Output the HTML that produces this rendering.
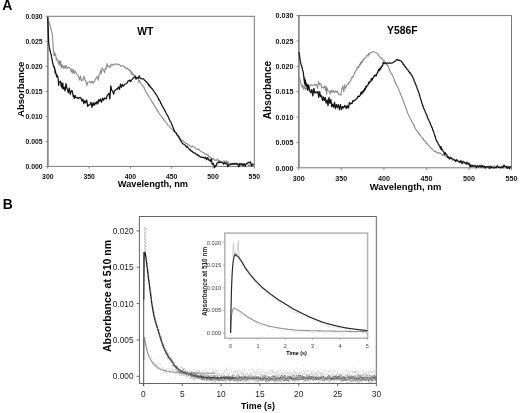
<!DOCTYPE html>
<html><head><meta charset="utf-8"><title>Figure</title>
<style>html,body{margin:0;padding:0;background:#fff;width:520px;height:413px;overflow:hidden;font-family:"Liberation Sans",sans-serif}svg{display:block;will-change:transform}</style>
</head><body>
<svg width="520" height="413" viewBox="0 0 520 413">
<rect width="520" height="413" fill="#fff"/>
<text x="2.3" y="10.2" font-family="Liberation Sans, sans-serif" font-weight="bold" font-size="14" fill="#000">A</text>
<text x="2.8" y="209.0" font-family="Liberation Sans, sans-serif" font-weight="bold" font-size="13.8" fill="#000">B</text>
<rect x="47.8" y="16.3" width="206.5" height="150.1" fill="none" stroke="#7a7a7a" stroke-width="1"/>
<line x1="47.8" y1="16.3" x2="47.8" y2="166.4" stroke="#8a8a8a" stroke-width="1.6"/>
<line x1="45.5" y1="166.40" x2="47.8" y2="166.40" stroke="#7a7a7a" stroke-width="0.9"/>
<text transform="translate(42.60,169.15) scale(0.88,1)" font-family="Liberation Sans, sans-serif" font-weight="bold" font-size="7.8" text-anchor="end" fill="#111">0.000</text>
<line x1="45.5" y1="141.38" x2="47.8" y2="141.38" stroke="#7a7a7a" stroke-width="0.9"/>
<text transform="translate(42.60,144.13) scale(0.88,1)" font-family="Liberation Sans, sans-serif" font-weight="bold" font-size="7.8" text-anchor="end" fill="#111">0.005</text>
<line x1="45.5" y1="116.37" x2="47.8" y2="116.37" stroke="#7a7a7a" stroke-width="0.9"/>
<text transform="translate(42.60,119.12) scale(0.88,1)" font-family="Liberation Sans, sans-serif" font-weight="bold" font-size="7.8" text-anchor="end" fill="#111">0.010</text>
<line x1="45.5" y1="91.35" x2="47.8" y2="91.35" stroke="#7a7a7a" stroke-width="0.9"/>
<text transform="translate(42.60,94.10) scale(0.88,1)" font-family="Liberation Sans, sans-serif" font-weight="bold" font-size="7.8" text-anchor="end" fill="#111">0.015</text>
<line x1="45.5" y1="66.33" x2="47.8" y2="66.33" stroke="#7a7a7a" stroke-width="0.9"/>
<text transform="translate(42.60,69.08) scale(0.88,1)" font-family="Liberation Sans, sans-serif" font-weight="bold" font-size="7.8" text-anchor="end" fill="#111">0.020</text>
<line x1="45.5" y1="41.32" x2="47.8" y2="41.32" stroke="#7a7a7a" stroke-width="0.9"/>
<text transform="translate(42.60,44.07) scale(0.88,1)" font-family="Liberation Sans, sans-serif" font-weight="bold" font-size="7.8" text-anchor="end" fill="#111">0.025</text>
<line x1="45.5" y1="16.30" x2="47.8" y2="16.30" stroke="#7a7a7a" stroke-width="0.9"/>
<text transform="translate(42.60,19.05) scale(0.88,1)" font-family="Liberation Sans, sans-serif" font-weight="bold" font-size="7.8" text-anchor="end" fill="#111">0.030</text>
<line x1="47.80" y1="166.4" x2="47.80" y2="168.6" stroke="#7a7a7a" stroke-width="0.9"/>
<text transform="translate(47.80,178.80) scale(0.88,1)" font-family="Liberation Sans, sans-serif" font-weight="bold" font-size="7.8" text-anchor="middle" fill="#111">300</text>
<line x1="89.10" y1="166.4" x2="89.10" y2="168.6" stroke="#7a7a7a" stroke-width="0.9"/>
<text transform="translate(89.10,178.80) scale(0.88,1)" font-family="Liberation Sans, sans-serif" font-weight="bold" font-size="7.8" text-anchor="middle" fill="#111">350</text>
<line x1="130.40" y1="166.4" x2="130.40" y2="168.6" stroke="#7a7a7a" stroke-width="0.9"/>
<text transform="translate(130.40,178.80) scale(0.88,1)" font-family="Liberation Sans, sans-serif" font-weight="bold" font-size="7.8" text-anchor="middle" fill="#111">400</text>
<line x1="171.70" y1="166.4" x2="171.70" y2="168.6" stroke="#7a7a7a" stroke-width="0.9"/>
<text transform="translate(171.70,178.80) scale(0.88,1)" font-family="Liberation Sans, sans-serif" font-weight="bold" font-size="7.8" text-anchor="middle" fill="#111">450</text>
<line x1="213.00" y1="166.4" x2="213.00" y2="168.6" stroke="#7a7a7a" stroke-width="0.9"/>
<text transform="translate(213.00,178.80) scale(0.88,1)" font-family="Liberation Sans, sans-serif" font-weight="bold" font-size="7.8" text-anchor="middle" fill="#111">500</text>
<line x1="254.30" y1="166.4" x2="254.30" y2="168.6" stroke="#7a7a7a" stroke-width="0.9"/>
<text transform="translate(254.30,178.80) scale(0.88,1)" font-family="Liberation Sans, sans-serif" font-weight="bold" font-size="7.8" text-anchor="middle" fill="#111">550</text>
<text x="145.4" y="34.6" font-family="Liberation Sans, sans-serif" font-weight="bold" font-size="10.4" text-anchor="middle" fill="#000">WT</text>
<rect x="298.8" y="15.6" width="212.7" height="152.20000000000002" fill="none" stroke="#7a7a7a" stroke-width="1"/>
<line x1="298.8" y1="15.6" x2="298.8" y2="167.8" stroke="#8a8a8a" stroke-width="1.6"/>
<line x1="296.5" y1="167.80" x2="298.8" y2="167.80" stroke="#7a7a7a" stroke-width="0.9"/>
<text transform="translate(293.60,170.55) scale(0.9,1)" font-family="Liberation Sans, sans-serif" font-weight="bold" font-size="8.0" text-anchor="end" fill="#111">0.000</text>
<line x1="296.5" y1="142.43" x2="298.8" y2="142.43" stroke="#7a7a7a" stroke-width="0.9"/>
<text transform="translate(293.60,145.18) scale(0.9,1)" font-family="Liberation Sans, sans-serif" font-weight="bold" font-size="8.0" text-anchor="end" fill="#111">0.005</text>
<line x1="296.5" y1="117.07" x2="298.8" y2="117.07" stroke="#7a7a7a" stroke-width="0.9"/>
<text transform="translate(293.60,119.82) scale(0.9,1)" font-family="Liberation Sans, sans-serif" font-weight="bold" font-size="8.0" text-anchor="end" fill="#111">0.010</text>
<line x1="296.5" y1="91.70" x2="298.8" y2="91.70" stroke="#7a7a7a" stroke-width="0.9"/>
<text transform="translate(293.60,94.45) scale(0.9,1)" font-family="Liberation Sans, sans-serif" font-weight="bold" font-size="8.0" text-anchor="end" fill="#111">0.015</text>
<line x1="296.5" y1="66.33" x2="298.8" y2="66.33" stroke="#7a7a7a" stroke-width="0.9"/>
<text transform="translate(293.60,69.08) scale(0.9,1)" font-family="Liberation Sans, sans-serif" font-weight="bold" font-size="8.0" text-anchor="end" fill="#111">0.020</text>
<line x1="296.5" y1="40.97" x2="298.8" y2="40.97" stroke="#7a7a7a" stroke-width="0.9"/>
<text transform="translate(293.60,43.72) scale(0.9,1)" font-family="Liberation Sans, sans-serif" font-weight="bold" font-size="8.0" text-anchor="end" fill="#111">0.025</text>
<line x1="296.5" y1="15.60" x2="298.8" y2="15.60" stroke="#7a7a7a" stroke-width="0.9"/>
<text transform="translate(293.60,18.35) scale(0.9,1)" font-family="Liberation Sans, sans-serif" font-weight="bold" font-size="8.0" text-anchor="end" fill="#111">0.030</text>
<line x1="298.80" y1="167.8" x2="298.80" y2="170.0" stroke="#7a7a7a" stroke-width="0.9"/>
<text transform="translate(298.80,180.70) scale(0.9,1)" font-family="Liberation Sans, sans-serif" font-weight="bold" font-size="8.0" text-anchor="middle" fill="#111">300</text>
<line x1="341.34" y1="167.8" x2="341.34" y2="170.0" stroke="#7a7a7a" stroke-width="0.9"/>
<text transform="translate(341.34,180.70) scale(0.9,1)" font-family="Liberation Sans, sans-serif" font-weight="bold" font-size="8.0" text-anchor="middle" fill="#111">350</text>
<line x1="383.88" y1="167.8" x2="383.88" y2="170.0" stroke="#7a7a7a" stroke-width="0.9"/>
<text transform="translate(383.88,180.70) scale(0.9,1)" font-family="Liberation Sans, sans-serif" font-weight="bold" font-size="8.0" text-anchor="middle" fill="#111">400</text>
<line x1="426.42" y1="167.8" x2="426.42" y2="170.0" stroke="#7a7a7a" stroke-width="0.9"/>
<text transform="translate(426.42,180.70) scale(0.9,1)" font-family="Liberation Sans, sans-serif" font-weight="bold" font-size="8.0" text-anchor="middle" fill="#111">450</text>
<line x1="468.96" y1="167.8" x2="468.96" y2="170.0" stroke="#7a7a7a" stroke-width="0.9"/>
<text transform="translate(468.96,180.70) scale(0.9,1)" font-family="Liberation Sans, sans-serif" font-weight="bold" font-size="8.0" text-anchor="middle" fill="#111">500</text>
<line x1="511.50" y1="167.8" x2="511.50" y2="170.0" stroke="#7a7a7a" stroke-width="0.9"/>
<text transform="translate(511.50,180.70) scale(0.9,1)" font-family="Liberation Sans, sans-serif" font-weight="bold" font-size="8.0" text-anchor="middle" fill="#111">550</text>
<text x="402.3" y="33.8" font-family="Liberation Sans, sans-serif" font-weight="bold" font-size="10.4" text-anchor="middle" fill="#000">Y586F</text>
<text transform="translate(23.5,89.3) rotate(-90)" font-family="Liberation Sans, sans-serif" font-weight="bold" font-size="9.6" text-anchor="middle" fill="#000">Absorbance</text>
<text transform="translate(271.1,90) rotate(-90)" font-family="Liberation Sans, sans-serif" font-weight="bold" font-size="10.1" text-anchor="middle" fill="#000">Absorbance</text>
<text x="152.9" y="187.2" font-family="Liberation Sans, sans-serif" font-weight="bold" font-size="9.2" text-anchor="middle" fill="#000">Wavelength, nm</text>
<text x="405.6" y="190.2" font-family="Liberation Sans, sans-serif" font-weight="bold" font-size="9.4" text-anchor="middle" fill="#000">Wavelength, nm</text>
<polyline fill="none" stroke="#8c8c8c" stroke-width="1.1" stroke-linejoin="round" points="47.60,17.87 47.91,18.34 48.21,19.90 48.52,20.45 48.83,21.23 49.14,22.50 49.45,23.84 49.77,24.44 50.10,25.84 50.43,26.70 50.75,28.16 51.06,29.27 51.34,30.28 51.63,30.89 51.91,32.67 52.14,32.98 52.32,34.82 52.46,34.92 52.56,37.69 52.63,37.52 52.70,39.70 52.77,40.01 52.84,41.49 52.91,42.08 52.97,43.21 53.02,44.20 53.08,46.31 53.13,46.70 53.19,47.77 53.27,48.65 53.43,50.19 53.67,50.54 54.01,55.48 54.34,52.21 54.68,55.87 55.04,53.28 55.43,54.80 55.85,55.53 56.31,60.12 56.80,58.42 57.33,59.96 57.89,60.61 58.52,64.08 59.19,60.72 59.90,65.61 60.64,60.79 61.44,67.68 62.28,64.75 63.15,68.32 64.07,65.63 65.04,68.57 66.09,65.25 67.17,68.54 68.26,67.37 69.34,67.67 70.39,68.29 71.26,72.08 72.01,68.93 72.75,73.34 73.56,69.52 74.38,73.37 75.20,71.10 76.04,72.98 76.90,74.31 77.79,75.31 78.69,77.03 79.58,80.04 80.47,75.74 81.34,80.91 82.20,79.71 83.08,80.21 83.99,75.93 84.90,79.75 85.83,81.08 86.78,85.64 87.77,82.21 88.81,82.00 89.85,81.29 90.92,83.01 92.01,81.09 92.99,83.32 93.75,81.80 94.41,82.12 95.04,79.71 95.69,79.67 96.39,76.91 97.07,77.59 97.74,76.66 98.41,80.13 99.09,74.67 99.80,74.33 100.55,70.27 101.33,73.68 102.14,67.79 102.95,69.47 103.77,70.46 104.56,72.67 105.34,68.12 106.15,68.92 107.05,63.65 108.04,66.71 109.05,65.84 110.08,67.70 111.13,64.12 112.18,65.79 113.23,64.00 114.28,65.05 115.35,64.10 116.43,63.87 117.52,64.20 118.62,64.26 119.69,64.80 120.75,66.39 121.78,65.84 122.72,65.58 123.59,65.93 124.44,67.34 125.35,66.87 126.28,69.02 127.22,68.03 128.14,68.79 129.01,70.24 129.80,71.00 130.56,70.27 131.31,74.17 132.08,72.06 132.92,75.44 133.80,74.17 134.68,77.13 135.53,75.27 136.29,78.25 136.96,77.27 137.57,78.10 138.15,77.80 138.72,82.12 139.31,80.58 139.94,81.34 140.63,83.52 141.37,84.30 142.10,84.90 142.80,86.05 143.44,86.39 143.97,87.36 144.44,88.97 144.89,89.79 145.35,90.56 145.85,91.87 146.40,92.54 146.97,93.41 147.55,94.32 148.15,95.84 148.74,95.84 149.33,97.66 149.90,98.22 150.47,98.96 151.03,99.80 151.58,101.35 152.14,101.64 152.69,103.32 153.26,103.38 153.82,105.06 154.38,105.34 154.94,106.83 155.51,107.08 156.08,108.84 156.67,108.87 157.26,111.02 157.87,110.90 158.48,112.00 159.10,113.33 159.73,114.18 160.36,115.16 161.00,115.83 161.65,116.78 162.30,117.95 162.96,117.88 163.62,119.99 164.29,120.03 164.97,121.37 165.64,121.96 166.31,122.74 166.99,123.52 167.67,124.82 168.36,125.58 169.07,126.11 169.80,127.09 170.55,127.89 171.34,128.60 172.13,129.30 172.93,129.55 173.71,131.44 174.47,131.71 175.19,132.55 175.88,133.13 176.55,134.33 177.22,134.64 177.90,136.45 178.60,136.39 179.33,137.71 180.10,138.13 180.89,139.53 181.70,139.84 182.52,140.69 183.37,140.85 184.24,142.33 185.14,142.71 186.06,143.69 186.99,143.42 187.94,144.79 188.90,144.73 189.87,145.58 190.86,146.23 191.86,146.83 192.85,145.86 193.84,147.31 194.82,147.62 195.80,148.73 196.78,149.16 197.75,149.54 198.72,149.13 199.67,150.53 200.61,151.14 201.54,151.58 202.47,152.25 203.41,152.63 204.35,153.57 205.29,154.19 206.23,153.92 207.17,155.11 208.09,154.54 209.00,157.30 209.85,156.93 210.68,157.85 211.54,157.75 212.46,159.60 213.47,158.23 214.51,160.56 215.56,160.10 216.62,160.45 217.69,159.01 218.77,161.28 219.86,160.56 220.94,162.11 222.02,162.50 223.09,161.94 224.15,160.79 225.20,162.40 226.26,160.68 227.34,163.07 228.42,161.58 229.51,165.23 230.60,163.37 231.69,164.55 232.78,163.79 233.88,164.58 234.98,162.73 236.07,164.29 237.17,163.79 238.26,163.90 239.36,164.37 240.45,164.43 241.54,163.13 242.64,165.04 243.74,163.75 244.84,165.18 245.94,164.22 247.03,164.23 248.13,164.11 249.23,166.03 250.33,164.84 251.43,164.86 252.53,163.92 253.62,165.99"/>
<polyline fill="none" stroke="#151515" stroke-width="1.25" stroke-linejoin="round" points="47.60,17.05 47.66,17.46 47.72,19.11 47.77,20.07 47.83,21.62 47.88,22.42 47.93,23.42 47.99,24.69 48.04,25.84 48.08,26.01 48.13,27.95 48.18,29.36 48.22,30.34 48.27,31.44 48.32,32.49 48.36,33.63 48.40,34.65 48.44,35.49 48.48,37.47 48.51,37.54 48.55,39.04 48.59,39.65 48.64,41.61 48.69,42.50 48.75,43.80 48.85,43.70 48.99,45.54 49.15,45.77 49.36,47.89 49.62,48.60 49.90,50.40 50.15,50.91 50.44,52.16 50.74,53.14 51.04,54.73 51.30,54.76 51.51,56.88 51.69,57.35 51.87,58.96 52.04,58.84 52.23,60.82 52.43,61.65 52.68,63.08 52.95,63.67 53.24,65.30 53.56,65.59 53.88,67.03 54.21,66.53 54.53,68.67 54.82,68.17 55.12,73.07 55.42,70.44 55.75,73.66 56.14,73.38 56.61,76.93 57.14,75.48 57.69,75.97 58.21,79.14 58.67,85.32 59.14,82.18 59.72,81.95 60.52,81.28 61.36,86.86 61.98,83.03 62.40,88.17 62.79,83.14 63.31,88.98 64.13,87.15 65.08,91.01 66.03,83.57 66.86,88.42 67.51,89.33 68.28,92.93 69.25,88.20 70.28,94.35 71.27,90.87 72.11,90.59 72.73,93.46 73.26,96.57 73.78,95.77 74.33,98.35 74.98,95.27 75.93,97.72 76.99,97.32 78.07,98.66 79.14,97.87 80.19,97.35 81.15,98.50 82.03,101.22 82.89,99.20 83.80,103.60 84.74,100.60 85.70,102.91 86.69,99.97 87.72,106.45 88.76,104.85 89.82,104.87 90.89,102.22 91.98,107.41 93.07,102.75 94.09,105.43 95.05,102.63 96.01,104.17 96.95,101.35 97.84,103.87 98.73,99.52 99.64,101.34 100.60,99.05 101.59,102.24 102.60,98.13 103.60,100.24 104.57,97.97 105.45,98.33 106.21,98.95 106.90,96.38 107.57,94.81 108.26,94.44 109.01,93.46 109.87,98.85 110.78,85.77 111.72,90.23 112.68,91.30 113.64,94.13 114.60,90.51 115.57,90.09 116.55,88.93 117.53,89.08 118.51,86.94 119.49,89.42 120.48,83.99 121.47,87.30 122.46,84.45 123.45,86.09 124.43,84.49 125.37,84.26 126.29,83.59 127.17,82.87 128.05,80.93 128.91,80.97 129.78,80.04 130.63,81.63 131.41,80.14 132.18,79.30 132.99,78.34 133.91,77.60 134.98,76.51 136.06,79.26 137.10,77.54 138.16,78.21 139.25,75.80 140.34,78.68 141.43,78.52 142.50,78.81 143.47,78.83 144.35,79.93 145.19,80.66 146.01,81.62 146.79,82.09 147.52,83.33 148.22,83.56 148.90,85.89 149.59,85.06 150.29,87.06 150.98,87.28 151.66,88.68 152.33,88.69 152.99,90.07 153.63,90.65 154.26,91.94 154.87,92.41 155.47,93.66 156.06,94.27 156.63,95.09 157.20,96.31 157.74,97.32 158.27,97.96 158.78,99.98 159.29,99.85 159.80,100.91 160.31,101.33 160.83,103.55 161.33,103.58 161.84,105.47 162.35,106.14 162.85,107.19 163.36,107.99 163.88,108.66 164.41,109.32 164.94,110.94 165.48,111.32 166.03,113.06 166.56,114.18 167.09,114.90 167.61,115.72 168.12,116.63 168.62,117.60 169.12,119.17 169.61,119.83 170.09,121.26 170.56,121.36 171.02,122.58 171.45,123.31 171.87,125.10 172.28,125.07 172.70,126.50 173.12,127.61 173.56,128.46 174.03,129.70 174.54,131.44 175.11,131.87 175.73,132.63 176.38,133.06 177.04,134.99 177.68,135.42 178.27,135.99 178.80,136.72 179.28,138.54 179.75,138.89 180.22,140.04 180.72,140.44 181.27,141.70 181.95,142.64 182.75,143.59 183.63,144.21 184.55,144.73 185.48,145.39 186.37,147.09 187.19,146.45 187.96,147.56 188.71,148.45 189.46,149.75 190.22,149.63 191.01,151.04 191.86,150.90 192.76,151.98 193.69,152.98 194.62,152.93 195.55,153.42 196.46,154.75 197.38,154.32 198.31,155.86 199.27,155.78 200.25,156.89 201.26,157.31 202.29,157.13 203.32,157.37 204.37,158.16 205.43,157.26 206.50,159.63 207.58,157.60 208.63,160.03 209.62,159.95 210.49,161.30 211.31,158.98 212.06,163.99 212.63,164.37 213.17,163.30 213.75,164.96 214.60,167.71 215.56,165.49 216.33,165.50 217.08,162.91 217.97,162.79 218.88,161.65 219.87,162.65 220.94,162.05 221.86,162.30 222.68,162.58 223.54,164.18 224.58,162.55 225.67,163.76 226.76,163.16 227.85,166.70 228.95,164.48 230.05,164.85 231.14,163.87 232.23,164.25 233.32,163.35 234.42,164.32 235.52,163.93 236.61,163.55 237.70,164.35 238.79,166.87 239.88,163.28 240.96,165.00 242.04,163.88 243.14,166.01 244.23,163.59 245.26,165.90 246.24,163.69 247.25,163.21 248.33,162.25 249.43,162.77 250.52,161.84 251.59,166.02 252.64,164.41 253.64,164.08"/>
<polyline fill="none" stroke="#8c8c8c" stroke-width="1.1" stroke-linejoin="round" points="299.00,78.32 299.56,77.93 299.99,79.82 300.31,80.52 300.57,81.87 300.82,81.82 301.09,84.67 301.48,85.44 302.05,87.07 302.75,84.85 303.60,89.31 304.53,85.85 305.49,89.60 306.53,87.67 307.53,89.23 308.07,88.40 309.00,90.50 310.02,84.92 311.07,84.66 312.15,85.48 313.24,85.16 314.32,84.05 315.40,85.42 316.47,84.23 317.54,88.53 318.62,81.76 319.70,84.76 320.79,83.70 321.76,88.02 322.64,87.50 323.55,87.77 324.57,85.82 325.48,90.38 326.05,86.33 326.55,94.40 327.09,87.79 327.88,90.60 328.97,90.92 330.06,93.98 331.16,90.00 332.25,92.56 333.33,90.33 334.37,92.51 335.40,90.89 336.44,92.37 337.46,90.87 338.47,94.39 339.53,94.17 340.46,94.82 340.94,95.25 341.32,92.00 341.70,89.56 342.16,88.29 342.89,85.89 343.80,91.89 344.75,84.73 345.61,88.33 346.38,86.17 347.08,85.05 347.74,83.82 348.37,84.37 348.99,82.38 349.60,82.60 350.19,80.99 350.75,80.91 351.29,77.94 351.82,78.21 352.33,76.41 352.85,77.31 353.37,76.41 353.90,74.73 354.45,72.62 355.02,72.48 355.61,70.75 356.21,70.41 356.83,67.79 357.45,68.44 358.07,66.44 358.69,67.77 359.31,64.67 359.91,65.71 360.51,62.52 361.10,64.10 361.68,61.37 362.28,62.61 362.89,59.86 363.52,60.44 364.18,57.97 364.89,58.32 365.62,58.06 366.38,55.94 367.16,55.09 367.97,56.28 368.79,53.23 369.61,54.46 370.40,52.53 371.31,52.48 372.40,51.79 373.49,51.81 374.55,51.91 375.59,52.68 376.61,52.81 377.46,53.97 378.15,54.15 378.79,55.28 379.43,56.67 380.13,57.69 380.90,57.76 381.69,58.72 382.48,58.66 383.26,60.57 384.01,60.98 384.78,61.74 385.54,62.72 386.27,64.49 386.94,63.73 387.54,65.82 388.03,65.66 388.46,67.34 388.86,68.18 389.25,69.08 389.65,70.21 390.06,71.89 390.51,72.03 391.04,73.35 391.63,73.96 392.23,75.10 392.79,76.20 393.29,77.06 393.70,78.19 394.00,78.89 394.27,79.48 394.59,81.47 395.02,81.24 395.53,83.27 396.09,83.91 396.67,85.26 397.20,86.17 397.68,87.23 398.13,87.74 398.57,89.62 399.01,89.97 399.43,91.64 399.85,92.04 400.26,93.40 400.67,94.04 401.08,95.82 401.49,95.97 401.89,97.30 402.28,97.82 402.67,99.65 403.06,99.75 403.45,102.31 403.84,102.13 404.22,103.55 404.61,104.16 404.99,106.19 405.37,106.35 405.73,107.56 406.10,108.38 406.47,109.66 406.84,110.22 407.22,111.56 407.61,112.90 408.02,114.14 408.46,114.31 408.93,116.11 409.42,116.60 409.93,117.77 410.45,118.91 410.97,119.82 411.49,120.29 412.00,122.26 412.48,122.33 412.95,123.57 413.41,124.39 413.88,125.59 414.35,125.29 414.85,127.74 415.37,128.38 415.94,129.84 416.55,129.90 417.18,131.27 417.83,131.70 418.50,133.50 419.18,133.06 419.86,134.91 420.53,135.28 421.21,136.96 421.89,137.39 422.57,138.91 423.26,138.74 423.95,140.58 424.65,140.53 425.34,141.89 426.02,142.14 426.70,144.00 427.39,143.65 428.10,144.97 428.82,145.39 429.58,146.58 430.34,147.17 431.11,148.32 431.89,148.72 432.70,149.62 433.54,150.32 434.43,151.66 435.38,151.13 436.38,152.34 437.41,152.34 438.45,153.41 439.49,152.61 440.51,153.72 441.51,153.80 442.49,155.33 443.46,154.89 444.42,155.71 445.40,155.86 446.37,157.03 447.35,157.00 448.33,158.30 449.32,157.85 450.32,158.95 451.35,158.09 452.38,160.48 453.42,159.45 454.46,160.71 455.49,159.73 456.54,161.10 457.58,161.15 458.62,161.99 459.67,162.37 460.71,162.65 461.76,162.17 462.80,163.23 463.83,163.33 464.87,163.44 465.91,162.81 466.96,164.52 468.01,164.16 469.09,164.96 470.16,164.29 471.24,166.68 472.32,164.77 473.41,166.18 474.50,165.11 475.59,166.73 476.69,165.54 477.78,166.52 478.88,166.11 479.97,166.90 481.07,164.97 482.16,167.97 483.26,165.97 484.36,167.76 485.46,166.79 486.56,167.29 487.66,166.65 488.75,168.18 489.85,166.80 490.95,168.00 492.05,166.35 493.15,167.59 494.25,165.60 495.35,166.97 496.45,166.41 497.55,167.00 498.65,167.11 499.75,167.37 500.85,166.62 501.95,166.62 503.05,166.23 504.15,167.45 505.25,166.53 506.35,167.15 507.45,166.10 508.55,167.35 509.65,166.70 510.75,167.49"/>
<polyline fill="none" stroke="#151515" stroke-width="1.25" stroke-linejoin="round" points="299.00,52.23 299.17,52.91 299.33,54.43 299.49,54.92 299.65,57.17 299.80,56.93 299.93,58.57 300.07,59.07 300.22,60.64 300.39,61.62 300.61,62.62 300.88,63.60 301.22,65.20 301.58,65.56 301.94,67.52 302.23,67.85 302.50,69.95 302.75,70.47 302.97,71.43 303.19,71.74 303.37,73.37 303.53,74.57 303.69,76.49 303.86,76.63 304.06,80.11 304.28,77.64 304.50,83.78 304.75,80.89 305.03,83.88 305.34,79.82 305.67,85.64 306.03,82.68 306.43,86.04 306.95,84.31 307.58,90.22 308.28,84.83 309.04,88.01 309.88,91.16 310.80,92.81 311.78,89.32 312.82,95.87 313.87,88.43 314.91,93.21 315.92,91.95 316.89,92.78 317.83,91.34 318.75,97.46 319.67,91.54 320.60,96.69 321.52,95.62 322.45,100.44 323.37,96.82 324.29,100.57 325.22,97.51 326.15,103.04 327.09,99.81 328.03,105.64 328.97,97.47 329.91,103.31 330.84,99.42 331.76,106.74 332.69,104.17 333.61,107.28 334.56,102.48 335.52,108.61 336.48,104.51 337.45,107.64 338.43,104.65 339.45,109.88 340.48,104.51 341.52,109.57 342.57,106.53 343.65,107.99 344.74,105.38 345.72,107.16 346.47,108.53 347.14,105.39 347.82,107.55 348.58,107.81 349.41,102.45 350.26,104.03 351.12,103.06 351.98,103.64 352.84,100.67 353.69,101.33 354.53,100.20 355.39,100.19 356.24,99.02 357.10,98.44 357.94,96.03 358.77,96.64 359.57,96.33 360.33,94.85 361.06,92.09 361.73,94.17 362.35,91.51 362.95,92.68 363.53,90.11 364.12,91.21 364.71,88.45 365.33,89.39 365.98,86.11 366.65,87.00 367.32,85.35 368.00,85.20 368.69,82.17 369.38,83.18 370.07,81.08 370.76,81.60 371.46,78.32 372.15,80.05 372.85,78.07 373.55,77.92 374.25,75.43 374.94,76.16 375.63,74.87 376.32,75.73 377.02,73.10 377.71,72.89 378.39,69.61 379.07,70.96 379.73,68.36 380.36,69.71 380.93,67.12 381.46,67.49 382.00,65.68 382.57,65.76 383.25,62.30 384.17,63.70 385.17,62.76 386.21,63.30 387.30,62.98 388.39,63.24 389.46,62.85 390.54,63.24 391.63,63.09 392.63,62.88 393.59,62.01 394.50,61.45 395.33,61.06 396.20,60.09 397.22,59.33 398.31,60.45 399.35,60.20 400.35,60.71 401.29,61.00 402.03,62.22 402.66,62.55 403.25,64.57 403.84,64.36 404.47,66.10 405.13,66.35 405.79,67.63 406.45,68.04 407.12,69.51 407.78,69.78 408.44,71.38 409.13,71.68 409.83,73.19 410.51,72.94 411.16,74.74 411.75,75.18 412.27,76.52 412.74,76.89 413.18,78.40 413.60,79.18 414.00,80.47 414.40,81.43 414.80,82.12 415.20,83.08 415.61,84.57 416.02,84.98 416.43,86.52 416.84,87.20 417.25,88.92 417.64,89.34 418.03,90.85 418.41,91.23 418.77,92.42 419.12,93.40 419.45,95.09 419.76,95.59 420.05,97.45 420.34,97.94 420.62,99.21 420.91,99.65 421.22,100.84 421.54,101.02 421.89,103.52 422.26,103.87 422.63,105.40 423.01,105.71 423.41,107.79 423.81,108.56 424.22,109.51 424.64,109.84 425.05,111.37 425.46,112.34 425.88,113.26 426.31,114.16 426.75,115.16 427.19,116.13 427.63,117.92 428.07,119.01 428.50,119.30 428.94,120.62 429.37,121.66 429.81,121.98 430.25,123.61 430.69,124.46 431.12,125.56 431.55,126.95 431.97,127.33 432.38,128.04 432.77,130.11 433.15,130.38 433.51,131.74 433.86,132.24 434.21,133.91 434.56,134.88 434.91,136.11 435.28,136.34 435.66,138.70 436.06,139.46 436.48,140.85 436.93,140.92 437.38,141.88 437.85,142.63 438.34,144.35 438.84,144.70 439.37,146.13 439.92,146.38 440.49,148.77 441.08,146.64 441.70,149.83 442.34,149.41 443.01,151.09 443.71,151.72 444.42,154.51 445.15,152.60 445.92,154.39 446.72,154.33 447.59,157.29 448.52,156.70 449.48,159.06 450.47,157.18 451.48,158.25 452.50,158.81 453.51,159.25 454.54,160.13 455.58,161.48 456.62,159.56 457.67,160.91 458.73,161.06 459.79,162.28 460.85,160.50 461.90,163.66 462.95,161.26 463.98,162.15 465.00,162.72 466.01,163.91 467.03,162.02 468.05,164.00 469.08,163.19 470.11,166.97 471.14,165.17 472.19,166.54 473.25,165.54 474.33,166.24 475.42,165.68 476.52,167.75 477.61,165.67 478.71,166.90 479.81,165.53 480.91,167.14 482.00,165.42 483.10,166.99 484.20,166.08 485.30,168.12 486.40,166.59 487.50,166.78 488.59,166.35 489.69,168.36 490.79,166.07 491.89,167.72 492.99,167.50 494.09,168.05 495.19,167.45 496.29,167.62 497.39,165.72 498.49,167.33 499.59,167.16 500.69,167.95 501.79,166.64 502.89,167.76 503.99,165.01 505.09,166.56 506.19,166.23 507.29,168.36 508.39,166.76 509.49,168.75 510.59,166.03"/>
<rect x="139.4" y="216.5" width="236.9" height="167.0" fill="none" stroke="#666" stroke-width="1"/>
<line x1="136.6" y1="376.30" x2="139.4" y2="376.30" stroke="#555" stroke-width="0.9"/>
<text x="133.6" y="379.40" font-family="Liberation Sans, sans-serif" font-size="8.3" text-anchor="end" fill="#222">0.000</text>
<line x1="136.6" y1="339.95" x2="139.4" y2="339.95" stroke="#555" stroke-width="0.9"/>
<text x="133.6" y="343.05" font-family="Liberation Sans, sans-serif" font-size="8.3" text-anchor="end" fill="#222">0.005</text>
<line x1="136.6" y1="303.60" x2="139.4" y2="303.60" stroke="#555" stroke-width="0.9"/>
<text x="133.6" y="306.70" font-family="Liberation Sans, sans-serif" font-size="8.3" text-anchor="end" fill="#222">0.010</text>
<line x1="136.6" y1="267.25" x2="139.4" y2="267.25" stroke="#555" stroke-width="0.9"/>
<text x="133.6" y="270.35" font-family="Liberation Sans, sans-serif" font-size="8.3" text-anchor="end" fill="#222">0.015</text>
<line x1="136.6" y1="230.90" x2="139.4" y2="230.90" stroke="#555" stroke-width="0.9"/>
<text x="133.6" y="234.00" font-family="Liberation Sans, sans-serif" font-size="8.3" text-anchor="end" fill="#222">0.020</text>
<line x1="143.40" y1="383.5" x2="143.40" y2="386.1" stroke="#555" stroke-width="0.9"/>
<text x="143.40" y="397.3" font-family="Liberation Sans, sans-serif" font-size="8.3" text-anchor="middle" fill="#222">0</text>
<line x1="182.24" y1="383.5" x2="182.24" y2="386.1" stroke="#555" stroke-width="0.9"/>
<text x="182.24" y="397.3" font-family="Liberation Sans, sans-serif" font-size="8.3" text-anchor="middle" fill="#222">5</text>
<line x1="221.07" y1="383.5" x2="221.07" y2="386.1" stroke="#555" stroke-width="0.9"/>
<text x="221.07" y="397.3" font-family="Liberation Sans, sans-serif" font-size="8.3" text-anchor="middle" fill="#222">10</text>
<line x1="259.91" y1="383.5" x2="259.91" y2="386.1" stroke="#555" stroke-width="0.9"/>
<text x="259.91" y="397.3" font-family="Liberation Sans, sans-serif" font-size="8.3" text-anchor="middle" fill="#222">15</text>
<line x1="298.74" y1="383.5" x2="298.74" y2="386.1" stroke="#555" stroke-width="0.9"/>
<text x="298.74" y="397.3" font-family="Liberation Sans, sans-serif" font-size="8.3" text-anchor="middle" fill="#222">20</text>
<line x1="337.58" y1="383.5" x2="337.58" y2="386.1" stroke="#555" stroke-width="0.9"/>
<text x="337.58" y="397.3" font-family="Liberation Sans, sans-serif" font-size="8.3" text-anchor="middle" fill="#222">25</text>
<line x1="376.41" y1="383.5" x2="376.41" y2="386.1" stroke="#555" stroke-width="0.9"/>
<text x="376.41" y="397.3" font-family="Liberation Sans, sans-serif" font-size="8.3" text-anchor="middle" fill="#222">30</text>
<text transform="translate(110.6,296) rotate(-90)" font-family="Liberation Sans, sans-serif" font-weight="bold" font-size="10.5" text-anchor="middle" fill="#000">Absorbance at 510 nm</text>
<text x="258" y="409.0" font-family="Liberation Sans, sans-serif" font-weight="bold" font-size="8.9" text-anchor="middle" fill="#000">Time (s)</text>
<polyline fill="none" stroke="#888" stroke-width="1.1" points="143.70,360.00 144.20,337.10 144.70,339.40 145.20,341.76 145.70,344.20 146.20,346.84 146.70,349.20 147.20,351.16 147.70,352.93 148.20,354.48 148.70,355.80 149.20,356.98 149.70,358.03 150.20,358.99 150.70,359.87 151.20,360.68 151.70,361.46 152.20,362.21 152.70,362.90 153.20,363.55 153.70,364.16 154.20,364.70 154.70,365.19 155.20,365.65 155.70,366.09 156.20,366.51 156.70,366.91 157.20,367.28 157.70,367.62 158.20,367.94 158.70,368.24 159.20,368.50 159.70,368.74 160.20,368.97 160.70,369.19 161.20,369.41 161.70,369.61 162.20,369.81 162.70,369.99 163.20,370.17 163.70,370.33 164.20,370.49 164.70,370.63 165.20,370.77 165.70,370.89 166.20,371.00 166.70,371.10 167.20,371.19 167.70,371.28 168.20,371.36 168.70,371.45 169.20,371.52 169.70,371.60 170.20,371.67 170.70,371.74 171.20,371.81 171.70,371.87 172.20,371.93 172.70,371.98 173.20,372.04 173.70,372.09 174.20,372.13 174.70,372.18 175.20,372.22 175.70,372.25 176.20,372.29 176.70,372.32 177.20,372.35 177.70,372.38 178.20,372.41 178.70,372.44 179.20,372.47 179.70,372.50 180.20,372.52 180.70,372.55 181.20,372.58 181.70,372.60 182.20,372.63 182.70,372.66 183.20,372.68 183.70,372.70 184.20,372.73 184.70,372.75 185.20,372.77 185.70,372.80 186.20,372.82 186.70,372.84 187.20,372.86 187.70,372.88 188.20,372.90 188.70,372.92 189.20,372.94 189.70,372.95 190.20,372.97 190.70,372.99 191.20,373.00 191.70,373.02 192.20,373.03 192.70,373.05 193.20,373.06 193.70,373.08 194.20,373.09 194.70,373.10 195.20,373.11 195.70,373.13 196.20,373.14 196.70,373.15 197.20,373.16 197.70,373.17 198.20,373.17 198.70,373.18 199.20,373.19 199.70,373.20 200.20,373.20 200.70,373.21 201.20,373.21 201.70,373.22 202.20,373.23 202.70,373.23 203.20,373.24 203.70,373.24 204.20,373.25 204.70,373.26 205.20,373.26 205.70,373.27 206.20,373.27 206.70,373.28 207.20,373.28 207.70,373.29 208.20,373.29 208.70,373.30 209.20,373.31 209.70,373.31 210.20,373.32 210.70,373.32 211.20,373.33 211.70,373.33 212.20,373.33 212.70,373.34 213.20,373.34 213.70,373.35 214.20,373.35 214.70,373.36"/>
<polyline fill="none" stroke="#1a1a1a" stroke-width="1.25" points="143.70,300.00 144.10,256.00 145.00,251.50 145.50,254.81 146.00,258.29 146.50,261.94 147.00,265.77 147.50,269.95 148.00,274.27 148.50,278.44 149.00,282.18 149.50,285.73 150.00,289.55 150.50,293.50 151.00,297.45 151.50,301.24 152.00,304.72 152.50,307.78 153.00,310.62 153.50,313.30 154.00,315.81 154.50,318.12 155.00,320.22 155.50,322.07 156.00,323.65 156.50,325.20 157.00,326.81 157.50,328.42 158.00,330.03 158.50,331.65 159.00,333.29 159.50,334.96 160.00,336.63 160.50,338.26 161.00,339.80 161.50,341.30 162.00,342.75 162.50,344.16 163.00,345.49 163.50,346.74 164.00,347.94 164.50,349.11 165.00,350.24 165.50,351.32 166.00,352.36 166.50,353.35 167.00,354.29 167.50,355.17 168.00,356.00 168.50,356.78 169.00,357.52 169.50,358.23 170.00,358.91 170.50,359.59 171.00,360.25 171.50,360.92 172.00,361.61 172.50,362.31 173.00,363.05 173.50,363.82 174.00,364.58 174.50,365.28 175.00,365.88 175.50,366.47 176.00,367.04 176.50,367.58 177.00,368.09 177.50,368.56 178.00,369.00 178.50,369.39 179.00,369.73 179.50,370.05 180.00,370.34 180.50,370.62 181.00,370.88 181.50,371.12 182.00,371.35 182.50,371.58 183.00,371.79 183.50,372.01 184.00,372.22 184.50,372.43 185.00,372.63 185.50,372.83 186.00,373.03 186.50,373.22 187.00,373.40 187.50,373.58 188.00,373.76 188.50,373.93 189.00,374.09 189.50,374.25 190.00,374.40 190.50,374.55 191.00,374.69 191.50,374.84 192.00,374.98 192.50,375.12 193.00,375.25 193.50,375.39 194.00,375.51 194.50,375.64 195.00,375.76 195.50,375.87 196.00,375.98 196.50,376.08 197.00,376.18 197.50,376.27 198.00,376.35 198.50,376.43 199.00,376.51 199.50,376.59 200.00,376.67 200.50,376.75 201.00,376.83 201.50,376.90 202.00,376.97 202.50,377.04 203.00,377.11 203.50,377.18 204.00,377.24 204.50,377.30 205.00,377.35 205.50,377.40 206.00,377.44 206.50,377.49 207.00,377.52 207.50,377.55 208.00,377.58 208.50,377.60 209.00,377.62 209.50,377.63 210.00,377.65 210.50,377.67 211.00,377.68 211.50,377.70 212.00,377.71 212.50,377.73 213.00,377.74 213.50,377.76 214.00,377.77 214.50,377.79 215.00,377.80 215.50,377.81 216.00,377.82 216.50,377.84 217.00,377.85 217.50,377.86 218.00,377.87 218.50,377.88 219.00,377.89 219.50,377.90 220.00,377.91 220.50,377.92 221.00,377.93 221.50,377.93 222.00,377.94 222.50,377.95 223.00,377.95 223.50,377.96 224.00,377.97 224.50,377.97 225.00,377.98 225.50,377.98 226.00,377.98 226.50,377.99 227.00,377.99 227.50,377.99 228.00,378.00 228.50,378.00 229.00,378.00 229.50,378.00 230.00,378.00 230.50,378.00 231.00,378.00 231.50,378.00 232.00,378.00 232.50,378.00 233.00,378.00 233.50,378.00 234.00,378.00 234.50,378.00 235.00,378.00 235.50,378.00"/>
<path d="M145.0 342.3h0.9v0.9h-0.9zM145.6 342.4h0.9v0.9h-0.9zM146.1 344.2h0.9v0.9h-0.9zM146.7 347.7h0.9v0.9h-0.9zM147.2 349.1h0.9v0.9h-0.9zM147.8 352.9h0.9v0.9h-0.9zM148.3 354.5h0.9v0.9h-0.9zM148.9 355.6h0.9v0.9h-0.9zM149.4 355.8h0.9v0.9h-0.9zM150.0 351.0h0.9v0.9h-0.9zM150.5 359.1h0.9v0.9h-0.9zM151.1 356.2h0.9v0.9h-0.9zM151.6 361.2h0.9v0.9h-0.9zM152.2 363.7h0.9v0.9h-0.9zM152.7 362.8h0.9v0.9h-0.9zM153.3 362.3h0.9v0.9h-0.9zM153.8 363.3h0.9v0.9h-0.9zM154.4 364.0h0.9v0.9h-0.9zM154.9 363.7h0.9v0.9h-0.9zM155.5 364.2h0.9v0.9h-0.9zM156.0 364.0h0.9v0.9h-0.9zM156.6 368.4h0.9v0.9h-0.9zM157.1 366.6h0.9v0.9h-0.9zM157.7 368.8h0.9v0.9h-0.9zM158.2 366.9h0.9v0.9h-0.9zM158.8 367.8h0.9v0.9h-0.9zM159.3 367.6h0.9v0.9h-0.9zM159.9 369.1h0.9v0.9h-0.9zM160.4 370.0h0.9v0.9h-0.9zM161.0 369.2h0.9v0.9h-0.9zM161.5 367.7h0.9v0.9h-0.9zM162.1 367.7h0.9v0.9h-0.9zM162.6 372.5h0.9v0.9h-0.9zM163.2 369.0h0.9v0.9h-0.9zM163.7 369.2h0.9v0.9h-0.9zM164.3 372.7h0.9v0.9h-0.9zM164.8 372.1h0.9v0.9h-0.9zM165.4 371.2h0.9v0.9h-0.9zM165.9 369.6h0.9v0.9h-0.9zM166.5 374.9h0.9v0.9h-0.9zM167.0 371.3h0.9v0.9h-0.9zM167.6 371.7h0.9v0.9h-0.9zM168.1 370.4h0.9v0.9h-0.9zM168.7 368.2h0.9v0.9h-0.9zM169.2 368.4h0.9v0.9h-0.9zM169.8 371.8h0.9v0.9h-0.9zM170.3 371.8h0.9v0.9h-0.9zM170.9 370.7h0.9v0.9h-0.9zM171.4 369.0h0.9v0.9h-0.9zM172.0 368.6h0.9v0.9h-0.9zM172.5 370.7h0.9v0.9h-0.9zM173.1 368.7h0.9v0.9h-0.9zM173.6 373.2h0.9v0.9h-0.9zM174.2 373.7h0.9v0.9h-0.9zM174.7 377.0h0.9v0.9h-0.9zM175.3 373.3h0.9v0.9h-0.9zM175.8 370.5h0.9v0.9h-0.9zM176.4 370.0h0.9v0.9h-0.9zM176.9 365.2h0.9v0.9h-0.9zM177.5 370.6h0.9v0.9h-0.9zM178.0 371.5h0.9v0.9h-0.9zM178.6 373.7h0.9v0.9h-0.9zM179.1 373.0h0.9v0.9h-0.9zM179.7 373.0h0.9v0.9h-0.9zM180.2 372.3h0.9v0.9h-0.9zM180.8 373.2h0.9v0.9h-0.9zM181.3 374.7h0.9v0.9h-0.9zM181.9 370.0h0.9v0.9h-0.9zM182.4 371.2h0.9v0.9h-0.9zM183.0 369.4h0.9v0.9h-0.9zM183.5 375.2h0.9v0.9h-0.9zM184.1 374.6h0.9v0.9h-0.9zM184.6 373.6h0.9v0.9h-0.9zM185.2 369.9h0.9v0.9h-0.9zM185.7 372.5h0.9v0.9h-0.9zM186.3 371.8h0.9v0.9h-0.9zM186.8 372.4h0.9v0.9h-0.9zM187.4 371.9h0.9v0.9h-0.9zM187.9 373.3h0.9v0.9h-0.9zM188.5 371.6h0.9v0.9h-0.9zM189.0 374.0h0.9v0.9h-0.9zM189.6 372.8h0.9v0.9h-0.9zM190.1 371.8h0.9v0.9h-0.9zM190.7 372.2h0.9v0.9h-0.9zM191.2 371.6h0.9v0.9h-0.9zM191.8 374.0h0.9v0.9h-0.9zM192.3 371.9h0.9v0.9h-0.9zM192.9 373.0h0.9v0.9h-0.9zM193.4 371.7h0.9v0.9h-0.9zM194.0 369.7h0.9v0.9h-0.9zM194.5 374.2h0.9v0.9h-0.9zM195.1 370.5h0.9v0.9h-0.9zM195.6 373.8h0.9v0.9h-0.9zM196.2 373.3h0.9v0.9h-0.9zM196.7 369.4h0.9v0.9h-0.9zM197.3 370.8h0.9v0.9h-0.9zM197.8 371.6h0.9v0.9h-0.9zM198.4 371.0h0.9v0.9h-0.9zM198.9 370.3h0.9v0.9h-0.9zM199.5 374.0h0.9v0.9h-0.9zM200.0 372.1h0.9v0.9h-0.9zM200.6 373.3h0.9v0.9h-0.9zM201.1 371.8h0.9v0.9h-0.9zM201.7 373.2h0.9v0.9h-0.9zM202.2 371.2h0.9v0.9h-0.9zM202.8 372.6h0.9v0.9h-0.9zM203.3 373.7h0.9v0.9h-0.9zM203.9 372.7h0.9v0.9h-0.9zM204.4 371.8h0.9v0.9h-0.9zM205.0 370.6h0.9v0.9h-0.9zM205.5 373.0h0.9v0.9h-0.9zM206.1 373.3h0.9v0.9h-0.9zM206.6 372.2h0.9v0.9h-0.9zM207.2 371.2h0.9v0.9h-0.9zM207.7 373.7h0.9v0.9h-0.9zM208.3 377.4h0.9v0.9h-0.9zM208.8 372.1h0.9v0.9h-0.9zM209.4 373.3h0.9v0.9h-0.9zM209.9 373.4h0.9v0.9h-0.9zM210.5 367.8h0.9v0.9h-0.9zM211.0 373.0h0.9v0.9h-0.9zM211.6 371.4h0.9v0.9h-0.9zM212.1 375.4h0.9v0.9h-0.9zM212.7 372.3h0.9v0.9h-0.9zM213.2 371.3h0.9v0.9h-0.9zM213.8 372.3h0.9v0.9h-0.9zM214.3 373.1h0.9v0.9h-0.9zM214.9 371.7h0.9v0.9h-0.9zM215.4 372.7h0.9v0.9h-0.9zM216.0 370.2h0.9v0.9h-0.9zM216.5 372.3h0.9v0.9h-0.9zM217.1 374.3h0.9v0.9h-0.9zM217.6 376.5h0.9v0.9h-0.9zM218.2 374.1h0.9v0.9h-0.9zM218.7 373.3h0.9v0.9h-0.9zM219.3 375.0h0.9v0.9h-0.9zM219.8 374.7h0.9v0.9h-0.9zM220.4 376.0h0.9v0.9h-0.9zM220.9 374.9h0.9v0.9h-0.9zM221.5 372.6h0.9v0.9h-0.9zM222.0 373.3h0.9v0.9h-0.9zM222.6 373.2h0.9v0.9h-0.9zM223.1 373.4h0.9v0.9h-0.9zM223.7 373.2h0.9v0.9h-0.9zM224.2 371.3h0.9v0.9h-0.9zM224.8 368.8h0.9v0.9h-0.9zM225.3 371.6h0.9v0.9h-0.9zM225.9 369.0h0.9v0.9h-0.9zM226.4 373.0h0.9v0.9h-0.9zM227.0 372.9h0.9v0.9h-0.9zM227.5 369.7h0.9v0.9h-0.9zM228.1 374.2h0.9v0.9h-0.9zM228.6 374.5h0.9v0.9h-0.9zM229.2 373.0h0.9v0.9h-0.9zM229.7 376.0h0.9v0.9h-0.9zM230.3 376.4h0.9v0.9h-0.9zM230.8 370.6h0.9v0.9h-0.9zM231.4 374.9h0.9v0.9h-0.9zM231.9 373.7h0.9v0.9h-0.9zM232.5 373.7h0.9v0.9h-0.9zM233.0 374.7h0.9v0.9h-0.9zM233.6 371.5h0.9v0.9h-0.9zM234.1 371.8h0.9v0.9h-0.9zM234.7 371.3h0.9v0.9h-0.9zM235.2 371.5h0.9v0.9h-0.9zM235.8 372.7h0.9v0.9h-0.9zM236.3 370.1h0.9v0.9h-0.9zM236.9 370.9h0.9v0.9h-0.9zM237.4 374.0h0.9v0.9h-0.9zM238.0 372.8h0.9v0.9h-0.9zM238.5 373.6h0.9v0.9h-0.9zM239.1 369.3h0.9v0.9h-0.9zM239.6 371.4h0.9v0.9h-0.9zM240.2 371.9h0.9v0.9h-0.9zM240.7 373.0h0.9v0.9h-0.9zM241.3 371.8h0.9v0.9h-0.9zM241.8 374.7h0.9v0.9h-0.9zM242.4 372.8h0.9v0.9h-0.9zM242.9 373.0h0.9v0.9h-0.9zM243.5 373.0h0.9v0.9h-0.9zM244.0 374.3h0.9v0.9h-0.9zM244.6 372.1h0.9v0.9h-0.9zM245.1 375.1h0.9v0.9h-0.9zM245.7 373.8h0.9v0.9h-0.9zM246.2 373.2h0.9v0.9h-0.9zM246.8 373.0h0.9v0.9h-0.9zM247.3 373.9h0.9v0.9h-0.9zM247.9 374.9h0.9v0.9h-0.9zM248.4 374.8h0.9v0.9h-0.9zM249.0 373.7h0.9v0.9h-0.9zM249.5 374.6h0.9v0.9h-0.9zM250.1 373.2h0.9v0.9h-0.9zM250.6 375.3h0.9v0.9h-0.9zM251.2 372.9h0.9v0.9h-0.9zM251.7 369.0h0.9v0.9h-0.9zM252.3 375.5h0.9v0.9h-0.9zM252.8 373.2h0.9v0.9h-0.9zM253.4 370.8h0.9v0.9h-0.9zM253.9 372.6h0.9v0.9h-0.9zM254.5 371.3h0.9v0.9h-0.9zM255.0 377.0h0.9v0.9h-0.9zM255.6 373.9h0.9v0.9h-0.9zM256.1 370.0h0.9v0.9h-0.9zM256.7 374.0h0.9v0.9h-0.9zM257.2 372.2h0.9v0.9h-0.9zM257.8 376.6h0.9v0.9h-0.9zM258.3 371.0h0.9v0.9h-0.9zM258.9 368.7h0.9v0.9h-0.9zM259.4 373.1h0.9v0.9h-0.9zM260.0 372.3h0.9v0.9h-0.9zM260.5 372.2h0.9v0.9h-0.9zM261.1 368.9h0.9v0.9h-0.9zM261.6 373.8h0.9v0.9h-0.9zM262.2 376.2h0.9v0.9h-0.9zM262.7 369.4h0.9v0.9h-0.9zM263.3 375.2h0.9v0.9h-0.9zM263.8 371.9h0.9v0.9h-0.9zM264.4 377.5h0.9v0.9h-0.9zM264.9 373.8h0.9v0.9h-0.9zM265.5 372.7h0.9v0.9h-0.9zM266.0 375.1h0.9v0.9h-0.9zM266.6 374.0h0.9v0.9h-0.9zM267.1 371.9h0.9v0.9h-0.9zM267.7 374.4h0.9v0.9h-0.9zM268.2 372.1h0.9v0.9h-0.9zM268.8 369.6h0.9v0.9h-0.9zM269.3 376.9h0.9v0.9h-0.9zM269.9 372.4h0.9v0.9h-0.9zM270.4 371.9h0.9v0.9h-0.9zM271.0 373.7h0.9v0.9h-0.9zM271.5 370.1h0.9v0.9h-0.9zM272.1 370.5h0.9v0.9h-0.9zM272.6 372.1h0.9v0.9h-0.9zM273.2 372.0h0.9v0.9h-0.9zM273.7 373.2h0.9v0.9h-0.9zM274.3 375.2h0.9v0.9h-0.9zM274.8 372.1h0.9v0.9h-0.9zM275.4 374.0h0.9v0.9h-0.9zM275.9 374.2h0.9v0.9h-0.9zM276.5 371.0h0.9v0.9h-0.9zM277.0 373.5h0.9v0.9h-0.9zM277.6 371.3h0.9v0.9h-0.9zM278.1 375.1h0.9v0.9h-0.9zM278.7 373.9h0.9v0.9h-0.9zM279.2 373.1h0.9v0.9h-0.9zM279.8 370.5h0.9v0.9h-0.9zM280.3 373.3h0.9v0.9h-0.9zM280.9 371.6h0.9v0.9h-0.9zM281.4 374.4h0.9v0.9h-0.9zM282.0 372.8h0.9v0.9h-0.9zM282.5 371.5h0.9v0.9h-0.9zM283.1 374.8h0.9v0.9h-0.9zM283.6 374.4h0.9v0.9h-0.9zM284.2 371.9h0.9v0.9h-0.9zM284.7 375.3h0.9v0.9h-0.9zM285.3 372.5h0.9v0.9h-0.9zM285.8 372.5h0.9v0.9h-0.9zM286.4 373.3h0.9v0.9h-0.9zM286.9 371.6h0.9v0.9h-0.9zM287.5 372.2h0.9v0.9h-0.9zM288.0 372.8h0.9v0.9h-0.9zM288.6 376.0h0.9v0.9h-0.9zM289.1 375.9h0.9v0.9h-0.9zM289.7 372.6h0.9v0.9h-0.9zM290.2 376.1h0.9v0.9h-0.9zM290.8 373.0h0.9v0.9h-0.9zM291.3 373.8h0.9v0.9h-0.9zM291.9 374.8h0.9v0.9h-0.9zM292.4 373.6h0.9v0.9h-0.9zM293.0 377.7h0.9v0.9h-0.9zM293.5 373.6h0.9v0.9h-0.9zM294.1 370.8h0.9v0.9h-0.9zM294.6 375.6h0.9v0.9h-0.9zM295.2 372.3h0.9v0.9h-0.9zM295.7 372.5h0.9v0.9h-0.9zM296.3 367.4h0.9v0.9h-0.9zM296.8 375.0h0.9v0.9h-0.9zM297.4 374.7h0.9v0.9h-0.9zM297.9 374.6h0.9v0.9h-0.9zM298.5 375.0h0.9v0.9h-0.9zM299.0 376.3h0.9v0.9h-0.9zM299.6 373.0h0.9v0.9h-0.9zM300.1 374.9h0.9v0.9h-0.9zM300.7 371.7h0.9v0.9h-0.9zM301.2 372.4h0.9v0.9h-0.9zM301.8 375.1h0.9v0.9h-0.9zM302.3 373.9h0.9v0.9h-0.9zM302.9 370.6h0.9v0.9h-0.9zM303.4 373.8h0.9v0.9h-0.9zM304.0 372.8h0.9v0.9h-0.9zM304.5 371.6h0.9v0.9h-0.9zM305.1 373.9h0.9v0.9h-0.9zM305.6 372.3h0.9v0.9h-0.9zM306.2 370.1h0.9v0.9h-0.9zM306.7 371.0h0.9v0.9h-0.9zM307.3 376.5h0.9v0.9h-0.9zM307.8 370.2h0.9v0.9h-0.9zM308.4 373.5h0.9v0.9h-0.9zM308.9 374.3h0.9v0.9h-0.9zM309.5 374.3h0.9v0.9h-0.9zM310.0 370.8h0.9v0.9h-0.9zM310.6 372.5h0.9v0.9h-0.9zM311.1 373.4h0.9v0.9h-0.9zM311.7 374.6h0.9v0.9h-0.9zM312.2 371.9h0.9v0.9h-0.9zM312.8 370.9h0.9v0.9h-0.9zM313.3 375.0h0.9v0.9h-0.9zM313.9 375.2h0.9v0.9h-0.9zM314.4 373.8h0.9v0.9h-0.9zM315.0 372.0h0.9v0.9h-0.9zM315.5 373.9h0.9v0.9h-0.9zM316.1 373.3h0.9v0.9h-0.9zM316.6 374.7h0.9v0.9h-0.9zM317.2 370.8h0.9v0.9h-0.9zM317.7 373.4h0.9v0.9h-0.9zM318.3 372.8h0.9v0.9h-0.9zM318.8 371.0h0.9v0.9h-0.9zM319.4 373.6h0.9v0.9h-0.9zM319.9 373.2h0.9v0.9h-0.9zM320.5 372.4h0.9v0.9h-0.9zM321.0 373.9h0.9v0.9h-0.9zM321.6 370.5h0.9v0.9h-0.9zM322.1 373.0h0.9v0.9h-0.9zM322.7 374.0h0.9v0.9h-0.9zM323.2 373.7h0.9v0.9h-0.9zM323.8 375.2h0.9v0.9h-0.9zM324.3 370.9h0.9v0.9h-0.9zM324.9 370.3h0.9v0.9h-0.9zM325.4 373.6h0.9v0.9h-0.9zM326.0 374.0h0.9v0.9h-0.9zM326.5 377.2h0.9v0.9h-0.9zM327.1 374.3h0.9v0.9h-0.9zM327.6 371.5h0.9v0.9h-0.9zM328.2 374.7h0.9v0.9h-0.9zM328.7 371.6h0.9v0.9h-0.9zM329.3 370.3h0.9v0.9h-0.9zM329.8 378.1h0.9v0.9h-0.9zM330.4 373.8h0.9v0.9h-0.9zM330.9 374.5h0.9v0.9h-0.9zM331.5 374.2h0.9v0.9h-0.9zM332.0 376.6h0.9v0.9h-0.9zM332.6 373.7h0.9v0.9h-0.9zM333.1 375.5h0.9v0.9h-0.9zM333.7 371.2h0.9v0.9h-0.9zM334.2 370.5h0.9v0.9h-0.9zM334.8 375.9h0.9v0.9h-0.9zM335.3 376.0h0.9v0.9h-0.9zM335.9 374.1h0.9v0.9h-0.9zM336.4 373.6h0.9v0.9h-0.9zM337.0 373.5h0.9v0.9h-0.9zM337.5 371.9h0.9v0.9h-0.9zM338.1 376.1h0.9v0.9h-0.9zM338.6 374.4h0.9v0.9h-0.9zM339.2 374.1h0.9v0.9h-0.9zM339.7 373.9h0.9v0.9h-0.9zM340.3 375.2h0.9v0.9h-0.9zM340.8 374.1h0.9v0.9h-0.9zM341.4 374.6h0.9v0.9h-0.9zM341.9 371.0h0.9v0.9h-0.9zM342.5 374.1h0.9v0.9h-0.9zM343.0 377.3h0.9v0.9h-0.9zM343.6 372.2h0.9v0.9h-0.9zM344.1 372.9h0.9v0.9h-0.9zM344.7 374.9h0.9v0.9h-0.9zM345.2 375.0h0.9v0.9h-0.9zM345.8 374.4h0.9v0.9h-0.9zM346.3 370.1h0.9v0.9h-0.9zM346.9 374.1h0.9v0.9h-0.9zM347.4 370.9h0.9v0.9h-0.9zM348.0 371.6h0.9v0.9h-0.9zM348.5 374.2h0.9v0.9h-0.9zM349.1 372.6h0.9v0.9h-0.9zM349.6 374.7h0.9v0.9h-0.9zM350.2 379.2h0.9v0.9h-0.9zM350.7 374.7h0.9v0.9h-0.9zM351.3 374.6h0.9v0.9h-0.9zM351.8 371.5h0.9v0.9h-0.9zM352.4 372.0h0.9v0.9h-0.9zM352.9 371.2h0.9v0.9h-0.9zM353.5 372.2h0.9v0.9h-0.9zM354.0 371.1h0.9v0.9h-0.9zM354.6 371.9h0.9v0.9h-0.9zM355.1 372.8h0.9v0.9h-0.9zM355.7 371.3h0.9v0.9h-0.9zM356.2 370.5h0.9v0.9h-0.9zM356.8 370.6h0.9v0.9h-0.9zM357.3 374.1h0.9v0.9h-0.9zM357.9 373.3h0.9v0.9h-0.9zM358.4 375.1h0.9v0.9h-0.9zM359.0 375.2h0.9v0.9h-0.9zM359.5 372.5h0.9v0.9h-0.9zM360.1 374.5h0.9v0.9h-0.9zM360.6 370.5h0.9v0.9h-0.9zM361.2 377.5h0.9v0.9h-0.9zM361.7 375.5h0.9v0.9h-0.9zM362.3 372.8h0.9v0.9h-0.9zM362.8 371.0h0.9v0.9h-0.9zM363.4 373.9h0.9v0.9h-0.9zM363.9 369.6h0.9v0.9h-0.9zM364.5 371.7h0.9v0.9h-0.9zM365.0 374.6h0.9v0.9h-0.9zM365.6 373.3h0.9v0.9h-0.9zM366.1 372.3h0.9v0.9h-0.9zM366.7 375.0h0.9v0.9h-0.9zM367.2 371.2h0.9v0.9h-0.9zM367.8 373.7h0.9v0.9h-0.9zM368.3 372.3h0.9v0.9h-0.9zM368.9 371.6h0.9v0.9h-0.9zM369.4 374.1h0.9v0.9h-0.9zM370.0 371.3h0.9v0.9h-0.9zM370.5 376.8h0.9v0.9h-0.9zM371.1 372.1h0.9v0.9h-0.9zM371.6 377.0h0.9v0.9h-0.9zM372.2 371.1h0.9v0.9h-0.9zM372.7 374.4h0.9v0.9h-0.9zM373.3 370.9h0.9v0.9h-0.9zM373.8 370.7h0.9v0.9h-0.9zM374.4 373.5h0.9v0.9h-0.9zM374.9 374.5h0.9v0.9h-0.9zM375.5 370.8h0.9v0.9h-0.9z" fill="#bdbdbd" fill-opacity="0.9"/>
<path d="M150.0 360.0h0.8v0.8h-0.8zM150.9 356.8h0.8v0.8h-0.8zM151.8 360.4h0.8v0.8h-0.8zM152.7 362.3h0.8v0.8h-0.8zM153.6 364.0h0.8v0.8h-0.8zM154.5 359.2h0.8v0.8h-0.8zM155.4 368.2h0.8v0.8h-0.8zM156.3 366.4h0.8v0.8h-0.8zM157.2 364.8h0.8v0.8h-0.8zM158.1 363.9h0.8v0.8h-0.8zM159.0 362.8h0.8v0.8h-0.8zM159.9 364.1h0.8v0.8h-0.8zM160.8 369.0h0.8v0.8h-0.8zM161.7 367.3h0.8v0.8h-0.8zM162.6 365.7h0.8v0.8h-0.8zM163.5 367.5h0.8v0.8h-0.8zM164.4 372.8h0.8v0.8h-0.8zM165.3 368.5h0.8v0.8h-0.8zM166.2 368.1h0.8v0.8h-0.8zM167.1 372.9h0.8v0.8h-0.8zM168.0 370.9h0.8v0.8h-0.8zM168.9 370.1h0.8v0.8h-0.8zM169.8 368.7h0.8v0.8h-0.8zM170.7 366.5h0.8v0.8h-0.8zM171.6 367.5h0.8v0.8h-0.8zM172.5 369.3h0.8v0.8h-0.8zM173.4 370.0h0.8v0.8h-0.8zM174.3 371.5h0.8v0.8h-0.8zM175.2 372.0h0.8v0.8h-0.8zM176.1 371.3h0.8v0.8h-0.8zM177.0 371.4h0.8v0.8h-0.8zM177.9 368.5h0.8v0.8h-0.8zM178.8 365.8h0.8v0.8h-0.8zM179.7 369.7h0.8v0.8h-0.8zM180.6 368.8h0.8v0.8h-0.8zM181.5 369.5h0.8v0.8h-0.8zM182.4 370.5h0.8v0.8h-0.8zM183.3 368.2h0.8v0.8h-0.8zM184.2 368.6h0.8v0.8h-0.8zM185.1 371.0h0.8v0.8h-0.8zM186.0 371.6h0.8v0.8h-0.8zM186.9 369.8h0.8v0.8h-0.8zM187.8 372.6h0.8v0.8h-0.8zM188.7 370.9h0.8v0.8h-0.8zM189.6 369.0h0.8v0.8h-0.8zM190.5 371.6h0.8v0.8h-0.8zM191.4 376.0h0.8v0.8h-0.8zM192.3 369.9h0.8v0.8h-0.8zM193.2 374.4h0.8v0.8h-0.8zM194.1 374.9h0.8v0.8h-0.8zM195.0 375.2h0.8v0.8h-0.8zM195.9 369.7h0.8v0.8h-0.8zM196.8 376.5h0.8v0.8h-0.8zM197.7 371.9h0.8v0.8h-0.8zM198.6 371.1h0.8v0.8h-0.8zM199.5 371.1h0.8v0.8h-0.8zM200.4 373.1h0.8v0.8h-0.8zM201.3 371.8h0.8v0.8h-0.8zM202.2 371.3h0.8v0.8h-0.8zM203.1 374.8h0.8v0.8h-0.8zM204.0 370.0h0.8v0.8h-0.8zM204.9 369.3h0.8v0.8h-0.8zM205.8 373.7h0.8v0.8h-0.8zM206.7 373.5h0.8v0.8h-0.8zM207.6 374.4h0.8v0.8h-0.8zM208.5 369.2h0.8v0.8h-0.8zM209.4 374.4h0.8v0.8h-0.8zM210.3 373.0h0.8v0.8h-0.8zM211.2 376.1h0.8v0.8h-0.8zM212.1 368.8h0.8v0.8h-0.8zM213.0 372.4h0.8v0.8h-0.8zM213.9 371.2h0.8v0.8h-0.8zM214.8 368.0h0.8v0.8h-0.8zM215.7 370.2h0.8v0.8h-0.8zM216.6 374.6h0.8v0.8h-0.8zM217.5 370.8h0.8v0.8h-0.8zM218.4 370.2h0.8v0.8h-0.8zM219.3 374.0h0.8v0.8h-0.8zM220.2 374.3h0.8v0.8h-0.8zM221.1 374.3h0.8v0.8h-0.8zM222.0 370.0h0.8v0.8h-0.8zM222.9 371.8h0.8v0.8h-0.8zM223.8 374.4h0.8v0.8h-0.8zM224.7 370.4h0.8v0.8h-0.8zM225.6 370.1h0.8v0.8h-0.8zM226.5 373.9h0.8v0.8h-0.8zM227.4 375.7h0.8v0.8h-0.8zM228.3 369.2h0.8v0.8h-0.8zM229.2 365.7h0.8v0.8h-0.8zM230.1 368.5h0.8v0.8h-0.8zM231.0 369.5h0.8v0.8h-0.8zM231.9 371.7h0.8v0.8h-0.8zM232.8 373.5h0.8v0.8h-0.8zM233.7 371.6h0.8v0.8h-0.8zM234.6 370.3h0.8v0.8h-0.8zM235.5 372.4h0.8v0.8h-0.8zM236.4 369.7h0.8v0.8h-0.8zM237.3 371.9h0.8v0.8h-0.8zM238.2 370.5h0.8v0.8h-0.8zM239.1 378.5h0.8v0.8h-0.8zM240.0 374.0h0.8v0.8h-0.8zM240.9 370.0h0.8v0.8h-0.8zM241.8 369.6h0.8v0.8h-0.8zM242.7 371.0h0.8v0.8h-0.8zM243.6 368.1h0.8v0.8h-0.8zM244.5 370.3h0.8v0.8h-0.8zM245.4 370.3h0.8v0.8h-0.8zM246.3 374.2h0.8v0.8h-0.8zM247.2 371.0h0.8v0.8h-0.8zM248.1 370.2h0.8v0.8h-0.8zM249.0 368.8h0.8v0.8h-0.8zM249.9 369.2h0.8v0.8h-0.8zM250.8 371.9h0.8v0.8h-0.8zM251.7 371.6h0.8v0.8h-0.8zM252.6 374.8h0.8v0.8h-0.8zM253.5 370.6h0.8v0.8h-0.8zM254.4 374.6h0.8v0.8h-0.8zM255.3 372.7h0.8v0.8h-0.8zM256.2 372.1h0.8v0.8h-0.8zM257.1 367.3h0.8v0.8h-0.8zM258.0 369.0h0.8v0.8h-0.8zM258.9 373.9h0.8v0.8h-0.8zM259.8 375.5h0.8v0.8h-0.8zM260.7 372.6h0.8v0.8h-0.8zM261.6 373.9h0.8v0.8h-0.8zM262.5 371.1h0.8v0.8h-0.8zM263.4 371.2h0.8v0.8h-0.8zM264.3 370.5h0.8v0.8h-0.8zM265.2 374.5h0.8v0.8h-0.8zM266.1 372.9h0.8v0.8h-0.8zM267.0 371.6h0.8v0.8h-0.8zM267.9 371.3h0.8v0.8h-0.8zM268.8 373.5h0.8v0.8h-0.8zM269.7 372.9h0.8v0.8h-0.8zM270.6 370.1h0.8v0.8h-0.8zM271.5 376.3h0.8v0.8h-0.8zM272.4 372.8h0.8v0.8h-0.8zM273.3 372.2h0.8v0.8h-0.8zM274.2 375.7h0.8v0.8h-0.8zM275.1 374.6h0.8v0.8h-0.8zM276.0 371.9h0.8v0.8h-0.8zM276.9 373.4h0.8v0.8h-0.8zM277.8 369.6h0.8v0.8h-0.8zM278.7 370.6h0.8v0.8h-0.8zM279.6 366.7h0.8v0.8h-0.8zM280.5 375.1h0.8v0.8h-0.8zM281.4 367.6h0.8v0.8h-0.8zM282.3 373.8h0.8v0.8h-0.8zM283.2 370.2h0.8v0.8h-0.8zM284.1 369.8h0.8v0.8h-0.8zM285.0 371.7h0.8v0.8h-0.8zM285.9 372.8h0.8v0.8h-0.8zM286.8 373.6h0.8v0.8h-0.8zM287.7 376.4h0.8v0.8h-0.8zM288.6 373.0h0.8v0.8h-0.8zM289.5 374.3h0.8v0.8h-0.8zM290.4 370.7h0.8v0.8h-0.8zM291.3 373.9h0.8v0.8h-0.8zM292.2 372.6h0.8v0.8h-0.8zM293.1 371.1h0.8v0.8h-0.8zM294.0 372.0h0.8v0.8h-0.8zM294.9 372.0h0.8v0.8h-0.8zM295.8 372.7h0.8v0.8h-0.8zM296.7 373.2h0.8v0.8h-0.8zM297.6 371.0h0.8v0.8h-0.8zM298.5 370.4h0.8v0.8h-0.8zM299.4 374.0h0.8v0.8h-0.8zM300.3 368.1h0.8v0.8h-0.8zM301.2 370.7h0.8v0.8h-0.8zM302.1 375.9h0.8v0.8h-0.8zM303.0 365.7h0.8v0.8h-0.8zM303.9 370.5h0.8v0.8h-0.8zM304.8 373.9h0.8v0.8h-0.8zM305.7 368.3h0.8v0.8h-0.8zM306.6 378.5h0.8v0.8h-0.8zM307.5 366.0h0.8v0.8h-0.8zM308.4 375.7h0.8v0.8h-0.8zM309.3 376.0h0.8v0.8h-0.8zM310.2 374.4h0.8v0.8h-0.8zM311.1 371.7h0.8v0.8h-0.8zM312.0 373.1h0.8v0.8h-0.8zM312.9 370.1h0.8v0.8h-0.8zM313.8 374.2h0.8v0.8h-0.8zM314.7 369.5h0.8v0.8h-0.8zM315.6 371.6h0.8v0.8h-0.8zM316.5 374.6h0.8v0.8h-0.8zM317.4 369.6h0.8v0.8h-0.8zM318.3 371.4h0.8v0.8h-0.8zM319.2 372.6h0.8v0.8h-0.8zM320.1 369.0h0.8v0.8h-0.8zM321.0 375.0h0.8v0.8h-0.8zM321.9 373.1h0.8v0.8h-0.8zM322.8 368.6h0.8v0.8h-0.8zM323.7 372.1h0.8v0.8h-0.8zM324.6 370.4h0.8v0.8h-0.8zM325.5 370.7h0.8v0.8h-0.8zM326.4 372.4h0.8v0.8h-0.8zM327.3 370.6h0.8v0.8h-0.8zM328.2 374.6h0.8v0.8h-0.8zM329.1 370.6h0.8v0.8h-0.8zM330.0 374.6h0.8v0.8h-0.8zM330.9 372.2h0.8v0.8h-0.8zM331.8 374.3h0.8v0.8h-0.8zM332.7 371.0h0.8v0.8h-0.8zM333.6 371.1h0.8v0.8h-0.8zM334.5 369.5h0.8v0.8h-0.8zM335.4 373.7h0.8v0.8h-0.8zM336.3 374.5h0.8v0.8h-0.8zM337.2 377.4h0.8v0.8h-0.8zM338.1 375.4h0.8v0.8h-0.8zM339.0 372.9h0.8v0.8h-0.8zM339.9 371.8h0.8v0.8h-0.8zM340.8 373.2h0.8v0.8h-0.8zM341.7 372.2h0.8v0.8h-0.8zM342.6 375.8h0.8v0.8h-0.8zM343.5 374.5h0.8v0.8h-0.8zM344.4 370.3h0.8v0.8h-0.8zM345.3 370.6h0.8v0.8h-0.8zM346.2 375.6h0.8v0.8h-0.8zM347.1 373.0h0.8v0.8h-0.8zM348.0 371.7h0.8v0.8h-0.8zM348.9 375.1h0.8v0.8h-0.8zM349.8 371.4h0.8v0.8h-0.8zM350.7 371.6h0.8v0.8h-0.8zM351.6 371.2h0.8v0.8h-0.8zM352.5 367.6h0.8v0.8h-0.8zM353.4 374.4h0.8v0.8h-0.8zM354.3 369.4h0.8v0.8h-0.8zM355.2 370.9h0.8v0.8h-0.8zM356.1 370.5h0.8v0.8h-0.8zM357.0 374.0h0.8v0.8h-0.8zM357.9 372.1h0.8v0.8h-0.8zM358.8 372.3h0.8v0.8h-0.8zM359.7 368.3h0.8v0.8h-0.8zM360.6 372.1h0.8v0.8h-0.8zM361.5 368.8h0.8v0.8h-0.8zM362.4 373.0h0.8v0.8h-0.8zM363.3 373.2h0.8v0.8h-0.8zM364.2 372.3h0.8v0.8h-0.8zM365.1 377.2h0.8v0.8h-0.8zM366.0 373.6h0.8v0.8h-0.8zM366.9 373.7h0.8v0.8h-0.8zM367.8 372.6h0.8v0.8h-0.8zM368.7 371.8h0.8v0.8h-0.8zM369.6 374.6h0.8v0.8h-0.8zM370.5 374.9h0.8v0.8h-0.8zM371.4 369.2h0.8v0.8h-0.8zM372.3 374.8h0.8v0.8h-0.8zM373.2 373.5h0.8v0.8h-0.8zM374.1 374.6h0.8v0.8h-0.8zM375.0 373.4h0.8v0.8h-0.8zM375.9 369.3h0.8v0.8h-0.8z" fill="#d0d0d0" fill-opacity="0.9"/>
<path d="M146.0 256.9h0.9v0.9h-0.9zM146.3 263.2h0.9v0.9h-0.9zM146.6 263.2h0.9v0.9h-0.9zM146.9 263.2h0.9v0.9h-0.9zM147.2 268.1h0.9v0.9h-0.9zM147.5 269.6h0.9v0.9h-0.9zM147.8 270.2h0.9v0.9h-0.9zM148.1 272.1h0.9v0.9h-0.9zM148.4 275.6h0.9v0.9h-0.9zM148.7 280.6h0.9v0.9h-0.9zM149.0 282.3h0.9v0.9h-0.9zM149.3 284.1h0.9v0.9h-0.9zM149.6 287.1h0.9v0.9h-0.9zM149.9 289.8h0.9v0.9h-0.9zM150.2 288.4h0.9v0.9h-0.9zM150.5 293.3h0.9v0.9h-0.9zM150.8 294.9h0.9v0.9h-0.9zM151.1 296.7h0.9v0.9h-0.9zM151.4 299.9h0.9v0.9h-0.9zM151.7 302.7h0.9v0.9h-0.9zM152.0 304.5h0.9v0.9h-0.9zM152.3 304.8h0.9v0.9h-0.9zM152.6 307.9h0.9v0.9h-0.9zM152.9 313.1h0.9v0.9h-0.9zM153.2 310.4h0.9v0.9h-0.9zM153.5 311.1h0.9v0.9h-0.9zM153.8 315.4h0.9v0.9h-0.9zM154.1 317.3h0.9v0.9h-0.9zM154.4 318.5h0.9v0.9h-0.9zM154.7 317.6h0.9v0.9h-0.9zM155.0 321.8h0.9v0.9h-0.9zM155.3 320.5h0.9v0.9h-0.9zM155.6 321.0h0.9v0.9h-0.9zM155.9 322.7h0.9v0.9h-0.9zM156.2 324.3h0.9v0.9h-0.9zM156.5 326.4h0.9v0.9h-0.9zM156.8 327.2h0.9v0.9h-0.9zM157.1 327.3h0.9v0.9h-0.9zM157.4 329.6h0.9v0.9h-0.9zM157.7 329.4h0.9v0.9h-0.9zM158.0 331.5h0.9v0.9h-0.9zM158.3 329.2h0.9v0.9h-0.9zM158.6 330.0h0.9v0.9h-0.9zM158.9 334.2h0.9v0.9h-0.9zM159.2 332.2h0.9v0.9h-0.9zM159.5 334.7h0.9v0.9h-0.9zM159.8 336.0h0.9v0.9h-0.9zM160.1 336.5h0.9v0.9h-0.9zM160.4 337.5h0.9v0.9h-0.9zM160.7 341.0h0.9v0.9h-0.9zM161.0 336.5h0.9v0.9h-0.9zM161.3 342.1h0.9v0.9h-0.9zM161.6 345.0h0.9v0.9h-0.9zM161.9 342.7h0.9v0.9h-0.9zM162.2 343.5h0.9v0.9h-0.9zM162.5 345.4h0.9v0.9h-0.9zM162.8 347.7h0.9v0.9h-0.9zM163.1 344.3h0.9v0.9h-0.9zM163.4 346.8h0.9v0.9h-0.9zM163.7 347.2h0.9v0.9h-0.9zM164.0 348.9h0.9v0.9h-0.9zM164.3 349.1h0.9v0.9h-0.9zM164.6 350.5h0.9v0.9h-0.9zM164.9 349.6h0.9v0.9h-0.9zM165.2 350.9h0.9v0.9h-0.9zM165.5 350.6h0.9v0.9h-0.9zM165.8 351.2h0.9v0.9h-0.9zM166.1 352.6h0.9v0.9h-0.9zM166.4 353.2h0.9v0.9h-0.9zM166.7 352.3h0.9v0.9h-0.9zM167.0 356.7h0.9v0.9h-0.9zM167.3 354.8h0.9v0.9h-0.9zM167.6 353.6h0.9v0.9h-0.9zM167.9 357.6h0.9v0.9h-0.9zM168.2 355.5h0.9v0.9h-0.9zM168.5 357.7h0.9v0.9h-0.9zM168.8 357.4h0.9v0.9h-0.9zM169.1 358.2h0.9v0.9h-0.9zM169.4 358.5h0.9v0.9h-0.9zM169.7 357.9h0.9v0.9h-0.9zM170.0 359.2h0.9v0.9h-0.9zM170.3 362.4h0.9v0.9h-0.9zM170.6 356.8h0.9v0.9h-0.9zM170.9 360.4h0.9v0.9h-0.9zM171.2 361.3h0.9v0.9h-0.9zM171.5 359.7h0.9v0.9h-0.9zM171.8 359.6h0.9v0.9h-0.9zM172.1 365.0h0.9v0.9h-0.9zM172.4 361.8h0.9v0.9h-0.9zM172.7 365.7h0.9v0.9h-0.9zM173.0 364.0h0.9v0.9h-0.9zM173.3 363.8h0.9v0.9h-0.9zM173.6 364.8h0.9v0.9h-0.9zM173.9 365.5h0.9v0.9h-0.9zM174.2 366.7h0.9v0.9h-0.9zM174.5 366.1h0.9v0.9h-0.9zM174.8 366.0h0.9v0.9h-0.9zM175.1 366.4h0.9v0.9h-0.9zM175.4 368.4h0.9v0.9h-0.9zM175.7 368.0h0.9v0.9h-0.9zM176.0 365.8h0.9v0.9h-0.9zM176.3 366.7h0.9v0.9h-0.9zM176.6 368.3h0.9v0.9h-0.9zM176.9 367.3h0.9v0.9h-0.9zM177.2 368.0h0.9v0.9h-0.9zM177.5 367.4h0.9v0.9h-0.9zM177.8 368.7h0.9v0.9h-0.9zM178.1 369.9h0.9v0.9h-0.9zM178.4 370.9h0.9v0.9h-0.9zM178.7 369.7h0.9v0.9h-0.9zM179.0 372.8h0.9v0.9h-0.9zM179.3 370.0h0.9v0.9h-0.9zM179.6 374.8h0.9v0.9h-0.9zM179.9 371.9h0.9v0.9h-0.9zM180.2 371.4h0.9v0.9h-0.9zM180.5 370.1h0.9v0.9h-0.9zM180.8 367.0h0.9v0.9h-0.9zM181.1 370.9h0.9v0.9h-0.9zM181.4 371.5h0.9v0.9h-0.9zM181.7 374.1h0.9v0.9h-0.9zM182.0 369.6h0.9v0.9h-0.9zM182.3 374.4h0.9v0.9h-0.9zM182.6 371.5h0.9v0.9h-0.9zM182.9 373.0h0.9v0.9h-0.9zM183.2 368.5h0.9v0.9h-0.9zM183.5 372.4h0.9v0.9h-0.9zM183.8 371.9h0.9v0.9h-0.9zM184.1 373.4h0.9v0.9h-0.9zM184.4 372.7h0.9v0.9h-0.9zM184.7 371.1h0.9v0.9h-0.9zM185.0 374.2h0.9v0.9h-0.9zM185.3 373.9h0.9v0.9h-0.9zM185.6 373.9h0.9v0.9h-0.9zM185.9 374.6h0.9v0.9h-0.9zM186.2 374.8h0.9v0.9h-0.9zM186.5 373.4h0.9v0.9h-0.9zM186.8 371.6h0.9v0.9h-0.9zM187.1 371.7h0.9v0.9h-0.9zM187.4 375.6h0.9v0.9h-0.9zM187.7 374.8h0.9v0.9h-0.9zM188.0 374.1h0.9v0.9h-0.9zM188.3 373.5h0.9v0.9h-0.9zM188.6 374.2h0.9v0.9h-0.9zM188.9 374.3h0.9v0.9h-0.9zM189.2 373.9h0.9v0.9h-0.9zM189.5 373.5h0.9v0.9h-0.9zM189.8 377.6h0.9v0.9h-0.9zM190.1 374.9h0.9v0.9h-0.9zM190.4 373.9h0.9v0.9h-0.9zM190.7 373.0h0.9v0.9h-0.9zM191.0 373.9h0.9v0.9h-0.9zM191.3 376.0h0.9v0.9h-0.9zM191.6 376.1h0.9v0.9h-0.9zM191.9 374.8h0.9v0.9h-0.9zM192.2 375.3h0.9v0.9h-0.9zM192.5 374.9h0.9v0.9h-0.9zM192.8 373.8h0.9v0.9h-0.9zM193.1 377.3h0.9v0.9h-0.9zM193.4 376.1h0.9v0.9h-0.9zM193.7 379.1h0.9v0.9h-0.9zM194.0 374.7h0.9v0.9h-0.9zM194.3 375.6h0.9v0.9h-0.9zM194.6 377.1h0.9v0.9h-0.9zM194.9 375.6h0.9v0.9h-0.9zM195.2 374.1h0.9v0.9h-0.9zM195.5 374.7h0.9v0.9h-0.9zM195.8 376.3h0.9v0.9h-0.9zM196.1 376.7h0.9v0.9h-0.9zM196.4 376.1h0.9v0.9h-0.9zM196.7 377.7h0.9v0.9h-0.9zM197.0 377.8h0.9v0.9h-0.9zM197.3 376.9h0.9v0.9h-0.9zM197.6 376.5h0.9v0.9h-0.9zM197.9 376.2h0.9v0.9h-0.9zM198.2 377.4h0.9v0.9h-0.9zM198.5 377.9h0.9v0.9h-0.9zM198.8 376.8h0.9v0.9h-0.9zM199.1 377.4h0.9v0.9h-0.9zM199.4 376.3h0.9v0.9h-0.9zM199.7 374.8h0.9v0.9h-0.9zM200.0 375.5h0.9v0.9h-0.9zM200.3 378.0h0.9v0.9h-0.9zM200.6 377.6h0.9v0.9h-0.9zM200.9 379.2h0.9v0.9h-0.9zM201.2 377.1h0.9v0.9h-0.9zM201.5 378.3h0.9v0.9h-0.9zM201.8 379.0h0.9v0.9h-0.9zM202.1 378.6h0.9v0.9h-0.9zM202.4 376.4h0.9v0.9h-0.9zM202.7 377.0h0.9v0.9h-0.9zM203.0 377.5h0.9v0.9h-0.9zM203.3 376.0h0.9v0.9h-0.9zM203.6 378.1h0.9v0.9h-0.9zM203.9 378.9h0.9v0.9h-0.9zM204.2 376.8h0.9v0.9h-0.9zM204.5 380.3h0.9v0.9h-0.9zM204.8 377.1h0.9v0.9h-0.9zM205.1 377.3h0.9v0.9h-0.9zM205.4 377.3h0.9v0.9h-0.9zM205.7 376.6h0.9v0.9h-0.9zM206.0 378.2h0.9v0.9h-0.9zM206.3 377.7h0.9v0.9h-0.9zM206.6 380.0h0.9v0.9h-0.9zM206.9 378.6h0.9v0.9h-0.9zM207.2 378.5h0.9v0.9h-0.9zM207.5 377.4h0.9v0.9h-0.9zM207.8 375.8h0.9v0.9h-0.9zM208.1 377.7h0.9v0.9h-0.9zM208.4 376.6h0.9v0.9h-0.9zM208.7 379.1h0.9v0.9h-0.9zM209.0 377.8h0.9v0.9h-0.9zM209.3 380.2h0.9v0.9h-0.9zM209.6 378.9h0.9v0.9h-0.9zM209.9 379.0h0.9v0.9h-0.9zM210.2 378.2h0.9v0.9h-0.9zM210.5 378.2h0.9v0.9h-0.9zM210.8 378.8h0.9v0.9h-0.9zM211.1 379.2h0.9v0.9h-0.9zM211.4 376.9h0.9v0.9h-0.9zM211.7 378.6h0.9v0.9h-0.9zM212.0 381.6h0.9v0.9h-0.9zM212.3 377.8h0.9v0.9h-0.9zM212.6 377.6h0.9v0.9h-0.9zM212.9 377.0h0.9v0.9h-0.9zM213.2 375.9h0.9v0.9h-0.9zM213.5 379.6h0.9v0.9h-0.9zM213.8 378.1h0.9v0.9h-0.9zM214.1 378.4h0.9v0.9h-0.9zM214.4 380.6h0.9v0.9h-0.9zM214.7 381.5h0.9v0.9h-0.9zM215.0 376.8h0.9v0.9h-0.9zM215.3 379.5h0.9v0.9h-0.9zM215.6 378.9h0.9v0.9h-0.9zM215.9 378.6h0.9v0.9h-0.9zM216.2 378.7h0.9v0.9h-0.9zM216.5 378.0h0.9v0.9h-0.9zM216.8 380.3h0.9v0.9h-0.9zM217.1 378.9h0.9v0.9h-0.9zM217.4 378.5h0.9v0.9h-0.9zM217.7 379.8h0.9v0.9h-0.9zM218.0 379.3h0.9v0.9h-0.9zM218.3 378.7h0.9v0.9h-0.9zM218.6 378.5h0.9v0.9h-0.9zM218.9 380.5h0.9v0.9h-0.9zM219.2 378.8h0.9v0.9h-0.9zM219.5 378.0h0.9v0.9h-0.9zM219.8 376.9h0.9v0.9h-0.9zM220.1 377.6h0.9v0.9h-0.9zM220.4 376.6h0.9v0.9h-0.9zM220.7 378.3h0.9v0.9h-0.9zM221.0 378.5h0.9v0.9h-0.9zM221.3 375.3h0.9v0.9h-0.9zM221.6 378.2h0.9v0.9h-0.9zM221.9 379.1h0.9v0.9h-0.9zM222.2 378.4h0.9v0.9h-0.9zM222.5 376.8h0.9v0.9h-0.9zM222.8 379.9h0.9v0.9h-0.9zM223.1 377.2h0.9v0.9h-0.9zM223.4 376.4h0.9v0.9h-0.9zM223.7 376.7h0.9v0.9h-0.9zM224.0 378.1h0.9v0.9h-0.9zM224.3 379.5h0.9v0.9h-0.9zM224.6 379.8h0.9v0.9h-0.9zM224.9 378.5h0.9v0.9h-0.9zM225.2 376.5h0.9v0.9h-0.9zM225.5 377.3h0.9v0.9h-0.9zM225.8 376.9h0.9v0.9h-0.9zM226.1 377.9h0.9v0.9h-0.9zM226.4 375.7h0.9v0.9h-0.9zM226.7 378.3h0.9v0.9h-0.9zM227.0 379.1h0.9v0.9h-0.9zM227.3 378.0h0.9v0.9h-0.9zM227.6 378.8h0.9v0.9h-0.9zM227.9 376.9h0.9v0.9h-0.9zM228.2 376.2h0.9v0.9h-0.9zM228.5 377.3h0.9v0.9h-0.9zM228.8 379.8h0.9v0.9h-0.9zM229.1 379.6h0.9v0.9h-0.9zM229.4 377.6h0.9v0.9h-0.9zM229.7 379.9h0.9v0.9h-0.9zM230.0 377.7h0.9v0.9h-0.9zM230.3 380.3h0.9v0.9h-0.9zM230.6 378.9h0.9v0.9h-0.9zM230.9 377.6h0.9v0.9h-0.9zM231.2 379.3h0.9v0.9h-0.9zM231.5 377.1h0.9v0.9h-0.9zM231.8 376.9h0.9v0.9h-0.9zM232.1 376.2h0.9v0.9h-0.9zM232.4 378.6h0.9v0.9h-0.9zM232.7 378.1h0.9v0.9h-0.9zM233.0 378.1h0.9v0.9h-0.9zM233.3 377.6h0.9v0.9h-0.9zM233.6 380.2h0.9v0.9h-0.9zM233.9 377.6h0.9v0.9h-0.9zM234.2 377.2h0.9v0.9h-0.9zM234.5 379.9h0.9v0.9h-0.9zM234.8 380.2h0.9v0.9h-0.9zM235.1 378.7h0.9v0.9h-0.9zM235.4 375.8h0.9v0.9h-0.9zM235.7 377.4h0.9v0.9h-0.9zM236.0 379.1h0.9v0.9h-0.9zM236.3 378.2h0.9v0.9h-0.9zM236.6 380.4h0.9v0.9h-0.9zM236.9 376.3h0.9v0.9h-0.9zM237.2 379.1h0.9v0.9h-0.9zM237.5 377.3h0.9v0.9h-0.9zM237.8 380.1h0.9v0.9h-0.9zM238.1 378.1h0.9v0.9h-0.9zM238.4 379.6h0.9v0.9h-0.9zM238.7 377.3h0.9v0.9h-0.9zM239.0 376.2h0.9v0.9h-0.9zM239.3 376.6h0.9v0.9h-0.9zM239.6 377.4h0.9v0.9h-0.9zM239.9 376.8h0.9v0.9h-0.9zM240.2 379.9h0.9v0.9h-0.9zM240.5 380.1h0.9v0.9h-0.9zM240.8 378.6h0.9v0.9h-0.9zM241.1 376.8h0.9v0.9h-0.9zM241.4 378.0h0.9v0.9h-0.9zM241.7 377.2h0.9v0.9h-0.9zM242.0 380.2h0.9v0.9h-0.9zM242.3 378.6h0.9v0.9h-0.9zM242.6 378.9h0.9v0.9h-0.9zM242.9 377.6h0.9v0.9h-0.9zM243.2 375.4h0.9v0.9h-0.9zM243.5 377.1h0.9v0.9h-0.9zM243.8 376.6h0.9v0.9h-0.9zM244.1 378.7h0.9v0.9h-0.9zM244.4 378.3h0.9v0.9h-0.9zM244.7 377.1h0.9v0.9h-0.9zM245.0 377.7h0.9v0.9h-0.9zM245.3 380.4h0.9v0.9h-0.9zM245.6 376.9h0.9v0.9h-0.9zM245.9 376.9h0.9v0.9h-0.9zM246.2 377.9h0.9v0.9h-0.9zM246.5 377.2h0.9v0.9h-0.9zM246.8 377.6h0.9v0.9h-0.9zM247.1 378.9h0.9v0.9h-0.9zM247.4 380.6h0.9v0.9h-0.9zM247.7 375.7h0.9v0.9h-0.9zM248.0 378.2h0.9v0.9h-0.9zM248.3 378.3h0.9v0.9h-0.9zM248.6 378.1h0.9v0.9h-0.9zM248.9 377.9h0.9v0.9h-0.9zM249.2 377.7h0.9v0.9h-0.9zM249.5 379.6h0.9v0.9h-0.9zM249.8 377.5h0.9v0.9h-0.9zM250.1 378.0h0.9v0.9h-0.9zM250.4 378.2h0.9v0.9h-0.9zM250.7 378.4h0.9v0.9h-0.9zM251.0 378.0h0.9v0.9h-0.9zM251.3 379.6h0.9v0.9h-0.9zM251.6 378.2h0.9v0.9h-0.9zM251.9 378.4h0.9v0.9h-0.9zM252.2 378.1h0.9v0.9h-0.9zM252.5 376.8h0.9v0.9h-0.9zM252.8 377.0h0.9v0.9h-0.9zM253.1 376.7h0.9v0.9h-0.9zM253.4 378.5h0.9v0.9h-0.9zM253.7 377.2h0.9v0.9h-0.9zM254.0 376.7h0.9v0.9h-0.9zM254.3 378.5h0.9v0.9h-0.9zM254.6 378.9h0.9v0.9h-0.9zM254.9 375.7h0.9v0.9h-0.9zM255.2 380.6h0.9v0.9h-0.9zM255.5 378.2h0.9v0.9h-0.9zM255.8 378.1h0.9v0.9h-0.9zM256.1 379.7h0.9v0.9h-0.9zM256.4 378.3h0.9v0.9h-0.9zM256.7 377.4h0.9v0.9h-0.9zM257.0 381.3h0.9v0.9h-0.9zM257.3 376.7h0.9v0.9h-0.9zM257.6 378.1h0.9v0.9h-0.9zM257.9 379.4h0.9v0.9h-0.9zM258.2 376.7h0.9v0.9h-0.9zM258.5 378.1h0.9v0.9h-0.9zM258.8 378.7h0.9v0.9h-0.9zM259.1 381.6h0.9v0.9h-0.9zM259.4 377.0h0.9v0.9h-0.9zM259.7 378.1h0.9v0.9h-0.9zM260.0 379.1h0.9v0.9h-0.9zM260.3 378.3h0.9v0.9h-0.9zM260.6 376.5h0.9v0.9h-0.9zM260.9 378.8h0.9v0.9h-0.9zM261.2 378.4h0.9v0.9h-0.9zM261.5 378.8h0.9v0.9h-0.9zM261.8 379.8h0.9v0.9h-0.9zM262.1 379.6h0.9v0.9h-0.9zM262.4 378.8h0.9v0.9h-0.9zM262.7 378.6h0.9v0.9h-0.9zM263.0 376.7h0.9v0.9h-0.9zM263.3 378.0h0.9v0.9h-0.9zM263.6 378.5h0.9v0.9h-0.9zM263.9 377.6h0.9v0.9h-0.9zM264.2 378.3h0.9v0.9h-0.9zM264.5 377.0h0.9v0.9h-0.9zM264.8 380.3h0.9v0.9h-0.9zM265.1 381.2h0.9v0.9h-0.9zM265.4 377.7h0.9v0.9h-0.9zM265.7 378.8h0.9v0.9h-0.9zM266.0 377.9h0.9v0.9h-0.9zM266.3 380.0h0.9v0.9h-0.9zM266.6 378.8h0.9v0.9h-0.9zM266.9 378.3h0.9v0.9h-0.9zM267.2 377.9h0.9v0.9h-0.9zM267.5 378.4h0.9v0.9h-0.9zM267.8 376.8h0.9v0.9h-0.9zM268.1 379.1h0.9v0.9h-0.9zM268.4 377.2h0.9v0.9h-0.9zM268.7 378.9h0.9v0.9h-0.9zM269.0 378.4h0.9v0.9h-0.9zM269.3 379.7h0.9v0.9h-0.9zM269.6 378.2h0.9v0.9h-0.9zM269.9 379.6h0.9v0.9h-0.9zM270.2 376.9h0.9v0.9h-0.9zM270.5 379.1h0.9v0.9h-0.9zM270.8 377.9h0.9v0.9h-0.9zM271.1 378.5h0.9v0.9h-0.9zM271.4 378.3h0.9v0.9h-0.9zM271.7 379.5h0.9v0.9h-0.9zM272.0 375.4h0.9v0.9h-0.9zM272.3 378.7h0.9v0.9h-0.9zM272.6 376.1h0.9v0.9h-0.9zM272.9 379.9h0.9v0.9h-0.9zM273.2 375.4h0.9v0.9h-0.9zM273.5 376.8h0.9v0.9h-0.9zM273.8 375.9h0.9v0.9h-0.9zM274.1 380.5h0.9v0.9h-0.9zM274.4 376.4h0.9v0.9h-0.9zM274.7 378.4h0.9v0.9h-0.9zM275.0 377.4h0.9v0.9h-0.9zM275.3 375.7h0.9v0.9h-0.9zM275.6 377.7h0.9v0.9h-0.9zM275.9 379.1h0.9v0.9h-0.9zM276.2 377.9h0.9v0.9h-0.9zM276.5 379.5h0.9v0.9h-0.9zM276.8 377.7h0.9v0.9h-0.9zM277.1 378.2h0.9v0.9h-0.9zM277.4 377.7h0.9v0.9h-0.9zM277.7 378.7h0.9v0.9h-0.9zM278.0 380.9h0.9v0.9h-0.9zM278.3 378.7h0.9v0.9h-0.9zM278.6 378.5h0.9v0.9h-0.9zM278.9 377.3h0.9v0.9h-0.9zM279.2 377.1h0.9v0.9h-0.9zM279.5 380.2h0.9v0.9h-0.9zM279.8 376.6h0.9v0.9h-0.9zM280.1 376.9h0.9v0.9h-0.9zM280.4 378.1h0.9v0.9h-0.9zM280.7 377.6h0.9v0.9h-0.9zM281.0 380.9h0.9v0.9h-0.9zM281.3 374.9h0.9v0.9h-0.9zM281.6 378.7h0.9v0.9h-0.9zM281.9 379.2h0.9v0.9h-0.9zM282.2 376.6h0.9v0.9h-0.9zM282.5 377.3h0.9v0.9h-0.9zM282.8 378.8h0.9v0.9h-0.9zM283.1 380.5h0.9v0.9h-0.9zM283.4 376.9h0.9v0.9h-0.9zM283.7 376.0h0.9v0.9h-0.9zM284.0 379.6h0.9v0.9h-0.9zM284.3 380.3h0.9v0.9h-0.9zM284.6 377.7h0.9v0.9h-0.9zM284.9 375.1h0.9v0.9h-0.9zM285.2 380.2h0.9v0.9h-0.9zM285.5 377.9h0.9v0.9h-0.9zM285.8 379.8h0.9v0.9h-0.9zM286.1 378.1h0.9v0.9h-0.9zM286.4 377.7h0.9v0.9h-0.9zM286.7 377.6h0.9v0.9h-0.9zM287.0 380.3h0.9v0.9h-0.9zM287.3 380.2h0.9v0.9h-0.9zM287.6 375.2h0.9v0.9h-0.9zM287.9 376.9h0.9v0.9h-0.9zM288.2 380.7h0.9v0.9h-0.9zM288.5 377.7h0.9v0.9h-0.9zM288.8 376.3h0.9v0.9h-0.9zM289.1 378.2h0.9v0.9h-0.9zM289.4 378.0h0.9v0.9h-0.9zM289.7 378.1h0.9v0.9h-0.9zM290.0 377.5h0.9v0.9h-0.9zM290.3 377.8h0.9v0.9h-0.9zM290.6 377.6h0.9v0.9h-0.9zM290.9 378.7h0.9v0.9h-0.9zM291.2 377.1h0.9v0.9h-0.9zM291.5 377.8h0.9v0.9h-0.9zM291.8 378.0h0.9v0.9h-0.9zM292.1 380.0h0.9v0.9h-0.9zM292.4 378.7h0.9v0.9h-0.9zM292.7 378.0h0.9v0.9h-0.9zM293.0 379.0h0.9v0.9h-0.9zM293.3 378.8h0.9v0.9h-0.9zM293.6 379.7h0.9v0.9h-0.9zM293.9 378.9h0.9v0.9h-0.9zM294.2 380.7h0.9v0.9h-0.9zM294.5 380.1h0.9v0.9h-0.9zM294.8 378.1h0.9v0.9h-0.9zM295.1 377.6h0.9v0.9h-0.9zM295.4 379.4h0.9v0.9h-0.9zM295.7 378.9h0.9v0.9h-0.9zM296.0 378.1h0.9v0.9h-0.9zM296.3 376.1h0.9v0.9h-0.9zM296.6 375.6h0.9v0.9h-0.9zM296.9 378.7h0.9v0.9h-0.9zM297.2 379.3h0.9v0.9h-0.9zM297.5 379.3h0.9v0.9h-0.9zM297.8 376.4h0.9v0.9h-0.9zM298.1 379.7h0.9v0.9h-0.9zM298.4 377.5h0.9v0.9h-0.9zM298.7 378.7h0.9v0.9h-0.9zM299.0 378.8h0.9v0.9h-0.9zM299.3 377.1h0.9v0.9h-0.9zM299.6 377.4h0.9v0.9h-0.9zM299.9 375.3h0.9v0.9h-0.9zM300.2 376.9h0.9v0.9h-0.9zM300.5 375.7h0.9v0.9h-0.9zM300.8 378.8h0.9v0.9h-0.9zM301.1 378.3h0.9v0.9h-0.9zM301.4 379.5h0.9v0.9h-0.9zM301.7 378.7h0.9v0.9h-0.9zM302.0 377.3h0.9v0.9h-0.9zM302.3 378.7h0.9v0.9h-0.9zM302.6 377.7h0.9v0.9h-0.9zM302.9 379.1h0.9v0.9h-0.9zM303.2 378.6h0.9v0.9h-0.9zM303.5 376.8h0.9v0.9h-0.9zM303.8 378.2h0.9v0.9h-0.9zM304.1 378.3h0.9v0.9h-0.9zM304.4 377.8h0.9v0.9h-0.9zM304.7 379.5h0.9v0.9h-0.9zM305.0 380.6h0.9v0.9h-0.9zM305.3 377.7h0.9v0.9h-0.9zM305.6 377.7h0.9v0.9h-0.9zM305.9 375.1h0.9v0.9h-0.9zM306.2 378.0h0.9v0.9h-0.9zM306.5 377.6h0.9v0.9h-0.9zM306.8 375.2h0.9v0.9h-0.9zM307.1 378.6h0.9v0.9h-0.9zM307.4 379.0h0.9v0.9h-0.9zM307.7 377.2h0.9v0.9h-0.9zM308.0 377.7h0.9v0.9h-0.9zM308.3 376.8h0.9v0.9h-0.9zM308.6 379.3h0.9v0.9h-0.9zM308.9 376.1h0.9v0.9h-0.9zM309.2 377.8h0.9v0.9h-0.9zM309.5 380.9h0.9v0.9h-0.9zM309.8 378.3h0.9v0.9h-0.9zM310.1 378.9h0.9v0.9h-0.9zM310.4 378.0h0.9v0.9h-0.9zM310.7 376.6h0.9v0.9h-0.9zM311.0 378.2h0.9v0.9h-0.9zM311.3 378.8h0.9v0.9h-0.9zM311.6 376.8h0.9v0.9h-0.9zM311.9 378.7h0.9v0.9h-0.9zM312.2 379.9h0.9v0.9h-0.9zM312.5 379.7h0.9v0.9h-0.9zM312.8 376.0h0.9v0.9h-0.9zM313.1 376.8h0.9v0.9h-0.9zM313.4 375.9h0.9v0.9h-0.9zM313.7 379.7h0.9v0.9h-0.9zM314.0 379.1h0.9v0.9h-0.9zM314.3 379.2h0.9v0.9h-0.9zM314.6 377.0h0.9v0.9h-0.9zM314.9 376.6h0.9v0.9h-0.9zM315.2 378.3h0.9v0.9h-0.9zM315.5 378.3h0.9v0.9h-0.9zM315.8 377.0h0.9v0.9h-0.9zM316.1 378.4h0.9v0.9h-0.9zM316.4 379.1h0.9v0.9h-0.9zM316.7 378.5h0.9v0.9h-0.9zM317.0 376.7h0.9v0.9h-0.9zM317.3 375.2h0.9v0.9h-0.9zM317.6 377.8h0.9v0.9h-0.9zM317.9 378.4h0.9v0.9h-0.9zM318.2 377.8h0.9v0.9h-0.9zM318.5 377.6h0.9v0.9h-0.9zM318.8 377.2h0.9v0.9h-0.9zM319.1 379.2h0.9v0.9h-0.9zM319.4 378.1h0.9v0.9h-0.9zM319.7 378.4h0.9v0.9h-0.9zM320.0 376.8h0.9v0.9h-0.9zM320.3 377.3h0.9v0.9h-0.9zM320.6 378.4h0.9v0.9h-0.9zM320.9 376.8h0.9v0.9h-0.9zM321.2 376.4h0.9v0.9h-0.9zM321.5 377.7h0.9v0.9h-0.9zM321.8 379.9h0.9v0.9h-0.9zM322.1 378.5h0.9v0.9h-0.9zM322.4 380.2h0.9v0.9h-0.9zM322.7 378.0h0.9v0.9h-0.9zM323.0 377.8h0.9v0.9h-0.9zM323.3 376.3h0.9v0.9h-0.9zM323.6 377.4h0.9v0.9h-0.9zM323.9 380.2h0.9v0.9h-0.9zM324.2 378.7h0.9v0.9h-0.9zM324.5 379.2h0.9v0.9h-0.9zM324.8 379.2h0.9v0.9h-0.9zM325.1 378.2h0.9v0.9h-0.9zM325.4 377.9h0.9v0.9h-0.9zM325.7 378.4h0.9v0.9h-0.9zM326.0 379.1h0.9v0.9h-0.9zM326.3 378.8h0.9v0.9h-0.9zM326.6 378.9h0.9v0.9h-0.9zM326.9 378.4h0.9v0.9h-0.9zM327.2 377.1h0.9v0.9h-0.9zM327.5 377.8h0.9v0.9h-0.9zM327.8 376.9h0.9v0.9h-0.9zM328.1 379.6h0.9v0.9h-0.9zM328.4 375.3h0.9v0.9h-0.9zM328.7 377.9h0.9v0.9h-0.9zM329.0 381.5h0.9v0.9h-0.9zM329.3 377.7h0.9v0.9h-0.9zM329.6 376.6h0.9v0.9h-0.9zM329.9 378.2h0.9v0.9h-0.9zM330.2 380.0h0.9v0.9h-0.9zM330.5 378.0h0.9v0.9h-0.9zM330.8 379.1h0.9v0.9h-0.9zM331.1 378.3h0.9v0.9h-0.9zM331.4 377.7h0.9v0.9h-0.9zM331.7 382.6h0.9v0.9h-0.9zM332.0 378.3h0.9v0.9h-0.9zM332.3 377.4h0.9v0.9h-0.9zM332.6 377.5h0.9v0.9h-0.9zM332.9 378.7h0.9v0.9h-0.9zM333.2 378.8h0.9v0.9h-0.9zM333.5 379.3h0.9v0.9h-0.9zM333.8 378.4h0.9v0.9h-0.9zM334.1 376.2h0.9v0.9h-0.9zM334.4 378.9h0.9v0.9h-0.9zM334.7 377.8h0.9v0.9h-0.9zM335.0 377.8h0.9v0.9h-0.9zM335.3 376.1h0.9v0.9h-0.9zM335.6 377.4h0.9v0.9h-0.9zM335.9 377.2h0.9v0.9h-0.9zM336.2 378.1h0.9v0.9h-0.9zM336.5 376.2h0.9v0.9h-0.9zM336.8 378.3h0.9v0.9h-0.9zM337.1 378.4h0.9v0.9h-0.9zM337.4 376.6h0.9v0.9h-0.9zM337.7 377.3h0.9v0.9h-0.9zM338.0 377.0h0.9v0.9h-0.9zM338.3 379.5h0.9v0.9h-0.9zM338.6 374.7h0.9v0.9h-0.9zM338.9 377.7h0.9v0.9h-0.9zM339.2 375.9h0.9v0.9h-0.9zM339.5 377.6h0.9v0.9h-0.9zM339.8 379.4h0.9v0.9h-0.9zM340.1 377.3h0.9v0.9h-0.9zM340.4 378.4h0.9v0.9h-0.9zM340.7 377.0h0.9v0.9h-0.9zM341.0 380.9h0.9v0.9h-0.9zM341.3 379.5h0.9v0.9h-0.9zM341.6 379.8h0.9v0.9h-0.9zM341.9 376.3h0.9v0.9h-0.9zM342.2 376.7h0.9v0.9h-0.9zM342.5 379.7h0.9v0.9h-0.9zM342.8 377.9h0.9v0.9h-0.9zM343.1 377.8h0.9v0.9h-0.9zM343.4 378.7h0.9v0.9h-0.9zM343.7 376.4h0.9v0.9h-0.9zM344.0 379.3h0.9v0.9h-0.9zM344.3 378.2h0.9v0.9h-0.9zM344.6 378.9h0.9v0.9h-0.9zM344.9 377.3h0.9v0.9h-0.9zM345.2 378.9h0.9v0.9h-0.9zM345.5 377.2h0.9v0.9h-0.9zM345.8 379.5h0.9v0.9h-0.9zM346.1 379.8h0.9v0.9h-0.9zM346.4 379.5h0.9v0.9h-0.9zM346.7 378.9h0.9v0.9h-0.9zM347.0 379.1h0.9v0.9h-0.9zM347.3 374.4h0.9v0.9h-0.9zM347.6 379.4h0.9v0.9h-0.9zM347.9 377.8h0.9v0.9h-0.9zM348.2 378.3h0.9v0.9h-0.9zM348.5 377.8h0.9v0.9h-0.9zM348.8 376.3h0.9v0.9h-0.9zM349.1 377.4h0.9v0.9h-0.9zM349.4 379.1h0.9v0.9h-0.9zM349.7 380.2h0.9v0.9h-0.9zM350.0 377.3h0.9v0.9h-0.9zM350.3 376.9h0.9v0.9h-0.9zM350.6 380.2h0.9v0.9h-0.9zM350.9 377.0h0.9v0.9h-0.9zM351.2 381.1h0.9v0.9h-0.9zM351.5 378.3h0.9v0.9h-0.9zM351.8 377.0h0.9v0.9h-0.9zM352.1 379.6h0.9v0.9h-0.9zM352.4 380.6h0.9v0.9h-0.9zM352.7 376.2h0.9v0.9h-0.9zM353.0 380.4h0.9v0.9h-0.9zM353.3 377.8h0.9v0.9h-0.9zM353.6 380.3h0.9v0.9h-0.9zM353.9 377.7h0.9v0.9h-0.9zM354.2 376.0h0.9v0.9h-0.9zM354.5 378.9h0.9v0.9h-0.9zM354.8 379.5h0.9v0.9h-0.9zM355.1 381.1h0.9v0.9h-0.9zM355.4 380.6h0.9v0.9h-0.9zM355.7 379.2h0.9v0.9h-0.9zM356.0 377.9h0.9v0.9h-0.9zM356.3 377.5h0.9v0.9h-0.9zM356.6 377.8h0.9v0.9h-0.9zM356.9 377.0h0.9v0.9h-0.9zM357.2 377.8h0.9v0.9h-0.9zM357.5 374.6h0.9v0.9h-0.9zM357.8 378.5h0.9v0.9h-0.9zM358.1 378.2h0.9v0.9h-0.9zM358.4 381.8h0.9v0.9h-0.9zM358.7 379.3h0.9v0.9h-0.9zM359.0 377.5h0.9v0.9h-0.9zM359.3 379.0h0.9v0.9h-0.9zM359.6 376.5h0.9v0.9h-0.9zM359.9 377.4h0.9v0.9h-0.9zM360.2 375.6h0.9v0.9h-0.9zM360.5 380.2h0.9v0.9h-0.9zM360.8 379.0h0.9v0.9h-0.9zM361.1 376.6h0.9v0.9h-0.9zM361.4 378.1h0.9v0.9h-0.9zM361.7 379.5h0.9v0.9h-0.9zM362.0 378.9h0.9v0.9h-0.9zM362.3 378.7h0.9v0.9h-0.9zM362.6 377.0h0.9v0.9h-0.9zM362.9 377.3h0.9v0.9h-0.9zM363.2 378.3h0.9v0.9h-0.9zM363.5 379.5h0.9v0.9h-0.9zM363.8 377.0h0.9v0.9h-0.9zM364.1 376.6h0.9v0.9h-0.9zM364.4 379.8h0.9v0.9h-0.9zM364.7 376.9h0.9v0.9h-0.9zM365.0 379.7h0.9v0.9h-0.9zM365.3 378.5h0.9v0.9h-0.9zM365.6 379.4h0.9v0.9h-0.9zM365.9 380.6h0.9v0.9h-0.9zM366.2 379.2h0.9v0.9h-0.9zM366.5 379.3h0.9v0.9h-0.9zM366.8 376.9h0.9v0.9h-0.9zM367.1 377.2h0.9v0.9h-0.9zM367.4 379.1h0.9v0.9h-0.9zM367.7 380.3h0.9v0.9h-0.9zM368.0 380.1h0.9v0.9h-0.9zM368.3 381.4h0.9v0.9h-0.9zM368.6 378.6h0.9v0.9h-0.9zM368.9 378.5h0.9v0.9h-0.9zM369.2 379.6h0.9v0.9h-0.9zM369.5 378.2h0.9v0.9h-0.9zM369.8 378.1h0.9v0.9h-0.9zM370.1 376.7h0.9v0.9h-0.9zM370.4 379.6h0.9v0.9h-0.9zM370.7 376.7h0.9v0.9h-0.9zM371.0 378.9h0.9v0.9h-0.9zM371.3 376.2h0.9v0.9h-0.9zM371.6 379.7h0.9v0.9h-0.9zM371.9 376.8h0.9v0.9h-0.9zM372.2 379.4h0.9v0.9h-0.9zM372.5 376.0h0.9v0.9h-0.9zM372.8 377.6h0.9v0.9h-0.9zM373.1 379.8h0.9v0.9h-0.9zM373.4 377.1h0.9v0.9h-0.9zM373.7 378.3h0.9v0.9h-0.9zM374.0 377.5h0.9v0.9h-0.9zM374.3 375.0h0.9v0.9h-0.9zM374.6 378.6h0.9v0.9h-0.9zM374.9 378.8h0.9v0.9h-0.9zM375.2 376.6h0.9v0.9h-0.9zM375.5 379.0h0.9v0.9h-0.9zM375.8 377.1h0.9v0.9h-0.9z" fill="#5a5a5a" fill-opacity="0.7"/>
<path d="M190.0 372.7h1.0v1.0h-1.0zM190.2 374.1h1.0v1.0h-1.0zM190.4 373.2h1.0v1.0h-1.0zM190.7 377.2h1.0v1.0h-1.0zM190.9 372.2h1.0v1.0h-1.0zM191.1 375.3h1.0v1.0h-1.0zM191.3 375.7h1.0v1.0h-1.0zM191.5 371.9h1.0v1.0h-1.0zM191.8 372.3h1.0v1.0h-1.0zM192.0 375.3h1.0v1.0h-1.0zM192.2 374.0h1.0v1.0h-1.0zM192.4 375.2h1.0v1.0h-1.0zM192.6 376.2h1.0v1.0h-1.0zM192.9 374.3h1.0v1.0h-1.0zM193.1 373.5h1.0v1.0h-1.0zM193.3 371.4h1.0v1.0h-1.0zM193.5 375.3h1.0v1.0h-1.0zM193.7 373.8h1.0v1.0h-1.0zM194.0 375.5h1.0v1.0h-1.0zM194.2 375.5h1.0v1.0h-1.0zM194.4 373.4h1.0v1.0h-1.0zM194.6 377.5h1.0v1.0h-1.0zM194.8 376.7h1.0v1.0h-1.0zM195.1 376.5h1.0v1.0h-1.0zM195.3 373.9h1.0v1.0h-1.0zM195.5 374.9h1.0v1.0h-1.0zM195.7 374.8h1.0v1.0h-1.0zM195.9 375.0h1.0v1.0h-1.0zM196.2 374.2h1.0v1.0h-1.0zM196.4 376.2h1.0v1.0h-1.0zM196.6 376.0h1.0v1.0h-1.0zM196.8 376.2h1.0v1.0h-1.0zM197.0 375.1h1.0v1.0h-1.0zM197.3 377.5h1.0v1.0h-1.0zM197.5 376.1h1.0v1.0h-1.0zM197.7 372.3h1.0v1.0h-1.0zM197.9 375.1h1.0v1.0h-1.0zM198.1 375.9h1.0v1.0h-1.0zM198.4 377.3h1.0v1.0h-1.0zM198.6 375.7h1.0v1.0h-1.0zM198.8 375.8h1.0v1.0h-1.0zM199.0 375.3h1.0v1.0h-1.0zM199.2 377.0h1.0v1.0h-1.0zM199.5 375.6h1.0v1.0h-1.0zM199.7 375.4h1.0v1.0h-1.0zM199.9 375.3h1.0v1.0h-1.0zM200.1 377.0h1.0v1.0h-1.0zM200.3 375.6h1.0v1.0h-1.0zM200.6 374.2h1.0v1.0h-1.0zM200.8 377.2h1.0v1.0h-1.0zM201.0 375.5h1.0v1.0h-1.0zM201.2 376.9h1.0v1.0h-1.0zM201.4 377.0h1.0v1.0h-1.0zM201.7 378.1h1.0v1.0h-1.0zM201.9 377.9h1.0v1.0h-1.0zM202.1 375.8h1.0v1.0h-1.0zM202.3 376.4h1.0v1.0h-1.0zM202.5 375.0h1.0v1.0h-1.0zM202.8 378.9h1.0v1.0h-1.0zM203.0 377.3h1.0v1.0h-1.0zM203.2 378.6h1.0v1.0h-1.0zM203.4 376.4h1.0v1.0h-1.0zM203.6 374.1h1.0v1.0h-1.0zM203.9 378.8h1.0v1.0h-1.0zM204.1 377.0h1.0v1.0h-1.0zM204.3 377.0h1.0v1.0h-1.0zM204.5 377.0h1.0v1.0h-1.0zM204.7 377.8h1.0v1.0h-1.0zM205.0 377.6h1.0v1.0h-1.0zM205.2 374.9h1.0v1.0h-1.0zM205.4 378.4h1.0v1.0h-1.0zM205.6 376.3h1.0v1.0h-1.0zM205.8 376.4h1.0v1.0h-1.0zM206.1 379.3h1.0v1.0h-1.0zM206.3 378.3h1.0v1.0h-1.0zM206.5 376.6h1.0v1.0h-1.0zM206.7 374.7h1.0v1.0h-1.0zM206.9 377.3h1.0v1.0h-1.0zM207.2 377.8h1.0v1.0h-1.0zM207.4 377.0h1.0v1.0h-1.0zM207.6 375.5h1.0v1.0h-1.0zM207.8 376.1h1.0v1.0h-1.0zM208.0 375.5h1.0v1.0h-1.0zM208.3 377.5h1.0v1.0h-1.0zM208.5 378.3h1.0v1.0h-1.0zM208.7 378.5h1.0v1.0h-1.0zM208.9 376.3h1.0v1.0h-1.0zM209.1 377.5h1.0v1.0h-1.0zM209.4 377.9h1.0v1.0h-1.0zM209.6 376.6h1.0v1.0h-1.0zM209.8 377.1h1.0v1.0h-1.0zM210.0 380.0h1.0v1.0h-1.0zM210.2 377.5h1.0v1.0h-1.0zM210.5 378.4h1.0v1.0h-1.0zM210.7 376.7h1.0v1.0h-1.0zM210.9 377.3h1.0v1.0h-1.0zM211.1 375.1h1.0v1.0h-1.0zM211.3 377.3h1.0v1.0h-1.0zM211.6 378.9h1.0v1.0h-1.0zM211.8 380.0h1.0v1.0h-1.0zM212.0 378.9h1.0v1.0h-1.0zM212.2 378.2h1.0v1.0h-1.0zM212.4 377.4h1.0v1.0h-1.0zM212.7 376.6h1.0v1.0h-1.0zM212.9 377.1h1.0v1.0h-1.0zM213.1 378.1h1.0v1.0h-1.0zM213.3 376.3h1.0v1.0h-1.0zM213.5 378.6h1.0v1.0h-1.0zM213.8 376.1h1.0v1.0h-1.0zM214.0 375.1h1.0v1.0h-1.0zM214.2 376.1h1.0v1.0h-1.0zM214.4 375.2h1.0v1.0h-1.0zM214.6 375.6h1.0v1.0h-1.0zM214.9 378.9h1.0v1.0h-1.0zM215.1 377.1h1.0v1.0h-1.0zM215.3 377.7h1.0v1.0h-1.0zM215.5 378.9h1.0v1.0h-1.0zM215.7 379.1h1.0v1.0h-1.0zM216.0 376.8h1.0v1.0h-1.0zM216.2 379.2h1.0v1.0h-1.0zM216.4 377.9h1.0v1.0h-1.0zM216.6 377.4h1.0v1.0h-1.0zM216.8 378.0h1.0v1.0h-1.0zM217.1 375.6h1.0v1.0h-1.0zM217.3 376.4h1.0v1.0h-1.0zM217.5 377.3h1.0v1.0h-1.0zM217.7 378.3h1.0v1.0h-1.0zM217.9 377.0h1.0v1.0h-1.0zM218.2 377.3h1.0v1.0h-1.0zM218.4 378.7h1.0v1.0h-1.0zM218.6 379.3h1.0v1.0h-1.0zM218.8 378.5h1.0v1.0h-1.0zM219.0 379.1h1.0v1.0h-1.0zM219.3 377.0h1.0v1.0h-1.0zM219.5 377.1h1.0v1.0h-1.0zM219.7 377.9h1.0v1.0h-1.0zM219.9 377.1h1.0v1.0h-1.0zM220.1 376.9h1.0v1.0h-1.0zM220.4 379.7h1.0v1.0h-1.0zM220.6 377.3h1.0v1.0h-1.0zM220.8 376.3h1.0v1.0h-1.0zM221.0 378.2h1.0v1.0h-1.0zM221.2 379.9h1.0v1.0h-1.0zM221.5 377.6h1.0v1.0h-1.0zM221.7 379.1h1.0v1.0h-1.0zM221.9 377.0h1.0v1.0h-1.0zM222.1 376.9h1.0v1.0h-1.0zM222.3 376.6h1.0v1.0h-1.0zM222.6 377.4h1.0v1.0h-1.0zM222.8 379.9h1.0v1.0h-1.0zM223.0 376.1h1.0v1.0h-1.0zM223.2 379.7h1.0v1.0h-1.0zM223.4 376.2h1.0v1.0h-1.0zM223.7 377.3h1.0v1.0h-1.0zM223.9 378.7h1.0v1.0h-1.0zM224.1 378.4h1.0v1.0h-1.0zM224.3 377.9h1.0v1.0h-1.0zM224.5 375.4h1.0v1.0h-1.0zM224.8 378.0h1.0v1.0h-1.0zM225.0 376.2h1.0v1.0h-1.0zM225.2 380.9h1.0v1.0h-1.0zM225.4 377.3h1.0v1.0h-1.0zM225.6 377.8h1.0v1.0h-1.0zM225.9 376.1h1.0v1.0h-1.0zM226.1 377.0h1.0v1.0h-1.0zM226.3 375.9h1.0v1.0h-1.0zM226.5 378.9h1.0v1.0h-1.0zM226.7 377.2h1.0v1.0h-1.0zM227.0 378.3h1.0v1.0h-1.0zM227.2 376.7h1.0v1.0h-1.0zM227.4 376.9h1.0v1.0h-1.0zM227.6 379.3h1.0v1.0h-1.0zM227.8 376.3h1.0v1.0h-1.0zM228.1 375.3h1.0v1.0h-1.0zM228.3 378.1h1.0v1.0h-1.0zM228.5 376.1h1.0v1.0h-1.0zM228.7 377.0h1.0v1.0h-1.0zM228.9 378.8h1.0v1.0h-1.0zM229.2 376.5h1.0v1.0h-1.0zM229.4 378.7h1.0v1.0h-1.0zM229.6 376.7h1.0v1.0h-1.0zM229.8 379.5h1.0v1.0h-1.0zM230.0 379.3h1.0v1.0h-1.0zM230.3 377.0h1.0v1.0h-1.0zM230.5 377.3h1.0v1.0h-1.0zM230.7 376.5h1.0v1.0h-1.0zM230.9 377.9h1.0v1.0h-1.0zM231.1 379.1h1.0v1.0h-1.0zM231.4 375.7h1.0v1.0h-1.0zM231.6 378.8h1.0v1.0h-1.0zM231.8 375.9h1.0v1.0h-1.0zM232.0 376.5h1.0v1.0h-1.0zM232.2 375.3h1.0v1.0h-1.0zM232.5 380.3h1.0v1.0h-1.0zM232.7 377.7h1.0v1.0h-1.0zM232.9 377.9h1.0v1.0h-1.0zM233.1 376.7h1.0v1.0h-1.0zM233.3 379.0h1.0v1.0h-1.0zM233.6 374.9h1.0v1.0h-1.0zM233.8 377.6h1.0v1.0h-1.0zM234.0 380.5h1.0v1.0h-1.0zM234.2 377.1h1.0v1.0h-1.0zM234.4 377.6h1.0v1.0h-1.0zM234.7 378.5h1.0v1.0h-1.0zM234.9 376.5h1.0v1.0h-1.0zM235.1 377.6h1.0v1.0h-1.0zM235.3 378.8h1.0v1.0h-1.0zM235.5 377.9h1.0v1.0h-1.0zM235.8 378.1h1.0v1.0h-1.0zM236.0 377.1h1.0v1.0h-1.0zM236.2 378.0h1.0v1.0h-1.0zM236.4 377.7h1.0v1.0h-1.0zM236.6 379.5h1.0v1.0h-1.0zM236.9 378.5h1.0v1.0h-1.0zM237.1 377.3h1.0v1.0h-1.0zM237.3 374.4h1.0v1.0h-1.0zM237.5 378.5h1.0v1.0h-1.0zM237.7 378.6h1.0v1.0h-1.0zM238.0 376.4h1.0v1.0h-1.0zM238.2 375.0h1.0v1.0h-1.0zM238.4 376.1h1.0v1.0h-1.0zM238.6 378.8h1.0v1.0h-1.0zM238.8 376.2h1.0v1.0h-1.0zM239.1 377.0h1.0v1.0h-1.0zM239.3 377.9h1.0v1.0h-1.0zM239.5 379.2h1.0v1.0h-1.0zM239.7 377.6h1.0v1.0h-1.0zM239.9 377.5h1.0v1.0h-1.0zM240.2 376.9h1.0v1.0h-1.0zM240.4 379.7h1.0v1.0h-1.0zM240.6 379.0h1.0v1.0h-1.0zM240.8 377.5h1.0v1.0h-1.0zM241.0 375.8h1.0v1.0h-1.0zM241.3 376.6h1.0v1.0h-1.0zM241.5 378.4h1.0v1.0h-1.0zM241.7 376.7h1.0v1.0h-1.0zM241.9 378.8h1.0v1.0h-1.0zM242.1 378.1h1.0v1.0h-1.0zM242.4 378.0h1.0v1.0h-1.0zM242.6 378.4h1.0v1.0h-1.0zM242.8 378.2h1.0v1.0h-1.0zM243.0 376.5h1.0v1.0h-1.0zM243.2 377.2h1.0v1.0h-1.0zM243.5 380.6h1.0v1.0h-1.0zM243.7 376.0h1.0v1.0h-1.0zM243.9 377.0h1.0v1.0h-1.0zM244.1 379.0h1.0v1.0h-1.0zM244.3 377.4h1.0v1.0h-1.0zM244.6 376.5h1.0v1.0h-1.0zM244.8 375.9h1.0v1.0h-1.0zM245.0 378.3h1.0v1.0h-1.0zM245.2 378.9h1.0v1.0h-1.0zM245.4 379.4h1.0v1.0h-1.0zM245.7 377.7h1.0v1.0h-1.0zM245.9 379.0h1.0v1.0h-1.0zM246.1 376.3h1.0v1.0h-1.0zM246.3 377.8h1.0v1.0h-1.0zM246.5 376.7h1.0v1.0h-1.0zM246.8 377.8h1.0v1.0h-1.0zM247.0 378.6h1.0v1.0h-1.0zM247.2 379.0h1.0v1.0h-1.0zM247.4 376.3h1.0v1.0h-1.0zM247.6 379.2h1.0v1.0h-1.0zM247.9 377.0h1.0v1.0h-1.0zM248.1 376.3h1.0v1.0h-1.0zM248.3 377.4h1.0v1.0h-1.0zM248.5 375.7h1.0v1.0h-1.0zM248.7 377.6h1.0v1.0h-1.0zM249.0 378.0h1.0v1.0h-1.0zM249.2 377.3h1.0v1.0h-1.0zM249.4 378.3h1.0v1.0h-1.0zM249.6 377.2h1.0v1.0h-1.0zM249.8 377.6h1.0v1.0h-1.0zM250.1 375.7h1.0v1.0h-1.0zM250.3 377.7h1.0v1.0h-1.0zM250.5 376.5h1.0v1.0h-1.0zM250.7 377.0h1.0v1.0h-1.0zM250.9 377.5h1.0v1.0h-1.0zM251.2 377.8h1.0v1.0h-1.0zM251.4 375.5h1.0v1.0h-1.0zM251.6 375.6h1.0v1.0h-1.0zM251.8 377.2h1.0v1.0h-1.0zM252.0 378.2h1.0v1.0h-1.0zM252.3 378.1h1.0v1.0h-1.0zM252.5 378.8h1.0v1.0h-1.0zM252.7 379.3h1.0v1.0h-1.0zM252.9 378.2h1.0v1.0h-1.0zM253.1 377.6h1.0v1.0h-1.0zM253.4 376.3h1.0v1.0h-1.0zM253.6 376.4h1.0v1.0h-1.0zM253.8 377.0h1.0v1.0h-1.0zM254.0 377.9h1.0v1.0h-1.0zM254.2 377.9h1.0v1.0h-1.0zM254.5 377.6h1.0v1.0h-1.0zM254.7 377.4h1.0v1.0h-1.0zM254.9 378.4h1.0v1.0h-1.0zM255.1 377.9h1.0v1.0h-1.0zM255.3 378.0h1.0v1.0h-1.0zM255.6 378.0h1.0v1.0h-1.0zM255.8 376.9h1.0v1.0h-1.0zM256.0 376.3h1.0v1.0h-1.0zM256.2 378.2h1.0v1.0h-1.0zM256.4 378.1h1.0v1.0h-1.0zM256.7 377.3h1.0v1.0h-1.0zM256.9 377.1h1.0v1.0h-1.0zM257.1 380.6h1.0v1.0h-1.0zM257.3 376.6h1.0v1.0h-1.0zM257.5 377.3h1.0v1.0h-1.0zM257.8 377.9h1.0v1.0h-1.0zM258.0 376.1h1.0v1.0h-1.0zM258.2 377.8h1.0v1.0h-1.0zM258.4 379.9h1.0v1.0h-1.0zM258.6 378.8h1.0v1.0h-1.0zM258.9 378.4h1.0v1.0h-1.0zM259.1 378.4h1.0v1.0h-1.0zM259.3 377.7h1.0v1.0h-1.0zM259.5 378.8h1.0v1.0h-1.0zM259.7 377.4h1.0v1.0h-1.0zM260.0 377.1h1.0v1.0h-1.0zM260.2 377.7h1.0v1.0h-1.0zM260.4 378.8h1.0v1.0h-1.0zM260.6 378.0h1.0v1.0h-1.0zM260.8 378.5h1.0v1.0h-1.0zM261.1 375.0h1.0v1.0h-1.0zM261.3 379.2h1.0v1.0h-1.0zM261.5 380.6h1.0v1.0h-1.0zM261.7 379.3h1.0v1.0h-1.0zM261.9 377.2h1.0v1.0h-1.0zM262.2 376.5h1.0v1.0h-1.0zM262.4 378.0h1.0v1.0h-1.0zM262.6 376.3h1.0v1.0h-1.0zM262.8 378.5h1.0v1.0h-1.0zM263.0 376.9h1.0v1.0h-1.0zM263.3 378.8h1.0v1.0h-1.0zM263.5 379.4h1.0v1.0h-1.0zM263.7 375.0h1.0v1.0h-1.0zM263.9 378.0h1.0v1.0h-1.0zM264.1 376.7h1.0v1.0h-1.0zM264.4 375.8h1.0v1.0h-1.0zM264.6 376.8h1.0v1.0h-1.0zM264.8 377.3h1.0v1.0h-1.0zM265.0 378.9h1.0v1.0h-1.0zM265.2 375.6h1.0v1.0h-1.0zM265.5 379.0h1.0v1.0h-1.0zM265.7 380.2h1.0v1.0h-1.0zM265.9 378.4h1.0v1.0h-1.0zM266.1 378.3h1.0v1.0h-1.0zM266.3 377.6h1.0v1.0h-1.0zM266.6 376.1h1.0v1.0h-1.0zM266.8 378.3h1.0v1.0h-1.0zM267.0 378.1h1.0v1.0h-1.0zM267.2 378.6h1.0v1.0h-1.0zM267.4 380.9h1.0v1.0h-1.0zM267.7 378.5h1.0v1.0h-1.0zM267.9 378.2h1.0v1.0h-1.0zM268.1 379.6h1.0v1.0h-1.0zM268.3 375.9h1.0v1.0h-1.0zM268.5 376.1h1.0v1.0h-1.0zM268.8 377.1h1.0v1.0h-1.0zM269.0 376.7h1.0v1.0h-1.0zM269.2 378.5h1.0v1.0h-1.0zM269.4 377.2h1.0v1.0h-1.0zM269.6 379.9h1.0v1.0h-1.0zM269.9 379.6h1.0v1.0h-1.0zM270.1 378.6h1.0v1.0h-1.0zM270.3 377.1h1.0v1.0h-1.0zM270.5 378.4h1.0v1.0h-1.0zM270.7 378.7h1.0v1.0h-1.0zM271.0 376.2h1.0v1.0h-1.0zM271.2 378.1h1.0v1.0h-1.0zM271.4 378.5h1.0v1.0h-1.0zM271.6 377.9h1.0v1.0h-1.0zM271.8 379.6h1.0v1.0h-1.0zM272.1 379.2h1.0v1.0h-1.0zM272.3 376.5h1.0v1.0h-1.0zM272.5 377.8h1.0v1.0h-1.0zM272.7 376.5h1.0v1.0h-1.0zM272.9 378.4h1.0v1.0h-1.0zM273.2 376.5h1.0v1.0h-1.0zM273.4 378.8h1.0v1.0h-1.0zM273.6 378.1h1.0v1.0h-1.0zM273.8 378.9h1.0v1.0h-1.0zM274.0 377.4h1.0v1.0h-1.0zM274.3 375.7h1.0v1.0h-1.0zM274.5 379.9h1.0v1.0h-1.0zM274.7 377.4h1.0v1.0h-1.0zM274.9 379.4h1.0v1.0h-1.0zM275.1 378.2h1.0v1.0h-1.0zM275.4 378.5h1.0v1.0h-1.0zM275.6 380.0h1.0v1.0h-1.0zM275.8 378.0h1.0v1.0h-1.0zM276.0 379.4h1.0v1.0h-1.0zM276.2 375.7h1.0v1.0h-1.0zM276.5 378.7h1.0v1.0h-1.0zM276.7 377.3h1.0v1.0h-1.0zM276.9 377.4h1.0v1.0h-1.0zM277.1 377.6h1.0v1.0h-1.0zM277.3 378.1h1.0v1.0h-1.0zM277.6 379.8h1.0v1.0h-1.0zM277.8 375.2h1.0v1.0h-1.0zM278.0 377.7h1.0v1.0h-1.0zM278.2 376.7h1.0v1.0h-1.0zM278.4 379.1h1.0v1.0h-1.0zM278.7 377.0h1.0v1.0h-1.0zM278.9 378.2h1.0v1.0h-1.0zM279.1 377.1h1.0v1.0h-1.0zM279.3 378.5h1.0v1.0h-1.0zM279.5 378.9h1.0v1.0h-1.0zM279.8 377.1h1.0v1.0h-1.0zM280.0 377.7h1.0v1.0h-1.0zM280.2 375.8h1.0v1.0h-1.0zM280.4 378.0h1.0v1.0h-1.0zM280.6 378.7h1.0v1.0h-1.0zM280.9 376.9h1.0v1.0h-1.0zM281.1 379.1h1.0v1.0h-1.0zM281.3 374.9h1.0v1.0h-1.0zM281.5 375.2h1.0v1.0h-1.0zM281.7 375.8h1.0v1.0h-1.0zM282.0 377.0h1.0v1.0h-1.0zM282.2 377.6h1.0v1.0h-1.0zM282.4 377.5h1.0v1.0h-1.0zM282.6 377.5h1.0v1.0h-1.0zM282.8 378.5h1.0v1.0h-1.0zM283.1 377.0h1.0v1.0h-1.0zM283.3 376.0h1.0v1.0h-1.0zM283.5 376.0h1.0v1.0h-1.0zM283.7 380.3h1.0v1.0h-1.0zM283.9 374.5h1.0v1.0h-1.0zM284.2 377.4h1.0v1.0h-1.0zM284.4 379.5h1.0v1.0h-1.0zM284.6 378.2h1.0v1.0h-1.0zM284.8 376.5h1.0v1.0h-1.0zM285.0 377.6h1.0v1.0h-1.0zM285.3 378.7h1.0v1.0h-1.0zM285.5 379.2h1.0v1.0h-1.0zM285.7 376.4h1.0v1.0h-1.0zM285.9 378.6h1.0v1.0h-1.0zM286.1 377.9h1.0v1.0h-1.0zM286.4 379.0h1.0v1.0h-1.0zM286.6 379.4h1.0v1.0h-1.0zM286.8 377.2h1.0v1.0h-1.0zM287.0 375.7h1.0v1.0h-1.0zM287.2 378.1h1.0v1.0h-1.0zM287.5 379.9h1.0v1.0h-1.0zM287.7 378.5h1.0v1.0h-1.0zM287.9 377.9h1.0v1.0h-1.0zM288.1 380.7h1.0v1.0h-1.0zM288.3 376.2h1.0v1.0h-1.0zM288.6 378.8h1.0v1.0h-1.0zM288.8 376.9h1.0v1.0h-1.0zM289.0 377.7h1.0v1.0h-1.0zM289.2 377.7h1.0v1.0h-1.0zM289.4 379.6h1.0v1.0h-1.0zM289.7 376.4h1.0v1.0h-1.0zM289.9 376.9h1.0v1.0h-1.0zM290.1 375.5h1.0v1.0h-1.0zM290.3 378.2h1.0v1.0h-1.0zM290.5 377.0h1.0v1.0h-1.0zM290.8 378.1h1.0v1.0h-1.0zM291.0 376.2h1.0v1.0h-1.0zM291.2 377.1h1.0v1.0h-1.0zM291.4 379.0h1.0v1.0h-1.0zM291.6 377.4h1.0v1.0h-1.0zM291.9 378.4h1.0v1.0h-1.0zM292.1 378.3h1.0v1.0h-1.0zM292.3 377.1h1.0v1.0h-1.0zM292.5 375.6h1.0v1.0h-1.0zM292.7 378.9h1.0v1.0h-1.0zM293.0 377.8h1.0v1.0h-1.0zM293.2 378.9h1.0v1.0h-1.0zM293.4 375.0h1.0v1.0h-1.0zM293.6 375.4h1.0v1.0h-1.0zM293.8 374.8h1.0v1.0h-1.0zM294.1 376.5h1.0v1.0h-1.0zM294.3 379.0h1.0v1.0h-1.0zM294.5 378.3h1.0v1.0h-1.0zM294.7 377.6h1.0v1.0h-1.0zM294.9 377.8h1.0v1.0h-1.0zM295.2 378.6h1.0v1.0h-1.0zM295.4 377.2h1.0v1.0h-1.0zM295.6 378.1h1.0v1.0h-1.0zM295.8 377.8h1.0v1.0h-1.0zM296.0 374.8h1.0v1.0h-1.0zM296.3 377.1h1.0v1.0h-1.0zM296.5 379.4h1.0v1.0h-1.0zM296.7 377.1h1.0v1.0h-1.0zM296.9 377.4h1.0v1.0h-1.0zM297.1 376.8h1.0v1.0h-1.0zM297.4 377.0h1.0v1.0h-1.0zM297.6 379.1h1.0v1.0h-1.0zM297.8 377.3h1.0v1.0h-1.0zM298.0 376.3h1.0v1.0h-1.0zM298.2 373.6h1.0v1.0h-1.0zM298.5 376.9h1.0v1.0h-1.0zM298.7 375.0h1.0v1.0h-1.0zM298.9 375.2h1.0v1.0h-1.0zM299.1 378.6h1.0v1.0h-1.0zM299.3 378.5h1.0v1.0h-1.0zM299.6 375.1h1.0v1.0h-1.0zM299.8 378.7h1.0v1.0h-1.0zM300.0 378.2h1.0v1.0h-1.0zM300.2 376.6h1.0v1.0h-1.0zM300.4 378.6h1.0v1.0h-1.0zM300.7 375.5h1.0v1.0h-1.0zM300.9 376.0h1.0v1.0h-1.0zM301.1 375.7h1.0v1.0h-1.0zM301.3 376.2h1.0v1.0h-1.0zM301.5 378.7h1.0v1.0h-1.0zM301.8 375.9h1.0v1.0h-1.0zM302.0 376.1h1.0v1.0h-1.0zM302.2 376.4h1.0v1.0h-1.0zM302.4 377.9h1.0v1.0h-1.0zM302.6 377.2h1.0v1.0h-1.0zM302.9 378.7h1.0v1.0h-1.0zM303.1 376.7h1.0v1.0h-1.0zM303.3 375.9h1.0v1.0h-1.0zM303.5 376.9h1.0v1.0h-1.0zM303.7 377.6h1.0v1.0h-1.0zM304.0 376.4h1.0v1.0h-1.0zM304.2 378.0h1.0v1.0h-1.0zM304.4 380.0h1.0v1.0h-1.0zM304.6 376.8h1.0v1.0h-1.0zM304.8 377.6h1.0v1.0h-1.0zM305.1 379.3h1.0v1.0h-1.0zM305.3 376.7h1.0v1.0h-1.0zM305.5 376.5h1.0v1.0h-1.0zM305.7 376.2h1.0v1.0h-1.0zM305.9 378.1h1.0v1.0h-1.0zM306.2 378.3h1.0v1.0h-1.0zM306.4 377.4h1.0v1.0h-1.0zM306.6 377.6h1.0v1.0h-1.0zM306.8 379.2h1.0v1.0h-1.0zM307.0 378.7h1.0v1.0h-1.0zM307.3 375.8h1.0v1.0h-1.0zM307.5 377.6h1.0v1.0h-1.0zM307.7 377.7h1.0v1.0h-1.0zM307.9 378.5h1.0v1.0h-1.0zM308.1 377.3h1.0v1.0h-1.0zM308.4 376.7h1.0v1.0h-1.0zM308.6 377.0h1.0v1.0h-1.0zM308.8 375.3h1.0v1.0h-1.0zM309.0 377.5h1.0v1.0h-1.0zM309.2 376.8h1.0v1.0h-1.0zM309.5 378.2h1.0v1.0h-1.0zM309.7 376.2h1.0v1.0h-1.0zM309.9 377.0h1.0v1.0h-1.0zM310.1 376.3h1.0v1.0h-1.0zM310.3 376.2h1.0v1.0h-1.0zM310.6 378.5h1.0v1.0h-1.0zM310.8 377.0h1.0v1.0h-1.0zM311.0 378.1h1.0v1.0h-1.0zM311.2 376.1h1.0v1.0h-1.0zM311.4 377.7h1.0v1.0h-1.0zM311.7 375.4h1.0v1.0h-1.0zM311.9 376.9h1.0v1.0h-1.0zM312.1 376.9h1.0v1.0h-1.0zM312.3 378.3h1.0v1.0h-1.0zM312.5 377.8h1.0v1.0h-1.0zM312.8 377.3h1.0v1.0h-1.0zM313.0 378.6h1.0v1.0h-1.0zM313.2 377.8h1.0v1.0h-1.0zM313.4 378.2h1.0v1.0h-1.0zM313.6 378.5h1.0v1.0h-1.0zM313.9 377.5h1.0v1.0h-1.0zM314.1 377.2h1.0v1.0h-1.0zM314.3 378.0h1.0v1.0h-1.0zM314.5 377.0h1.0v1.0h-1.0zM314.7 378.0h1.0v1.0h-1.0zM315.0 379.0h1.0v1.0h-1.0zM315.2 378.7h1.0v1.0h-1.0zM315.4 377.0h1.0v1.0h-1.0zM315.6 375.9h1.0v1.0h-1.0zM315.8 377.5h1.0v1.0h-1.0zM316.1 377.4h1.0v1.0h-1.0zM316.3 379.0h1.0v1.0h-1.0zM316.5 377.0h1.0v1.0h-1.0zM316.7 377.3h1.0v1.0h-1.0zM316.9 378.5h1.0v1.0h-1.0zM317.2 376.9h1.0v1.0h-1.0zM317.4 377.3h1.0v1.0h-1.0zM317.6 379.8h1.0v1.0h-1.0zM317.8 379.5h1.0v1.0h-1.0zM318.0 378.4h1.0v1.0h-1.0zM318.3 377.9h1.0v1.0h-1.0zM318.5 376.3h1.0v1.0h-1.0zM318.7 378.3h1.0v1.0h-1.0zM318.9 377.6h1.0v1.0h-1.0zM319.1 377.8h1.0v1.0h-1.0zM319.4 376.9h1.0v1.0h-1.0zM319.6 377.5h1.0v1.0h-1.0zM319.8 377.3h1.0v1.0h-1.0zM320.0 377.9h1.0v1.0h-1.0zM320.2 379.4h1.0v1.0h-1.0zM320.5 378.0h1.0v1.0h-1.0zM320.7 375.4h1.0v1.0h-1.0zM320.9 376.3h1.0v1.0h-1.0zM321.1 375.5h1.0v1.0h-1.0zM321.3 376.5h1.0v1.0h-1.0zM321.6 378.3h1.0v1.0h-1.0zM321.8 378.1h1.0v1.0h-1.0zM322.0 376.8h1.0v1.0h-1.0zM322.2 377.9h1.0v1.0h-1.0zM322.4 376.6h1.0v1.0h-1.0zM322.7 375.7h1.0v1.0h-1.0zM322.9 375.7h1.0v1.0h-1.0zM323.1 376.4h1.0v1.0h-1.0zM323.3 379.4h1.0v1.0h-1.0zM323.5 375.8h1.0v1.0h-1.0zM323.8 379.2h1.0v1.0h-1.0zM324.0 379.3h1.0v1.0h-1.0zM324.2 377.3h1.0v1.0h-1.0zM324.4 377.5h1.0v1.0h-1.0zM324.6 376.7h1.0v1.0h-1.0zM324.9 377.5h1.0v1.0h-1.0zM325.1 378.4h1.0v1.0h-1.0zM325.3 377.5h1.0v1.0h-1.0zM325.5 378.8h1.0v1.0h-1.0zM325.7 379.1h1.0v1.0h-1.0zM326.0 378.0h1.0v1.0h-1.0zM326.2 378.0h1.0v1.0h-1.0zM326.4 377.5h1.0v1.0h-1.0zM326.6 378.0h1.0v1.0h-1.0zM326.8 376.1h1.0v1.0h-1.0zM327.1 378.1h1.0v1.0h-1.0zM327.3 377.8h1.0v1.0h-1.0zM327.5 376.4h1.0v1.0h-1.0zM327.7 380.3h1.0v1.0h-1.0zM327.9 376.3h1.0v1.0h-1.0zM328.2 376.4h1.0v1.0h-1.0zM328.4 377.9h1.0v1.0h-1.0zM328.6 375.0h1.0v1.0h-1.0zM328.8 376.5h1.0v1.0h-1.0zM329.0 375.6h1.0v1.0h-1.0zM329.3 376.3h1.0v1.0h-1.0zM329.5 377.4h1.0v1.0h-1.0zM329.7 377.9h1.0v1.0h-1.0zM329.9 379.0h1.0v1.0h-1.0zM330.1 378.6h1.0v1.0h-1.0zM330.4 379.1h1.0v1.0h-1.0zM330.6 378.3h1.0v1.0h-1.0zM330.8 376.9h1.0v1.0h-1.0zM331.0 379.0h1.0v1.0h-1.0zM331.2 376.9h1.0v1.0h-1.0zM331.5 376.7h1.0v1.0h-1.0zM331.7 379.5h1.0v1.0h-1.0zM331.9 378.6h1.0v1.0h-1.0zM332.1 377.8h1.0v1.0h-1.0zM332.3 378.5h1.0v1.0h-1.0zM332.6 378.7h1.0v1.0h-1.0zM332.8 375.8h1.0v1.0h-1.0zM333.0 377.4h1.0v1.0h-1.0zM333.2 376.0h1.0v1.0h-1.0zM333.4 377.7h1.0v1.0h-1.0zM333.7 376.7h1.0v1.0h-1.0zM333.9 379.3h1.0v1.0h-1.0zM334.1 378.2h1.0v1.0h-1.0zM334.3 376.5h1.0v1.0h-1.0zM334.5 377.5h1.0v1.0h-1.0zM334.8 376.0h1.0v1.0h-1.0zM335.0 377.6h1.0v1.0h-1.0zM335.2 378.2h1.0v1.0h-1.0zM335.4 377.9h1.0v1.0h-1.0zM335.6 375.0h1.0v1.0h-1.0zM335.9 377.1h1.0v1.0h-1.0zM336.1 378.2h1.0v1.0h-1.0zM336.3 377.9h1.0v1.0h-1.0zM336.5 379.0h1.0v1.0h-1.0zM336.7 375.9h1.0v1.0h-1.0zM337.0 378.2h1.0v1.0h-1.0zM337.2 376.7h1.0v1.0h-1.0zM337.4 377.8h1.0v1.0h-1.0zM337.6 378.1h1.0v1.0h-1.0zM337.8 378.4h1.0v1.0h-1.0zM338.1 376.8h1.0v1.0h-1.0zM338.3 377.8h1.0v1.0h-1.0zM338.5 376.0h1.0v1.0h-1.0zM338.7 375.7h1.0v1.0h-1.0zM338.9 378.2h1.0v1.0h-1.0zM339.2 377.5h1.0v1.0h-1.0zM339.4 375.4h1.0v1.0h-1.0zM339.6 376.4h1.0v1.0h-1.0zM339.8 377.5h1.0v1.0h-1.0zM340.0 379.5h1.0v1.0h-1.0zM340.3 378.9h1.0v1.0h-1.0zM340.5 378.6h1.0v1.0h-1.0zM340.7 375.2h1.0v1.0h-1.0zM340.9 377.4h1.0v1.0h-1.0zM341.1 378.1h1.0v1.0h-1.0zM341.4 378.0h1.0v1.0h-1.0zM341.6 378.1h1.0v1.0h-1.0zM341.8 377.2h1.0v1.0h-1.0zM342.0 379.8h1.0v1.0h-1.0zM342.2 379.4h1.0v1.0h-1.0zM342.5 377.4h1.0v1.0h-1.0zM342.7 376.3h1.0v1.0h-1.0zM342.9 380.2h1.0v1.0h-1.0zM343.1 376.8h1.0v1.0h-1.0zM343.3 379.1h1.0v1.0h-1.0zM343.6 380.0h1.0v1.0h-1.0zM343.8 376.3h1.0v1.0h-1.0zM344.0 377.9h1.0v1.0h-1.0zM344.2 377.1h1.0v1.0h-1.0zM344.4 378.2h1.0v1.0h-1.0zM344.7 377.9h1.0v1.0h-1.0zM344.9 380.1h1.0v1.0h-1.0zM345.1 378.3h1.0v1.0h-1.0zM345.3 377.5h1.0v1.0h-1.0zM345.5 379.0h1.0v1.0h-1.0zM345.8 377.2h1.0v1.0h-1.0zM346.0 377.0h1.0v1.0h-1.0zM346.2 380.4h1.0v1.0h-1.0zM346.4 376.5h1.0v1.0h-1.0zM346.6 376.9h1.0v1.0h-1.0zM346.9 377.6h1.0v1.0h-1.0zM347.1 376.2h1.0v1.0h-1.0zM347.3 374.8h1.0v1.0h-1.0zM347.5 378.9h1.0v1.0h-1.0zM347.7 376.5h1.0v1.0h-1.0zM348.0 376.8h1.0v1.0h-1.0zM348.2 377.0h1.0v1.0h-1.0zM348.4 376.2h1.0v1.0h-1.0zM348.6 376.1h1.0v1.0h-1.0zM348.8 377.7h1.0v1.0h-1.0zM349.1 380.6h1.0v1.0h-1.0zM349.3 378.5h1.0v1.0h-1.0zM349.5 378.5h1.0v1.0h-1.0zM349.7 375.6h1.0v1.0h-1.0zM349.9 377.5h1.0v1.0h-1.0zM350.2 376.0h1.0v1.0h-1.0zM350.4 378.5h1.0v1.0h-1.0zM350.6 377.2h1.0v1.0h-1.0zM350.8 377.6h1.0v1.0h-1.0zM351.0 377.4h1.0v1.0h-1.0zM351.3 376.8h1.0v1.0h-1.0zM351.5 375.5h1.0v1.0h-1.0zM351.7 378.3h1.0v1.0h-1.0zM351.9 375.7h1.0v1.0h-1.0zM352.1 376.0h1.0v1.0h-1.0zM352.4 377.1h1.0v1.0h-1.0zM352.6 376.6h1.0v1.0h-1.0zM352.8 377.9h1.0v1.0h-1.0zM353.0 378.8h1.0v1.0h-1.0zM353.2 377.8h1.0v1.0h-1.0zM353.5 377.8h1.0v1.0h-1.0zM353.7 377.6h1.0v1.0h-1.0zM353.9 378.6h1.0v1.0h-1.0zM354.1 375.1h1.0v1.0h-1.0zM354.3 378.0h1.0v1.0h-1.0zM354.6 376.3h1.0v1.0h-1.0zM354.8 375.9h1.0v1.0h-1.0zM355.0 377.5h1.0v1.0h-1.0zM355.2 377.0h1.0v1.0h-1.0zM355.4 378.3h1.0v1.0h-1.0zM355.7 379.0h1.0v1.0h-1.0zM355.9 374.5h1.0v1.0h-1.0zM356.1 377.4h1.0v1.0h-1.0zM356.3 380.1h1.0v1.0h-1.0zM356.5 378.7h1.0v1.0h-1.0zM356.8 379.4h1.0v1.0h-1.0zM357.0 377.7h1.0v1.0h-1.0zM357.2 375.7h1.0v1.0h-1.0zM357.4 376.1h1.0v1.0h-1.0zM357.6 378.4h1.0v1.0h-1.0zM357.9 378.8h1.0v1.0h-1.0zM358.1 376.6h1.0v1.0h-1.0zM358.3 377.2h1.0v1.0h-1.0zM358.5 377.9h1.0v1.0h-1.0zM358.7 375.2h1.0v1.0h-1.0zM359.0 377.1h1.0v1.0h-1.0zM359.2 379.6h1.0v1.0h-1.0zM359.4 380.4h1.0v1.0h-1.0zM359.6 377.4h1.0v1.0h-1.0zM359.8 379.9h1.0v1.0h-1.0zM360.1 376.8h1.0v1.0h-1.0zM360.3 376.5h1.0v1.0h-1.0zM360.5 374.6h1.0v1.0h-1.0zM360.7 378.8h1.0v1.0h-1.0zM360.9 377.0h1.0v1.0h-1.0zM361.2 380.6h1.0v1.0h-1.0zM361.4 378.0h1.0v1.0h-1.0zM361.6 377.8h1.0v1.0h-1.0zM361.8 375.2h1.0v1.0h-1.0zM362.0 379.5h1.0v1.0h-1.0zM362.3 377.1h1.0v1.0h-1.0zM362.5 377.3h1.0v1.0h-1.0zM362.7 374.7h1.0v1.0h-1.0zM362.9 378.7h1.0v1.0h-1.0zM363.1 378.8h1.0v1.0h-1.0zM363.4 376.7h1.0v1.0h-1.0zM363.6 377.6h1.0v1.0h-1.0zM363.8 378.0h1.0v1.0h-1.0zM364.0 378.8h1.0v1.0h-1.0zM364.2 377.7h1.0v1.0h-1.0zM364.5 379.8h1.0v1.0h-1.0zM364.7 377.2h1.0v1.0h-1.0zM364.9 376.7h1.0v1.0h-1.0zM365.1 376.9h1.0v1.0h-1.0zM365.3 374.2h1.0v1.0h-1.0zM365.6 376.5h1.0v1.0h-1.0zM365.8 378.8h1.0v1.0h-1.0zM366.0 377.9h1.0v1.0h-1.0zM366.2 376.5h1.0v1.0h-1.0zM366.4 378.0h1.0v1.0h-1.0zM366.7 374.9h1.0v1.0h-1.0zM366.9 377.2h1.0v1.0h-1.0zM367.1 378.2h1.0v1.0h-1.0zM367.3 378.4h1.0v1.0h-1.0zM367.5 376.5h1.0v1.0h-1.0zM367.8 378.7h1.0v1.0h-1.0zM368.0 380.0h1.0v1.0h-1.0zM368.2 377.0h1.0v1.0h-1.0zM368.4 378.5h1.0v1.0h-1.0zM368.6 375.5h1.0v1.0h-1.0zM368.9 375.0h1.0v1.0h-1.0zM369.1 378.3h1.0v1.0h-1.0zM369.3 377.6h1.0v1.0h-1.0zM369.5 377.8h1.0v1.0h-1.0zM369.7 376.8h1.0v1.0h-1.0zM370.0 377.1h1.0v1.0h-1.0zM370.2 378.6h1.0v1.0h-1.0zM370.4 379.8h1.0v1.0h-1.0zM370.6 377.3h1.0v1.0h-1.0zM370.8 375.4h1.0v1.0h-1.0zM371.1 379.2h1.0v1.0h-1.0zM371.3 378.3h1.0v1.0h-1.0zM371.5 378.4h1.0v1.0h-1.0zM371.7 377.8h1.0v1.0h-1.0zM371.9 380.6h1.0v1.0h-1.0zM372.2 377.6h1.0v1.0h-1.0zM372.4 378.2h1.0v1.0h-1.0zM372.6 375.1h1.0v1.0h-1.0zM372.8 376.8h1.0v1.0h-1.0zM373.0 376.6h1.0v1.0h-1.0zM373.3 377.5h1.0v1.0h-1.0zM373.5 378.0h1.0v1.0h-1.0zM373.7 376.6h1.0v1.0h-1.0zM373.9 379.8h1.0v1.0h-1.0zM374.1 376.1h1.0v1.0h-1.0zM374.4 376.9h1.0v1.0h-1.0zM374.6 377.8h1.0v1.0h-1.0zM374.8 375.9h1.0v1.0h-1.0zM375.0 378.3h1.0v1.0h-1.0zM375.2 378.4h1.0v1.0h-1.0zM375.5 377.2h1.0v1.0h-1.0zM375.7 380.0h1.0v1.0h-1.0zM375.9 377.6h1.0v1.0h-1.0z" fill="#4a4a4a" fill-opacity="0.6"/>
<path d="M150.0 290.4h0.8v0.8h-0.8zM150.4 291.2h0.8v0.8h-0.8zM150.9 293.2h0.8v0.8h-0.8zM151.3 298.9h0.8v0.8h-0.8zM151.8 302.9h0.8v0.8h-0.8zM152.2 305.5h0.8v0.8h-0.8zM152.7 310.8h0.8v0.8h-0.8zM153.1 306.4h0.8v0.8h-0.8zM153.6 311.5h0.8v0.8h-0.8zM154.0 312.2h0.8v0.8h-0.8zM154.5 321.3h0.8v0.8h-0.8zM154.9 319.0h0.8v0.8h-0.8zM155.4 320.8h0.8v0.8h-0.8zM155.8 321.0h0.8v0.8h-0.8zM156.3 326.7h0.8v0.8h-0.8zM156.7 325.3h0.8v0.8h-0.8zM157.2 328.1h0.8v0.8h-0.8zM157.6 324.6h0.8v0.8h-0.8zM158.1 333.1h0.8v0.8h-0.8zM158.5 332.9h0.8v0.8h-0.8zM159.0 334.7h0.8v0.8h-0.8zM159.4 337.7h0.8v0.8h-0.8zM159.9 336.1h0.8v0.8h-0.8zM160.3 337.6h0.8v0.8h-0.8zM160.8 341.0h0.8v0.8h-0.8zM161.2 341.7h0.8v0.8h-0.8zM161.7 341.5h0.8v0.8h-0.8zM162.1 343.5h0.8v0.8h-0.8zM162.6 343.5h0.8v0.8h-0.8zM163.0 347.4h0.8v0.8h-0.8zM163.5 349.0h0.8v0.8h-0.8zM163.9 348.0h0.8v0.8h-0.8zM164.4 353.2h0.8v0.8h-0.8zM164.8 346.7h0.8v0.8h-0.8zM165.3 350.6h0.8v0.8h-0.8zM165.7 355.8h0.8v0.8h-0.8zM166.2 352.0h0.8v0.8h-0.8zM166.6 350.3h0.8v0.8h-0.8zM167.1 357.7h0.8v0.8h-0.8zM167.5 356.7h0.8v0.8h-0.8zM168.0 353.6h0.8v0.8h-0.8zM168.4 358.6h0.8v0.8h-0.8zM168.9 355.3h0.8v0.8h-0.8zM169.3 355.3h0.8v0.8h-0.8zM169.8 358.5h0.8v0.8h-0.8zM170.2 358.4h0.8v0.8h-0.8zM170.7 357.6h0.8v0.8h-0.8zM171.1 359.8h0.8v0.8h-0.8zM171.6 359.0h0.8v0.8h-0.8zM172.0 362.0h0.8v0.8h-0.8zM172.5 362.5h0.8v0.8h-0.8zM172.9 364.8h0.8v0.8h-0.8zM173.4 362.9h0.8v0.8h-0.8zM173.8 361.6h0.8v0.8h-0.8zM174.3 362.3h0.8v0.8h-0.8zM174.7 365.2h0.8v0.8h-0.8zM175.2 369.7h0.8v0.8h-0.8zM175.6 368.7h0.8v0.8h-0.8zM176.1 365.9h0.8v0.8h-0.8zM176.5 369.9h0.8v0.8h-0.8zM177.0 365.7h0.8v0.8h-0.8zM177.4 370.9h0.8v0.8h-0.8zM177.9 368.3h0.8v0.8h-0.8zM178.3 371.2h0.8v0.8h-0.8zM178.8 371.2h0.8v0.8h-0.8zM179.2 369.5h0.8v0.8h-0.8zM179.7 371.1h0.8v0.8h-0.8zM180.1 368.3h0.8v0.8h-0.8zM180.6 370.7h0.8v0.8h-0.8zM181.0 373.5h0.8v0.8h-0.8zM181.5 380.4h0.8v0.8h-0.8zM181.9 373.1h0.8v0.8h-0.8zM182.4 371.9h0.8v0.8h-0.8zM182.8 369.7h0.8v0.8h-0.8zM183.3 374.5h0.8v0.8h-0.8zM183.7 368.7h0.8v0.8h-0.8zM184.2 370.7h0.8v0.8h-0.8zM184.6 373.5h0.8v0.8h-0.8zM185.1 370.2h0.8v0.8h-0.8zM185.5 376.4h0.8v0.8h-0.8zM186.0 375.6h0.8v0.8h-0.8zM186.4 372.1h0.8v0.8h-0.8zM186.9 372.3h0.8v0.8h-0.8zM187.3 370.8h0.8v0.8h-0.8zM187.8 370.8h0.8v0.8h-0.8zM188.2 375.0h0.8v0.8h-0.8zM188.7 375.6h0.8v0.8h-0.8zM189.1 375.1h0.8v0.8h-0.8zM189.6 375.1h0.8v0.8h-0.8zM190.0 373.4h0.8v0.8h-0.8zM190.5 375.5h0.8v0.8h-0.8zM190.9 371.6h0.8v0.8h-0.8zM191.4 375.0h0.8v0.8h-0.8zM191.8 378.4h0.8v0.8h-0.8zM192.3 378.2h0.8v0.8h-0.8zM192.7 374.4h0.8v0.8h-0.8zM193.2 374.8h0.8v0.8h-0.8zM193.6 378.7h0.8v0.8h-0.8zM194.1 379.7h0.8v0.8h-0.8zM194.5 372.5h0.8v0.8h-0.8zM195.0 375.0h0.8v0.8h-0.8zM195.4 376.6h0.8v0.8h-0.8zM195.9 378.8h0.8v0.8h-0.8zM196.3 374.4h0.8v0.8h-0.8zM196.8 377.8h0.8v0.8h-0.8zM197.2 375.8h0.8v0.8h-0.8zM197.7 381.7h0.8v0.8h-0.8zM198.1 377.5h0.8v0.8h-0.8zM198.6 376.4h0.8v0.8h-0.8zM199.0 376.0h0.8v0.8h-0.8zM199.5 379.1h0.8v0.8h-0.8zM199.9 378.4h0.8v0.8h-0.8zM200.4 374.5h0.8v0.8h-0.8zM200.8 377.5h0.8v0.8h-0.8zM201.3 374.1h0.8v0.8h-0.8zM201.7 375.5h0.8v0.8h-0.8zM202.2 374.3h0.8v0.8h-0.8zM202.6 374.3h0.8v0.8h-0.8zM203.1 375.8h0.8v0.8h-0.8zM203.5 375.2h0.8v0.8h-0.8zM204.0 378.6h0.8v0.8h-0.8zM204.4 379.3h0.8v0.8h-0.8zM204.9 377.0h0.8v0.8h-0.8zM205.3 375.1h0.8v0.8h-0.8zM205.8 379.4h0.8v0.8h-0.8zM206.2 373.2h0.8v0.8h-0.8zM206.7 373.4h0.8v0.8h-0.8zM207.1 379.3h0.8v0.8h-0.8zM207.6 379.2h0.8v0.8h-0.8zM208.0 379.9h0.8v0.8h-0.8zM208.5 377.3h0.8v0.8h-0.8zM208.9 375.0h0.8v0.8h-0.8zM209.4 376.7h0.8v0.8h-0.8zM209.8 379.1h0.8v0.8h-0.8zM210.3 376.2h0.8v0.8h-0.8zM210.7 376.3h0.8v0.8h-0.8zM211.2 374.8h0.8v0.8h-0.8zM211.6 375.3h0.8v0.8h-0.8zM212.1 379.8h0.8v0.8h-0.8zM212.5 378.9h0.8v0.8h-0.8zM213.0 375.4h0.8v0.8h-0.8zM213.4 375.6h0.8v0.8h-0.8zM213.9 376.7h0.8v0.8h-0.8zM214.3 379.2h0.8v0.8h-0.8zM214.8 375.4h0.8v0.8h-0.8zM215.2 377.6h0.8v0.8h-0.8zM215.7 373.3h0.8v0.8h-0.8zM216.1 375.3h0.8v0.8h-0.8zM216.6 379.0h0.8v0.8h-0.8zM217.0 380.0h0.8v0.8h-0.8zM217.5 375.5h0.8v0.8h-0.8zM217.9 376.4h0.8v0.8h-0.8zM218.4 379.8h0.8v0.8h-0.8zM218.8 377.2h0.8v0.8h-0.8zM219.3 376.9h0.8v0.8h-0.8zM219.7 379.3h0.8v0.8h-0.8zM220.2 378.5h0.8v0.8h-0.8zM220.6 380.6h0.8v0.8h-0.8zM221.1 379.9h0.8v0.8h-0.8zM221.5 376.9h0.8v0.8h-0.8zM222.0 377.9h0.8v0.8h-0.8zM222.4 378.0h0.8v0.8h-0.8zM222.9 375.2h0.8v0.8h-0.8zM223.3 376.0h0.8v0.8h-0.8zM223.8 380.3h0.8v0.8h-0.8zM224.2 374.7h0.8v0.8h-0.8zM224.7 380.4h0.8v0.8h-0.8zM225.1 378.8h0.8v0.8h-0.8zM225.6 377.9h0.8v0.8h-0.8zM226.0 379.4h0.8v0.8h-0.8zM226.5 379.2h0.8v0.8h-0.8zM226.9 380.9h0.8v0.8h-0.8zM227.4 377.3h0.8v0.8h-0.8zM227.8 377.7h0.8v0.8h-0.8zM228.3 377.7h0.8v0.8h-0.8zM228.7 382.4h0.8v0.8h-0.8zM229.2 380.3h0.8v0.8h-0.8zM229.6 376.2h0.8v0.8h-0.8zM230.1 377.5h0.8v0.8h-0.8zM230.5 376.6h0.8v0.8h-0.8zM231.0 378.2h0.8v0.8h-0.8zM231.4 378.7h0.8v0.8h-0.8zM231.9 383.3h0.8v0.8h-0.8zM232.3 374.2h0.8v0.8h-0.8zM232.8 380.5h0.8v0.8h-0.8zM233.2 379.2h0.8v0.8h-0.8zM233.7 376.7h0.8v0.8h-0.8zM234.1 377.9h0.8v0.8h-0.8zM234.6 377.1h0.8v0.8h-0.8zM235.0 378.3h0.8v0.8h-0.8zM235.5 380.4h0.8v0.8h-0.8zM235.9 374.9h0.8v0.8h-0.8zM236.4 381.1h0.8v0.8h-0.8zM236.8 377.4h0.8v0.8h-0.8zM237.3 381.5h0.8v0.8h-0.8zM237.7 379.1h0.8v0.8h-0.8zM238.2 380.9h0.8v0.8h-0.8zM238.6 379.5h0.8v0.8h-0.8zM239.1 380.6h0.8v0.8h-0.8zM239.5 378.3h0.8v0.8h-0.8zM240.0 376.4h0.8v0.8h-0.8zM240.4 379.7h0.8v0.8h-0.8zM240.9 379.8h0.8v0.8h-0.8zM241.3 382.9h0.8v0.8h-0.8zM241.8 373.8h0.8v0.8h-0.8zM242.2 377.8h0.8v0.8h-0.8zM242.7 380.6h0.8v0.8h-0.8zM243.1 375.5h0.8v0.8h-0.8zM243.6 377.7h0.8v0.8h-0.8zM244.0 382.9h0.8v0.8h-0.8zM244.5 381.3h0.8v0.8h-0.8zM244.9 376.3h0.8v0.8h-0.8zM245.4 381.4h0.8v0.8h-0.8zM245.8 380.8h0.8v0.8h-0.8zM246.3 379.9h0.8v0.8h-0.8zM246.7 379.1h0.8v0.8h-0.8zM247.2 378.8h0.8v0.8h-0.8zM247.6 376.3h0.8v0.8h-0.8zM248.1 377.1h0.8v0.8h-0.8zM248.5 379.8h0.8v0.8h-0.8zM249.0 378.5h0.8v0.8h-0.8zM249.4 382.3h0.8v0.8h-0.8zM249.9 377.5h0.8v0.8h-0.8zM250.3 372.9h0.8v0.8h-0.8zM250.8 377.5h0.8v0.8h-0.8zM251.2 378.8h0.8v0.8h-0.8zM251.7 379.1h0.8v0.8h-0.8zM252.1 378.4h0.8v0.8h-0.8zM252.6 376.4h0.8v0.8h-0.8zM253.0 381.5h0.8v0.8h-0.8zM253.5 376.8h0.8v0.8h-0.8zM253.9 379.8h0.8v0.8h-0.8zM254.4 377.6h0.8v0.8h-0.8zM254.8 375.6h0.8v0.8h-0.8zM255.3 381.4h0.8v0.8h-0.8zM255.7 372.7h0.8v0.8h-0.8zM256.2 376.4h0.8v0.8h-0.8zM256.6 379.2h0.8v0.8h-0.8zM257.1 377.5h0.8v0.8h-0.8zM257.5 379.9h0.8v0.8h-0.8zM258.0 378.0h0.8v0.8h-0.8zM258.4 377.2h0.8v0.8h-0.8zM258.9 383.0h0.8v0.8h-0.8zM259.3 377.8h0.8v0.8h-0.8zM259.8 377.9h0.8v0.8h-0.8zM260.2 375.9h0.8v0.8h-0.8zM260.7 376.6h0.8v0.8h-0.8zM261.1 379.7h0.8v0.8h-0.8zM261.6 379.5h0.8v0.8h-0.8zM262.0 378.3h0.8v0.8h-0.8zM262.5 376.7h0.8v0.8h-0.8zM262.9 379.8h0.8v0.8h-0.8zM263.4 374.5h0.8v0.8h-0.8zM263.8 377.5h0.8v0.8h-0.8zM264.3 377.7h0.8v0.8h-0.8zM264.7 376.4h0.8v0.8h-0.8zM265.2 378.6h0.8v0.8h-0.8zM265.6 376.8h0.8v0.8h-0.8zM266.1 376.5h0.8v0.8h-0.8zM266.5 382.2h0.8v0.8h-0.8zM267.0 379.9h0.8v0.8h-0.8zM267.4 380.9h0.8v0.8h-0.8zM267.9 378.4h0.8v0.8h-0.8zM268.3 380.4h0.8v0.8h-0.8zM268.8 380.0h0.8v0.8h-0.8zM269.2 380.9h0.8v0.8h-0.8zM269.7 383.5h0.8v0.8h-0.8zM270.1 377.8h0.8v0.8h-0.8zM270.6 378.8h0.8v0.8h-0.8zM271.0 378.2h0.8v0.8h-0.8zM271.5 370.5h0.8v0.8h-0.8zM271.9 375.2h0.8v0.8h-0.8zM272.4 378.3h0.8v0.8h-0.8zM272.8 379.7h0.8v0.8h-0.8zM273.3 377.0h0.8v0.8h-0.8zM273.7 380.8h0.8v0.8h-0.8zM274.2 381.1h0.8v0.8h-0.8zM274.6 377.4h0.8v0.8h-0.8zM275.1 381.4h0.8v0.8h-0.8zM275.5 382.1h0.8v0.8h-0.8zM276.0 379.3h0.8v0.8h-0.8zM276.4 376.1h0.8v0.8h-0.8zM276.9 381.5h0.8v0.8h-0.8zM277.3 377.9h0.8v0.8h-0.8zM277.8 377.5h0.8v0.8h-0.8zM278.2 378.5h0.8v0.8h-0.8zM278.7 377.1h0.8v0.8h-0.8zM279.1 380.7h0.8v0.8h-0.8zM279.6 380.0h0.8v0.8h-0.8zM280.0 381.0h0.8v0.8h-0.8zM280.5 379.6h0.8v0.8h-0.8zM280.9 376.6h0.8v0.8h-0.8zM281.4 377.9h0.8v0.8h-0.8zM281.8 380.2h0.8v0.8h-0.8zM282.3 377.4h0.8v0.8h-0.8zM282.7 384.7h0.8v0.8h-0.8zM283.2 377.8h0.8v0.8h-0.8zM283.6 377.0h0.8v0.8h-0.8zM284.1 380.8h0.8v0.8h-0.8zM284.5 379.9h0.8v0.8h-0.8zM285.0 378.2h0.8v0.8h-0.8zM285.4 377.8h0.8v0.8h-0.8zM285.9 379.2h0.8v0.8h-0.8zM286.3 380.1h0.8v0.8h-0.8zM286.8 380.0h0.8v0.8h-0.8zM287.2 377.6h0.8v0.8h-0.8zM287.7 379.3h0.8v0.8h-0.8zM288.1 380.2h0.8v0.8h-0.8zM288.6 380.0h0.8v0.8h-0.8zM289.0 371.5h0.8v0.8h-0.8zM289.5 376.3h0.8v0.8h-0.8zM289.9 376.6h0.8v0.8h-0.8zM290.4 377.8h0.8v0.8h-0.8zM290.8 378.7h0.8v0.8h-0.8zM291.3 380.3h0.8v0.8h-0.8zM291.7 379.7h0.8v0.8h-0.8zM292.2 378.0h0.8v0.8h-0.8zM292.6 378.4h0.8v0.8h-0.8zM293.1 382.2h0.8v0.8h-0.8zM293.5 377.0h0.8v0.8h-0.8zM294.0 379.0h0.8v0.8h-0.8zM294.4 381.7h0.8v0.8h-0.8zM294.9 379.1h0.8v0.8h-0.8zM295.3 373.8h0.8v0.8h-0.8zM295.8 379.1h0.8v0.8h-0.8zM296.2 377.4h0.8v0.8h-0.8zM296.7 378.1h0.8v0.8h-0.8zM297.1 380.6h0.8v0.8h-0.8zM297.6 379.3h0.8v0.8h-0.8zM298.0 377.7h0.8v0.8h-0.8zM298.5 380.3h0.8v0.8h-0.8zM298.9 379.3h0.8v0.8h-0.8zM299.4 378.5h0.8v0.8h-0.8zM299.8 379.0h0.8v0.8h-0.8zM300.3 378.9h0.8v0.8h-0.8zM300.7 377.6h0.8v0.8h-0.8zM301.2 377.3h0.8v0.8h-0.8zM301.6 378.4h0.8v0.8h-0.8zM302.1 376.2h0.8v0.8h-0.8zM302.5 375.5h0.8v0.8h-0.8zM303.0 381.2h0.8v0.8h-0.8zM303.4 377.8h0.8v0.8h-0.8zM303.9 378.2h0.8v0.8h-0.8zM304.3 378.0h0.8v0.8h-0.8zM304.8 378.4h0.8v0.8h-0.8zM305.2 378.3h0.8v0.8h-0.8zM305.7 378.4h0.8v0.8h-0.8zM306.1 376.5h0.8v0.8h-0.8zM306.6 380.4h0.8v0.8h-0.8zM307.0 376.8h0.8v0.8h-0.8zM307.5 380.6h0.8v0.8h-0.8zM307.9 374.1h0.8v0.8h-0.8zM308.4 376.0h0.8v0.8h-0.8zM308.8 380.5h0.8v0.8h-0.8zM309.3 378.0h0.8v0.8h-0.8zM309.7 376.8h0.8v0.8h-0.8zM310.2 379.1h0.8v0.8h-0.8zM310.6 376.0h0.8v0.8h-0.8zM311.1 378.5h0.8v0.8h-0.8zM311.5 373.4h0.8v0.8h-0.8zM312.0 377.3h0.8v0.8h-0.8zM312.4 376.9h0.8v0.8h-0.8zM312.9 379.5h0.8v0.8h-0.8zM313.3 380.2h0.8v0.8h-0.8zM313.8 376.4h0.8v0.8h-0.8zM314.2 381.8h0.8v0.8h-0.8zM314.7 377.0h0.8v0.8h-0.8zM315.1 373.8h0.8v0.8h-0.8zM315.6 373.1h0.8v0.8h-0.8zM316.0 381.7h0.8v0.8h-0.8zM316.5 378.1h0.8v0.8h-0.8zM316.9 376.9h0.8v0.8h-0.8zM317.4 376.7h0.8v0.8h-0.8zM317.8 375.9h0.8v0.8h-0.8zM318.3 381.3h0.8v0.8h-0.8zM318.7 378.1h0.8v0.8h-0.8zM319.2 382.2h0.8v0.8h-0.8zM319.6 377.9h0.8v0.8h-0.8zM320.1 373.1h0.8v0.8h-0.8zM320.5 380.2h0.8v0.8h-0.8zM321.0 377.5h0.8v0.8h-0.8zM321.4 377.8h0.8v0.8h-0.8zM321.9 381.7h0.8v0.8h-0.8zM322.3 377.7h0.8v0.8h-0.8zM322.8 380.9h0.8v0.8h-0.8zM323.2 378.3h0.8v0.8h-0.8zM323.7 376.6h0.8v0.8h-0.8zM324.1 379.4h0.8v0.8h-0.8zM324.6 377.0h0.8v0.8h-0.8zM325.0 381.0h0.8v0.8h-0.8zM325.5 380.4h0.8v0.8h-0.8zM325.9 378.4h0.8v0.8h-0.8zM326.4 379.6h0.8v0.8h-0.8zM326.8 379.5h0.8v0.8h-0.8zM327.3 377.7h0.8v0.8h-0.8zM327.7 380.3h0.8v0.8h-0.8zM328.2 377.8h0.8v0.8h-0.8zM328.6 379.7h0.8v0.8h-0.8zM329.1 376.2h0.8v0.8h-0.8zM329.5 378.5h0.8v0.8h-0.8zM330.0 379.2h0.8v0.8h-0.8zM330.4 376.6h0.8v0.8h-0.8zM330.9 377.4h0.8v0.8h-0.8zM331.3 377.1h0.8v0.8h-0.8zM331.8 379.9h0.8v0.8h-0.8zM332.2 376.7h0.8v0.8h-0.8zM332.7 379.3h0.8v0.8h-0.8zM333.1 381.7h0.8v0.8h-0.8zM333.6 379.1h0.8v0.8h-0.8zM334.0 374.8h0.8v0.8h-0.8zM334.5 378.6h0.8v0.8h-0.8zM334.9 380.6h0.8v0.8h-0.8zM335.4 377.7h0.8v0.8h-0.8zM335.8 380.8h0.8v0.8h-0.8zM336.3 379.7h0.8v0.8h-0.8zM336.7 379.2h0.8v0.8h-0.8zM337.2 377.7h0.8v0.8h-0.8zM337.6 377.2h0.8v0.8h-0.8zM338.1 377.8h0.8v0.8h-0.8zM338.5 378.5h0.8v0.8h-0.8zM339.0 379.5h0.8v0.8h-0.8zM339.4 379.2h0.8v0.8h-0.8zM339.9 377.7h0.8v0.8h-0.8zM340.3 378.5h0.8v0.8h-0.8zM340.8 379.2h0.8v0.8h-0.8zM341.2 374.7h0.8v0.8h-0.8zM341.7 376.6h0.8v0.8h-0.8zM342.1 376.6h0.8v0.8h-0.8zM342.6 377.9h0.8v0.8h-0.8zM343.0 377.7h0.8v0.8h-0.8zM343.5 377.8h0.8v0.8h-0.8zM343.9 376.4h0.8v0.8h-0.8zM344.4 379.8h0.8v0.8h-0.8zM344.8 378.9h0.8v0.8h-0.8zM345.3 374.7h0.8v0.8h-0.8zM345.7 378.4h0.8v0.8h-0.8zM346.2 375.9h0.8v0.8h-0.8zM346.6 382.1h0.8v0.8h-0.8zM347.1 377.3h0.8v0.8h-0.8zM347.5 377.5h0.8v0.8h-0.8zM348.0 378.5h0.8v0.8h-0.8zM348.4 377.9h0.8v0.8h-0.8zM348.9 378.2h0.8v0.8h-0.8zM349.3 381.7h0.8v0.8h-0.8zM349.8 378.8h0.8v0.8h-0.8zM350.2 380.2h0.8v0.8h-0.8zM350.7 380.8h0.8v0.8h-0.8zM351.1 376.2h0.8v0.8h-0.8zM351.6 382.1h0.8v0.8h-0.8zM352.0 379.9h0.8v0.8h-0.8zM352.5 380.4h0.8v0.8h-0.8zM352.9 376.4h0.8v0.8h-0.8zM353.4 380.1h0.8v0.8h-0.8zM353.8 379.2h0.8v0.8h-0.8zM354.3 377.2h0.8v0.8h-0.8zM354.7 383.4h0.8v0.8h-0.8zM355.2 379.6h0.8v0.8h-0.8zM355.6 377.8h0.8v0.8h-0.8zM356.1 378.8h0.8v0.8h-0.8zM356.5 380.3h0.8v0.8h-0.8zM357.0 380.8h0.8v0.8h-0.8zM357.4 379.6h0.8v0.8h-0.8zM357.9 381.0h0.8v0.8h-0.8zM358.3 381.6h0.8v0.8h-0.8zM358.8 375.6h0.8v0.8h-0.8zM359.2 377.3h0.8v0.8h-0.8zM359.7 376.3h0.8v0.8h-0.8zM360.1 378.6h0.8v0.8h-0.8zM360.6 381.5h0.8v0.8h-0.8zM361.0 379.8h0.8v0.8h-0.8zM361.5 376.0h0.8v0.8h-0.8zM361.9 377.7h0.8v0.8h-0.8zM362.4 380.6h0.8v0.8h-0.8zM362.8 377.2h0.8v0.8h-0.8zM363.3 378.1h0.8v0.8h-0.8zM363.7 379.0h0.8v0.8h-0.8zM364.2 374.3h0.8v0.8h-0.8zM364.6 380.1h0.8v0.8h-0.8zM365.1 379.1h0.8v0.8h-0.8zM365.5 379.6h0.8v0.8h-0.8zM366.0 376.2h0.8v0.8h-0.8zM366.4 376.7h0.8v0.8h-0.8zM366.9 377.0h0.8v0.8h-0.8zM367.3 378.9h0.8v0.8h-0.8zM367.8 378.5h0.8v0.8h-0.8zM368.2 378.6h0.8v0.8h-0.8zM368.7 382.3h0.8v0.8h-0.8zM369.1 381.2h0.8v0.8h-0.8zM369.6 376.8h0.8v0.8h-0.8zM370.0 376.9h0.8v0.8h-0.8zM370.5 382.1h0.8v0.8h-0.8zM370.9 377.6h0.8v0.8h-0.8zM371.4 381.4h0.8v0.8h-0.8zM371.8 381.9h0.8v0.8h-0.8zM372.3 377.2h0.8v0.8h-0.8zM372.7 377.8h0.8v0.8h-0.8zM373.2 378.5h0.8v0.8h-0.8zM373.6 376.4h0.8v0.8h-0.8zM374.1 376.2h0.8v0.8h-0.8zM374.5 377.5h0.8v0.8h-0.8zM375.0 380.2h0.8v0.8h-0.8zM375.4 377.4h0.8v0.8h-0.8zM375.9 377.9h0.8v0.8h-0.8z" fill="#8a8a8a" fill-opacity="0.7"/>
<polyline fill="none" stroke="#999" stroke-width="0.6" points="144.00,227.00 146.40,228.50 144.00,230.00 146.40,231.50 144.00,233.00 146.40,234.50 144.00,236.00 146.40,237.50 144.00,239.00 146.40,240.50 144.00,242.00 146.40,243.50 144.00,245.00 146.40,246.50 144.00,248.00 146.40,249.50 144.00,251.00"/>
<line x1="143.7" y1="252" x2="143.7" y2="386" stroke="#555" stroke-width="1"/>
<rect x="224.8" y="233.1" width="142.8" height="105.1" fill="#fff" stroke="#b3b3b3" stroke-width="1.5"/>
<line x1="222.5" y1="333.00" x2="224.8" y2="333.00" stroke="#999" stroke-width="0.7"/>
<text x="221.2" y="335.00" font-family="Liberation Sans, sans-serif" font-size="5.8" text-anchor="end" fill="#444">0.000</text>
<line x1="222.5" y1="310.40" x2="224.8" y2="310.40" stroke="#999" stroke-width="0.7"/>
<text x="221.2" y="312.40" font-family="Liberation Sans, sans-serif" font-size="5.8" text-anchor="end" fill="#444">0.005</text>
<line x1="222.5" y1="287.80" x2="224.8" y2="287.80" stroke="#999" stroke-width="0.7"/>
<text x="221.2" y="289.80" font-family="Liberation Sans, sans-serif" font-size="5.8" text-anchor="end" fill="#444">0.010</text>
<line x1="222.5" y1="265.20" x2="224.8" y2="265.20" stroke="#999" stroke-width="0.7"/>
<text x="221.2" y="267.20" font-family="Liberation Sans, sans-serif" font-size="5.8" text-anchor="end" fill="#444">0.015</text>
<line x1="222.5" y1="242.60" x2="224.8" y2="242.60" stroke="#999" stroke-width="0.7"/>
<text x="221.2" y="244.60" font-family="Liberation Sans, sans-serif" font-size="5.8" text-anchor="end" fill="#444">0.020</text>
<line x1="230.60" y1="338.2" x2="230.60" y2="340.0" stroke="#999" stroke-width="0.7"/>
<text x="230.60" y="347.9" font-family="Liberation Sans, sans-serif" font-size="5.4" text-anchor="middle" fill="#444">0</text>
<line x1="257.93" y1="338.2" x2="257.93" y2="340.0" stroke="#999" stroke-width="0.7"/>
<text x="257.93" y="347.9" font-family="Liberation Sans, sans-serif" font-size="5.4" text-anchor="middle" fill="#444">1</text>
<line x1="285.26" y1="338.2" x2="285.26" y2="340.0" stroke="#999" stroke-width="0.7"/>
<text x="285.26" y="347.9" font-family="Liberation Sans, sans-serif" font-size="5.4" text-anchor="middle" fill="#444">2</text>
<line x1="312.59" y1="338.2" x2="312.59" y2="340.0" stroke="#999" stroke-width="0.7"/>
<text x="312.59" y="347.9" font-family="Liberation Sans, sans-serif" font-size="5.4" text-anchor="middle" fill="#444">3</text>
<line x1="339.92" y1="338.2" x2="339.92" y2="340.0" stroke="#999" stroke-width="0.7"/>
<text x="339.92" y="347.9" font-family="Liberation Sans, sans-serif" font-size="5.4" text-anchor="middle" fill="#444">4</text>
<line x1="367.25" y1="338.2" x2="367.25" y2="340.0" stroke="#999" stroke-width="0.7"/>
<text x="367.25" y="347.9" font-family="Liberation Sans, sans-serif" font-size="5.4" text-anchor="middle" fill="#444">5</text>
<text transform="translate(207.3,281.4) rotate(-90)" font-family="Liberation Sans, sans-serif" font-weight="bold" font-size="6.5" text-anchor="middle" fill="#222">Absorbance at 510 nm</text>
<text x="296.5" y="355.3" font-family="Liberation Sans, sans-serif" font-weight="bold" font-size="5.4" text-anchor="middle" fill="#000">Time (s)</text>
<polyline fill="none" stroke="#c9c9c9" stroke-width="0.5" points="237.43,257.19 238.80,257.54 240.17,262.42 241.53,260.62 242.90,264.59 244.26,268.21 245.63,268.56 247.00,272.40 248.36,274.88 249.73,274.61 251.10,277.39 252.46,277.69 253.83,280.92 255.20,282.12 256.56,283.66 257.93,286.17 259.30,286.63 260.66,288.87 262.03,289.52 263.40,288.82 264.76,291.36 266.13,292.68 267.50,291.83 268.86,295.69 270.23,295.51 271.59,296.83 272.96,296.53 274.33,298.48 275.69,299.67 277.06,300.02 278.43,301.40 279.79,300.10 281.16,304.40 282.53,302.75 283.89,302.50 285.26,304.55 286.63,305.50 287.99,307.72 289.36,307.14 290.73,309.22 292.09,308.86 293.46,312.80 294.83,311.83 296.19,313.93 297.56,311.65 298.92,314.02 300.29,313.08 301.66,315.31 303.02,316.07 304.39,314.47 305.76,315.59 307.12,316.23 308.49,316.56 309.86,318.00 311.22,318.35 312.59,318.41 313.96,320.50 315.32,321.50 316.69,320.18 318.06,321.48 319.42,322.58 320.79,322.88 322.16,322.92 323.52,324.86 324.89,325.33 326.25,325.59 327.62,325.12 328.99,327.67 330.35,327.77 331.72,325.98 333.09,326.62 334.45,328.25 335.82,326.57 337.19,328.08 338.55,328.05 339.92,327.59 341.29,328.35 342.65,327.30 344.02,328.62 345.39,327.42 346.75,331.91 348.12,331.35 349.49,331.28 350.85,330.56 352.22,331.44 353.58,331.90 354.95,331.83 356.32,331.91 357.68,330.23 359.05,331.72 360.42,330.91 361.78,330.41 363.15,330.61 364.52,332.33 365.88,333.11"/>
<polyline fill="none" stroke="#d2d2d2" stroke-width="0.5" points="237.43,309.78 239.07,313.82 240.71,314.56 242.35,313.93 243.99,315.07 245.63,316.68 247.27,318.94 248.91,318.53 250.55,318.77 252.19,321.18 253.83,319.72 255.47,322.67 257.11,324.40 258.75,324.26 260.39,325.44 262.03,325.72 263.67,326.45 265.31,326.36 266.95,325.88 268.59,326.98 270.23,327.56 271.87,329.22 273.51,329.90 275.15,329.02 276.79,328.16 278.43,328.49 280.07,329.27 281.71,331.07 283.35,330.25 284.99,330.09 286.63,329.61 288.27,331.44 289.91,331.02 291.55,330.85 293.19,331.18 294.83,332.93 296.47,331.21 298.11,333.16 299.74,332.80 301.38,331.71 303.02,332.63 304.66,331.70 306.30,331.04 307.94,331.65 309.58,331.05 311.22,332.51 312.86,332.06 314.50,332.65 316.14,332.94 317.78,329.02 319.42,332.48 321.06,330.40 322.70,332.39 324.34,331.38 325.98,332.39 327.62,333.68 329.26,330.63 330.90,332.56 332.54,332.32 334.18,330.53 335.82,333.10 337.46,332.51 339.10,332.00 340.74,331.81 342.38,335.78 344.02,332.20 345.66,330.82 347.30,331.72 348.94,332.31 350.58,332.32 352.22,332.65 353.86,331.71 355.50,333.33 357.14,332.33 358.78,331.48 360.42,332.06 362.06,332.52 363.70,333.78 365.34,333.44 366.98,332.65"/>
<polyline fill="none" stroke="#bdbdbd" stroke-width="0.7" points="232.6,257 233.5,243 234.3,256 235.2,252 236.6,257 238.3,240.5 239.1,256"/>
<polyline fill="none" stroke="#8f8f8f" stroke-width="1.05" points="230.60,333.00 230.74,329.28 230.88,326.11 231.02,323.40 231.16,321.08 231.30,319.11 231.44,317.42 231.58,315.98 231.72,314.74 231.86,313.69 232.00,312.79 232.14,312.03 232.28,311.37 232.42,310.81 232.56,310.33 232.70,309.93 232.84,309.58 232.98,309.28 233.12,309.03 233.26,308.81 233.40,308.62 233.54,308.46 233.68,308.33 233.82,308.21 233.96,308.12 234.10,308.03 234.24,308.06 234.38,308.13 234.52,308.21 234.66,308.29 234.80,308.37 234.94,308.45 235.08,308.53 235.23,308.61 235.37,308.68 235.51,308.76 235.65,308.84 235.79,308.92 235.93,309.00 236.07,309.08 236.07,309.08 236.34,309.23 236.61,309.38 236.89,309.54 237.16,309.69 237.43,309.85 237.71,310.00 237.98,310.15 238.25,310.31 238.53,310.46 238.80,310.61 239.07,310.77 239.35,310.92 239.62,311.07 239.89,311.23 240.17,311.38 240.44,311.58 240.71,311.78 240.99,311.99 241.26,312.19 241.53,312.39 241.81,312.60 242.08,312.80 242.35,313.00 242.63,313.21 242.90,313.41 243.17,313.62 243.45,313.82 243.72,314.02 243.99,314.23 244.26,314.43 244.54,314.64 244.81,314.84 245.08,315.04 245.36,315.25 245.63,315.45 245.90,315.65 246.18,315.86 246.45,316.06 246.72,316.27 247.00,316.47 247.27,316.66 247.54,316.82 247.82,316.98 248.09,317.14 248.36,317.29 248.64,317.45 248.91,317.61 249.18,317.77 249.46,317.93 249.73,318.09 250.00,318.25 250.28,318.41 250.55,318.57 250.82,318.73 251.10,318.89 251.37,319.05 251.64,319.21 251.92,319.37 252.19,319.53 252.46,319.69 252.74,319.85 253.01,320.01 253.28,320.17 253.56,320.33 253.83,320.49 254.10,320.64 254.38,320.76 254.65,320.88 254.92,320.99 255.20,321.11 255.47,321.23 255.74,321.35 256.02,321.47 256.29,321.59 256.56,321.70 256.84,321.82 257.11,321.94 257.38,322.06 257.66,322.18 257.93,322.30 258.20,322.41 258.48,322.53 258.75,322.65 259.02,322.77 259.30,322.89 259.57,323.01 259.84,323.12 260.12,323.24 260.39,323.36 260.66,323.48 260.94,323.60 261.21,323.68 261.48,323.76 261.76,323.85 262.03,323.93 262.30,324.01 262.58,324.09 262.85,324.18 263.12,324.26 263.40,324.34 263.67,324.42 263.94,324.51 264.22,324.59 264.49,324.67 264.76,324.75 265.04,324.84 265.31,324.92 265.58,325.00 265.86,325.08 266.13,325.16 266.40,325.25 266.68,325.33 266.95,325.41 267.22,325.49 267.50,325.58 267.77,325.66 268.04,325.74 268.32,325.82 268.59,325.91 268.86,325.99 269.14,326.07 269.41,326.15 269.68,326.23 269.96,326.28 270.23,326.34 270.50,326.39 270.78,326.44 271.05,326.50 271.32,326.55 271.60,326.60 271.87,326.66 272.14,326.71 272.41,326.76 272.69,326.82 272.96,326.87 273.23,326.92 273.51,326.98 273.78,327.03 274.05,327.08 274.33,327.14 274.60,327.19 274.87,327.24 275.15,327.30 275.42,327.35 275.69,327.40 275.97,327.46 276.24,327.51 276.51,327.56 276.79,327.62 277.06,327.67 277.33,327.72 277.61,327.78 277.88,327.83 278.15,327.88 278.43,327.92 278.70,327.96 278.97,328.00 279.25,328.04 279.52,328.08 279.79,328.11 280.07,328.15 280.34,328.19 280.61,328.23 280.89,328.27 281.16,328.31 281.43,328.35 281.71,328.38 281.98,328.42 282.25,328.46 282.53,328.50 282.80,328.54 283.07,328.58 283.35,328.61 283.62,328.65 283.89,328.69 284.17,328.73 284.44,328.77 284.71,328.81 284.99,328.84 285.26,328.88 285.53,328.92 285.81,328.96 286.08,329.00 286.35,329.04 286.63,329.07 286.90,329.11 287.17,329.14 287.45,329.17 287.72,329.20 287.99,329.23 288.27,329.26 288.54,329.29 288.81,329.31 289.09,329.34 289.36,329.37 289.63,329.40 289.91,329.43 290.18,329.46 290.45,329.49 290.73,329.52 291.00,329.54 291.27,329.57 291.55,329.60 291.82,329.63 292.09,329.66 292.37,329.69 292.64,329.72 292.91,329.75 293.19,329.77 293.46,329.80 293.73,329.83 294.01,329.86 294.28,329.89 294.55,329.92 294.83,329.95 295.10,329.98 295.37,330.01 295.65,330.03 295.92,330.04 296.19,330.06 296.47,330.07 296.74,330.09 297.01,330.10 297.29,330.12 297.56,330.14 297.83,330.15 298.11,330.17 298.38,330.18 298.65,330.20 298.93,330.22 299.20,330.23 299.47,330.25 299.74,330.26 300.02,330.28 300.29,330.29 300.56,330.31 300.84,330.33 301.11,330.34 301.38,330.36 301.66,330.37 301.93,330.39 302.20,330.40 302.48,330.42 302.75,330.44 303.02,330.45 303.30,330.47 303.57,330.48 303.84,330.50 304.12,330.51 304.39,330.52 304.66,330.53 304.94,330.54 305.21,330.54 305.48,330.55 305.76,330.56 306.03,330.56 306.30,330.57 306.58,330.58 306.85,330.59 307.12,330.59 307.40,330.60 307.67,330.61 307.94,330.61 308.22,330.62 308.49,330.63 308.76,330.64 309.04,330.64 309.31,330.65 309.58,330.66 309.86,330.66 310.13,330.67 310.40,330.68 310.68,330.69 310.95,330.69 311.22,330.70 311.50,330.71 311.77,330.71 312.04,330.72 312.32,330.73 312.59,330.74 312.86,330.74 313.14,330.75 313.41,330.76 313.68,330.76 313.96,330.77 314.23,330.78 314.50,330.79 314.78,330.79 315.05,330.79 315.32,330.80 315.60,330.80 315.87,330.81 316.14,330.81 316.42,330.82 316.69,330.82 316.96,330.83 317.24,330.83 317.51,330.84 317.78,330.84 318.06,330.85 318.33,330.85 318.60,330.86 318.88,330.86 319.15,330.86 319.42,330.87 319.70,330.87 319.97,330.88 320.24,330.88 320.52,330.89 320.79,330.89 321.06,330.90 321.34,330.90 321.61,330.91 321.88,330.91 322.16,330.92 322.43,330.92 322.70,330.93 322.98,330.93 323.25,330.94 323.52,330.94 323.80,330.94 324.07,330.95 324.34,330.95 324.62,330.96 324.89,330.96 325.16,330.97 325.44,330.97 325.71,330.98 325.98,330.98 326.26,330.99 326.53,330.99 326.80,331.00 327.07,331.00 327.35,331.01 327.62,331.01 327.89,331.01 328.17,331.02 328.44,331.02 328.71,331.03 328.99,331.03 329.26,331.04 329.53,331.04 329.81,331.05 330.08,331.05 330.35,331.06 330.63,331.06 330.90,331.07 331.17,331.07 331.45,331.08 331.72,331.08 331.99,331.08 332.27,331.09 332.54,331.09 332.81,331.10 333.09,331.10 333.36,331.11 333.63,331.11 333.91,331.12 334.18,331.12 334.45,331.13 334.73,331.13 335.00,331.14 335.27,331.14 335.55,331.15 335.82,331.15 336.09,331.16 336.37,331.16 336.64,331.16 336.91,331.17 337.19,331.17 337.46,331.18 337.73,331.18 338.01,331.19 338.28,331.19 338.55,331.20 338.83,331.20 339.10,331.21 339.37,331.21 339.65,331.22 339.92,331.22 340.19,331.23 340.47,331.23 340.74,331.23 341.01,331.24 341.29,331.24 341.56,331.25 341.83,331.25 342.11,331.26 342.38,331.26 342.65,331.27 342.93,331.27 343.20,331.28 343.47,331.28 343.75,331.29 344.02,331.29 344.29,331.30 344.57,331.30 344.84,331.31 345.11,331.31 345.39,331.31 345.66,331.32 345.93,331.32 346.21,331.33 346.48,331.33 346.75,331.34 347.03,331.34 347.30,331.35 347.57,331.35 347.85,331.36 348.12,331.36 348.39,331.37 348.67,331.37 348.94,331.38 349.21,331.38 349.49,331.38 349.76,331.39 350.03,331.39 350.31,331.40 350.58,331.40 350.85,331.41 351.13,331.41 351.40,331.42 351.67,331.42 351.95,331.43 352.22,331.43 352.49,331.44 352.77,331.44 353.04,331.45 353.31,331.45 353.59,331.46 353.86,331.46 354.13,331.46 354.40,331.47 354.68,331.47 354.95,331.48 355.22,331.48 355.50,331.49 355.77,331.49 356.04,331.50 356.32,331.50 356.59,331.51 356.86,331.51 357.14,331.52 357.41,331.52 357.68,331.53 357.96,331.53 358.23,331.53 358.50,331.54 358.78,331.54 359.05,331.55 359.32,331.55 359.60,331.56 359.87,331.56 360.14,331.57 360.42,331.57 360.69,331.58 360.96,331.58 361.24,331.59 361.51,331.59 361.78,331.60 362.06,331.60 362.33,331.60 362.60,331.61 362.88,331.61 363.15,331.62 363.42,331.62 363.70,331.63 363.97,331.63 364.24,331.64 364.52,331.64 364.79,331.65 365.06,331.65 365.34,331.66 365.61,331.66 365.88,331.67 366.16,331.67 366.43,331.68 366.70,331.68 366.98,331.68 367.25,331.69"/>
<polyline fill="none" stroke="#222" stroke-width="1.15" points="230.60,333.00 230.74,323.89 230.88,315.82 231.02,308.67 231.16,302.33 231.30,296.71 231.44,291.73 231.58,287.31 231.72,283.40 231.86,279.93 232.00,276.86 232.14,274.13 232.28,271.72 232.42,269.58 232.56,267.68 232.70,266.00 232.84,264.51 232.98,263.19 233.12,262.01 233.26,260.98 233.40,260.06 233.54,259.24 233.68,258.52 233.82,257.88 233.96,257.31 234.10,256.81 234.24,256.36 234.38,255.97 234.52,255.62 234.66,255.31 234.80,255.03 234.94,254.79 235.08,254.57 235.23,254.38 235.37,254.44 235.51,254.55 235.65,254.66 235.79,254.77 235.93,254.88 236.07,254.98 236.07,254.98 236.34,255.20 236.61,255.41 236.89,255.62 237.16,255.83 237.43,256.04 237.71,256.25 237.98,256.46 238.25,256.67 238.53,256.88 238.80,257.29 239.07,257.69 239.35,258.10 239.62,258.50 239.89,258.91 240.17,259.32 240.44,259.72 240.71,260.13 240.99,260.53 241.26,260.94 241.53,261.34 241.81,261.75 242.08,262.18 242.35,262.66 242.63,263.15 242.90,263.63 243.17,264.11 243.45,264.59 243.72,265.07 243.99,265.55 244.26,266.03 244.54,266.51 244.81,266.99 245.08,267.47 245.36,267.95 245.63,268.33 245.90,268.70 246.18,269.07 246.45,269.44 246.72,269.80 247.00,270.17 247.27,270.54 247.54,270.91 247.82,271.27 248.09,271.64 248.36,272.01 248.64,272.38 248.91,272.74 249.18,273.11 249.46,273.48 249.73,273.85 250.00,274.21 250.28,274.58 250.55,274.92 250.82,275.24 251.10,275.56 251.37,275.89 251.64,276.21 251.92,276.53 252.19,276.86 252.46,277.18 252.74,277.50 253.01,277.83 253.28,278.15 253.56,278.47 253.83,278.80 254.10,279.12 254.38,279.44 254.65,279.77 254.92,280.09 255.20,280.41 255.47,280.73 255.74,281.00 256.02,281.28 256.29,281.55 256.56,281.82 256.84,282.09 257.11,282.36 257.38,282.64 257.66,282.91 257.93,283.18 258.20,283.45 258.48,283.73 258.75,284.00 259.02,284.27 259.30,284.54 259.57,284.82 259.84,285.09 260.12,285.36 260.39,285.63 260.66,285.90 260.94,286.18 261.21,286.45 261.48,286.72 261.76,286.99 262.03,287.27 262.30,287.53 262.58,287.74 262.85,287.96 263.12,288.18 263.40,288.40 263.67,288.61 263.94,288.83 264.22,289.05 264.49,289.27 264.76,289.48 265.04,289.70 265.31,289.92 265.58,290.13 265.86,290.35 266.13,290.57 266.40,290.79 266.68,291.00 266.95,291.22 267.22,291.44 267.50,291.65 267.77,291.87 268.04,292.09 268.32,292.31 268.59,292.52 268.86,292.74 269.14,292.96 269.41,293.18 269.68,293.39 269.96,293.61 270.23,293.83 270.50,294.04 270.78,294.26 271.05,294.45 271.32,294.65 271.60,294.84 271.87,295.03 272.14,295.23 272.41,295.42 272.69,295.62 272.96,295.81 273.23,296.01 273.51,296.20 273.78,296.40 274.05,296.59 274.33,296.78 274.60,296.98 274.87,297.17 275.15,297.37 275.42,297.56 275.69,297.76 275.97,297.95 276.24,298.14 276.51,298.34 276.79,298.53 277.06,298.73 277.33,298.92 277.61,299.12 277.88,299.31 278.15,299.50 278.43,299.70 278.70,299.89 278.97,300.09 279.25,300.27 279.52,300.43 279.79,300.60 280.07,300.76 280.34,300.93 280.61,301.09 280.89,301.26 281.16,301.42 281.43,301.59 281.71,301.75 281.98,301.91 282.25,302.08 282.53,302.24 282.80,302.41 283.07,302.57 283.35,302.74 283.62,302.90 283.89,303.07 284.17,303.23 284.44,303.40 284.71,303.56 284.99,303.73 285.26,303.89 285.53,304.06 285.81,304.22 286.08,304.39 286.35,304.55 286.63,304.72 286.90,304.88 287.17,305.05 287.45,305.21 287.72,305.38 287.99,305.56 288.27,305.73 288.54,305.91 288.81,306.09 289.09,306.26 289.36,306.44 289.63,306.62 289.91,306.79 290.18,306.97 290.45,307.15 290.73,307.32 291.00,307.50 291.27,307.67 291.55,307.85 291.82,308.03 292.09,308.20 292.37,308.38 292.64,308.56 292.91,308.70 293.19,308.84 293.46,308.98 293.73,309.12 294.01,309.25 294.28,309.39 294.55,309.53 294.83,309.67 295.10,309.80 295.37,309.94 295.65,310.08 295.92,310.22 296.19,310.36 296.47,310.49 296.74,310.63 297.01,310.77 297.29,310.91 297.56,311.04 297.83,311.18 298.11,311.32 298.38,311.46 298.65,311.60 298.93,311.73 299.20,311.87 299.47,312.01 299.74,312.15 300.02,312.29 300.29,312.42 300.56,312.56 300.84,312.70 301.11,312.84 301.38,312.97 301.66,313.11 301.93,313.25 302.20,313.38 302.48,313.51 302.75,313.65 303.02,313.78 303.30,313.91 303.57,314.05 303.84,314.18 304.12,314.31 304.39,314.45 304.66,314.58 304.94,314.71 305.21,314.85 305.48,314.98 305.76,315.11 306.03,315.25 306.30,315.38 306.58,315.51 306.85,315.65 307.12,315.78 307.40,315.91 307.67,316.05 307.94,316.18 308.22,316.31 308.49,316.45 308.76,316.58 309.04,316.72 309.31,316.85 309.58,316.98 309.86,317.12 310.13,317.25 310.40,317.37 310.68,317.48 310.95,317.59 311.22,317.70 311.50,317.81 311.77,317.92 312.04,318.03 312.32,318.13 312.59,318.24 312.86,318.35 313.14,318.46 313.41,318.57 313.68,318.68 313.96,318.79 314.23,318.90 314.50,319.01 314.78,319.12 315.05,319.23 315.32,319.34 315.60,319.45 315.87,319.56 316.14,319.66 316.42,319.77 316.69,319.88 316.96,319.99 317.24,320.10 317.51,320.20 317.78,320.31 318.06,320.42 318.33,320.53 318.60,320.64 318.88,320.75 319.15,320.85 319.42,320.96 319.70,321.07 319.97,321.18 320.24,321.29 320.52,321.39 320.79,321.50 321.06,321.61 321.34,321.72 321.61,321.83 321.88,321.92 322.16,322.01 322.43,322.10 322.70,322.18 322.98,322.27 323.25,322.35 323.52,322.44 323.80,322.52 324.07,322.61 324.34,322.69 324.62,322.78 324.89,322.87 325.16,322.95 325.44,323.04 325.71,323.12 325.98,323.21 326.26,323.29 326.53,323.38 326.80,323.47 327.07,323.55 327.35,323.64 327.62,323.72 327.89,323.79 328.17,323.86 328.44,323.93 328.71,324.00 328.99,324.07 329.26,324.14 329.53,324.21 329.81,324.28 330.08,324.35 330.35,324.42 330.63,324.49 330.90,324.56 331.17,324.63 331.45,324.70 331.72,324.77 331.99,324.84 332.27,324.91 332.54,324.98 332.81,325.05 333.09,325.12 333.36,325.19 333.63,325.26 333.91,325.32 334.18,325.38 334.45,325.45 334.73,325.51 335.00,325.57 335.27,325.63 335.55,325.70 335.82,325.76 336.09,325.82 336.37,325.89 336.64,325.95 336.91,326.01 337.19,326.08 337.46,326.14 337.73,326.20 338.01,326.26 338.28,326.33 338.55,326.39 338.83,326.45 339.10,326.51 339.37,326.57 339.65,326.63 339.92,326.69 340.19,326.74 340.47,326.80 340.74,326.86 341.01,326.92 341.29,326.97 341.56,327.03 341.83,327.09 342.11,327.15 342.38,327.21 342.65,327.26 342.93,327.32 343.20,327.38 343.47,327.44 343.75,327.49 344.02,327.55 344.29,327.61 344.57,327.67 344.84,327.72 345.11,327.76 345.39,327.81 345.66,327.85 345.93,327.89 346.21,327.93 346.48,327.98 346.75,328.02 347.03,328.06 347.30,328.10 347.57,328.15 347.85,328.19 348.12,328.23 348.39,328.27 348.67,328.32 348.94,328.36 349.21,328.40 349.49,328.45 349.76,328.49 350.03,328.53 350.31,328.57 350.58,328.62 350.85,328.65 351.13,328.69 351.40,328.73 351.67,328.76 351.95,328.80 352.22,328.84 352.49,328.87 352.77,328.91 353.04,328.94 353.31,328.98 353.59,329.02 353.86,329.05 354.13,329.09 354.40,329.13 354.68,329.16 354.95,329.20 355.22,329.24 355.50,329.27 355.77,329.31 356.04,329.35 356.32,329.38 356.59,329.41 356.86,329.44 357.14,329.47 357.41,329.50 357.68,329.53 357.96,329.56 358.23,329.59 358.50,329.63 358.78,329.66 359.05,329.69 359.32,329.72 359.60,329.75 359.87,329.78 360.14,329.81 360.42,329.84 360.69,329.87 360.96,329.90 361.24,329.93 361.51,329.96 361.78,329.99 362.06,330.02 362.33,330.05 362.60,330.08 362.88,330.11 363.15,330.14 363.42,330.17 363.70,330.20 363.97,330.23 364.24,330.26 364.52,330.30 364.79,330.33 365.06,330.36 365.34,330.39 365.61,330.42 365.88,330.45 366.16,330.48 366.43,330.51 366.70,330.54 366.98,330.57 367.25,330.60"/>
</svg>
</body></html>
